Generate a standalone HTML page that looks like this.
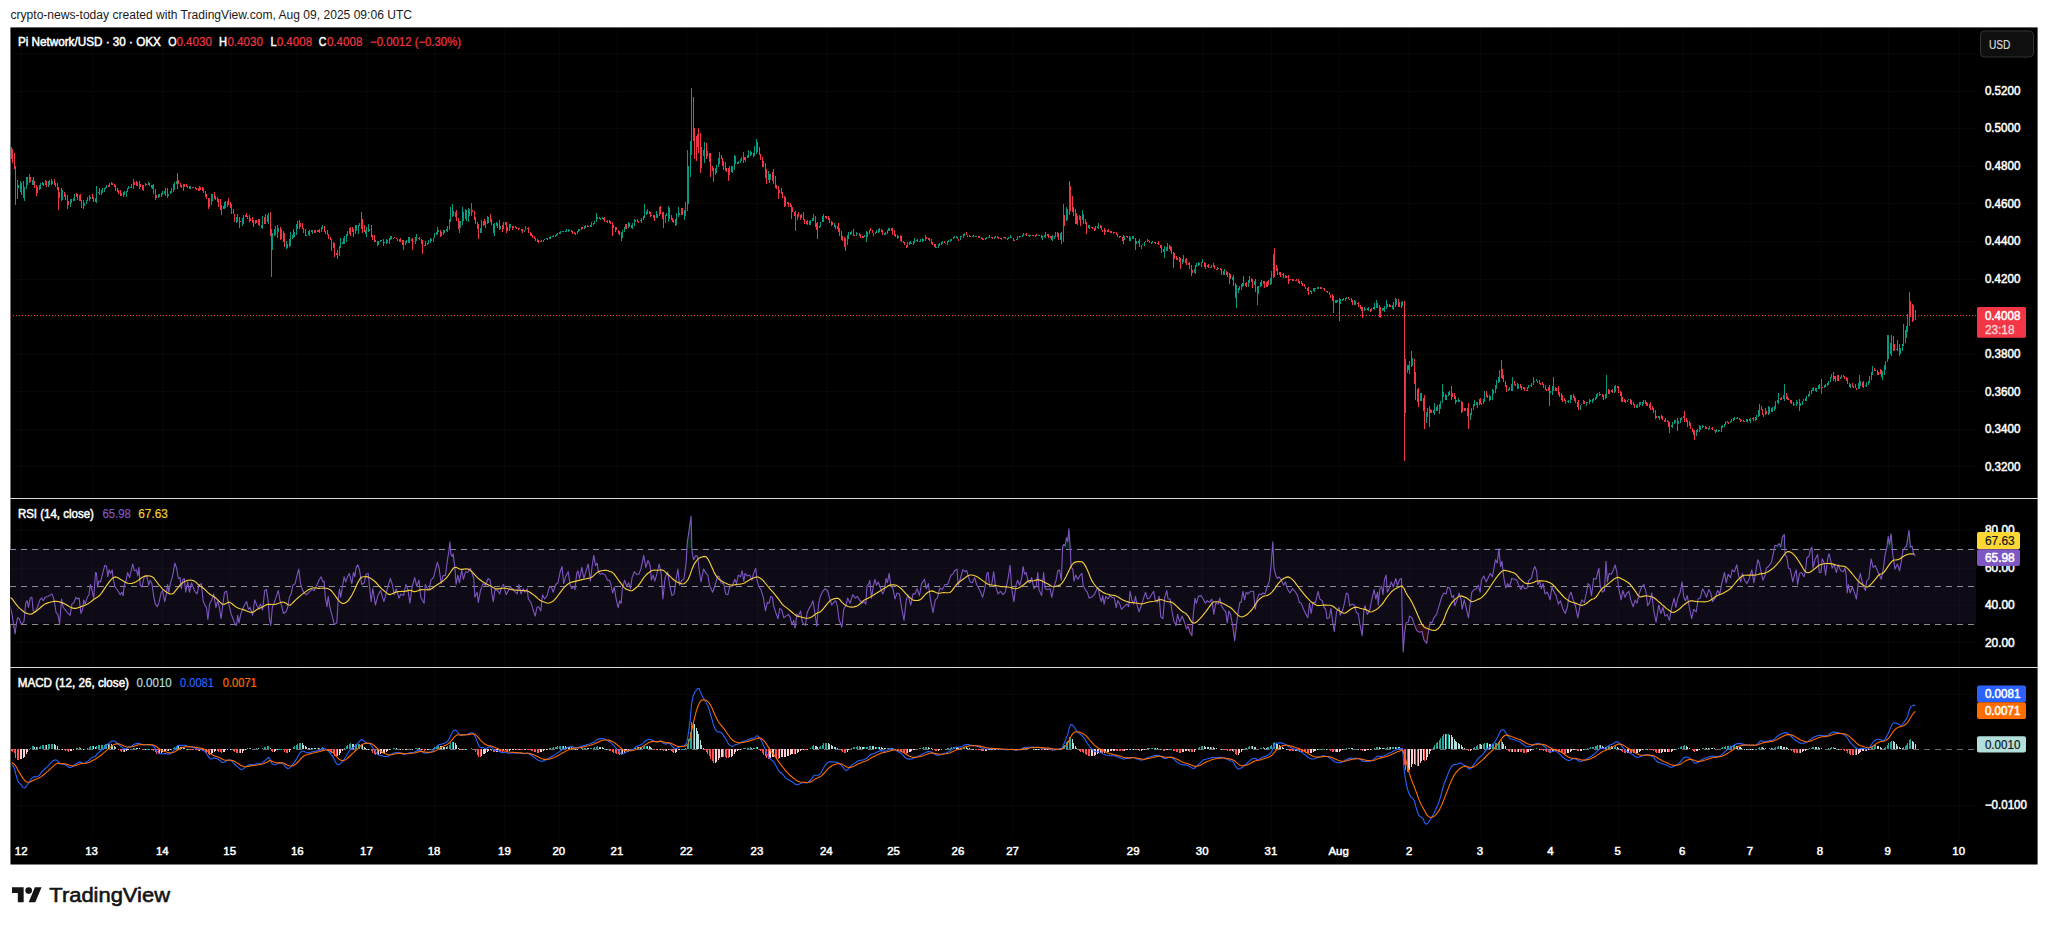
<!DOCTYPE html>
<html><head><meta charset="utf-8"><title>Pi Network/USD chart</title>
<style>html,body{margin:0;padding:0;background:#fff}body{width:2048px;height:925px;position:relative;overflow:hidden}</style></head>
<body>
<svg width="2048" height="925" viewBox="0 0 2048 925" style="position:absolute;left:0;top:0;font-family:'Liberation Sans',sans-serif">
<rect x="0" y="0" width="2048" height="925" fill="#fff"/>
<rect x="10.45" y="27.4" width="2027.15" height="837.1" fill="#000"/>
<rect x="10" y="548.75" width="1966" height="75.00" fill="#0e0a16"/>
<path d="M21.5 28V838M92.5 28V838M162.5 28V838M230.5 28V838M297.5 28V838M366.5 28V838M434.5 28V838M504.5 28V838M559.5 28V838M617.5 28V838M686.5 28V838M757.5 28V838M826.5 28V838M894.5 28V838M958.5 28V838M1012.5 28V838M1133.5 28V838M1202.5 28V838M1271.5 28V838M1339.5 28V838M1409.5 28V838M1480.5 28V838M1550.5 28V838M1618.5 28V838M1682.5 28V838M1750.5 28V838M1820.5 28V838M1888.5 28V838M1959.5 28V838M10 91.5H1976M10 128.5H1976M10 166.5H1976M10 203.5H1976M10 241.5H1976M10 279.5H1976M10 354.5H1976M10 391.5H1976M10 429.5H1976M10 466.5H1976M10 316.5H1976M10 53.5H1976M10 530.5H1976M10 568.5H1976M10 605.5H1976M10 642.5H1976M10 805.5H1976M10 694.5H1976" stroke="#9fb8b8" stroke-opacity="0.04" stroke-width="1" fill="none" shape-rendering="crispEdges"/>
<rect x="10" y="498" width="2028" height="1" fill="#d6d9e0"/>
<rect x="10" y="667" width="2028" height="1" fill="#d6d9e0"/>
<path d="M10 549.5H1974" stroke="#8a8d96" stroke-width="1" stroke-dasharray="6 5" fill="none" shape-rendering="crispEdges"/>
<path d="M10 586.5H1974" stroke="#8a8d96" stroke-width="1" stroke-dasharray="6 5" fill="none" shape-rendering="crispEdges"/>
<path d="M10 624.5H1974" stroke="#8a8d96" stroke-width="1" stroke-dasharray="6 5" fill="none" shape-rendering="crispEdges"/>
<path d="M10 749.5H1974" stroke="#6b6e76" stroke-width="1" stroke-dasharray="6 5" fill="none" shape-rendering="crispEdges"/>
<path d="M10 315.5H1976" stroke="#f23645" stroke-width="1" stroke-dasharray="1 2" fill="none" shape-rendering="crispEdges"/>
<path d="M18 185v3h1v-3zM20 181v11h1v-11zM24 187v14h1v-14zM26 177v12h1v-12zM27 177v8h1v-8zM29 174v9h1v-9zM32 180v5h1v-5zM37 187v6h1v-6zM39 185v5h1v-5zM40 183v6h1v-6zM42 182v3h1v-3zM45 180v5h1v-5zM48 181v6h1v-6zM49 180v5h1v-5zM52 181v3h1v-3zM59 192v6h1v-6zM61 188v13h1v-13zM62 190v10h1v-10zM70 199v8h1v-8zM71 199v4h1v-4zM73 198v3h1v-3zM74 194v7h1v-7zM79 195v6h1v-6zM83 200v9h1v-9zM84 203v3h1v-3zM86 200v4h1v-4zM87 197v4h1v-4zM90 197v2h1v-2zM96 186v17h1v-17zM98 192v1h1v-1zM101 190v5h1v-5zM102 188v5h1v-5zM104 188v4h1v-4zM105 187v2h1v-2zM106 185v3h1v-3zM109 183v4h1v-4zM111 182v3h1v-3zM124 191v4h1v-4zM126 191v6h1v-6zM127 188v4h1v-4zM128 186v3h1v-3zM130 187v1h1v-1zM131 184v4h1v-4zM133 179v10h1v-10zM137 182v4h1v-4zM143 185v6h1v-6zM145 183v3h1v-3zM148 182v3h1v-3zM152 185v4h1v-4zM158 194v4h1v-4zM159 194v3h1v-3zM161 193v4h1v-4zM162 191v4h1v-4zM164 191v3h1v-3zM168 194v2h1v-2zM170 191v3h1v-3zM171 188v5h1v-5zM173 184v8h1v-8zM174 182v8h1v-8zM176 181v3h1v-3zM183 184v7h1v-7zM190 186v3h1v-3zM199 186v5h1v-5zM209 198v9h1v-9zM211 194v11h1v-11zM212 194v7h1v-7zM223 206v3h1v-3zM224 202v7h1v-7zM225 201v7h1v-7zM227 201v6h1v-6zM236 217v6h1v-6zM242 218v8h1v-8zM243 215v9h1v-9zM247 216v3h1v-3zM255 220v4h1v-4zM262 216v13h1v-13zM265 214v10h1v-10zM268 213v11h1v-11zM272 233v17h1v-17zM274 229v7h1v-7zM275 226v9h1v-9zM277 225v13h1v-13zM278 228v4h1v-4zM286 241v8h1v-8zM289 239v8h1v-8zM290 232v14h1v-14zM292 235v4h1v-4zM293 229v9h1v-9zM294 232v5h1v-5zM296 224v11h1v-11zM297 221v8h1v-8zM299 220v9h1v-9zM306 235v1h1v-1zM308 231v4h1v-4zM309 230v6h1v-6zM312 230v4h1v-4zM317 230v2h1v-2zM319 229v4h1v-4zM321 227v5h1v-5zM322 225v4h1v-4zM337 250v9h1v-9zM339 246v10h1v-10zM340 238v10h1v-10zM342 242v2h1v-2zM343 238v6h1v-6zM344 236v8h1v-8zM346 234v8h1v-8zM347 231v5h1v-5zM349 228v6h1v-6zM355 225v9h1v-9zM356 225v6h1v-6zM358 225v9h1v-9zM359 223v3h1v-3zM366 227v10h1v-10zM368 224v8h1v-8zM378 241v4h1v-4zM380 240v2h1v-2zM381 240v1h1v-1zM384 242v1h1v-1zM386 239v5h1v-5zM387 240v3h1v-3zM389 238v6h1v-6zM390 236v4h1v-4zM393 238v1h1v-1zM399 239v3h1v-3zM405 241v4h1v-4zM406 240v3h1v-3zM408 237v6h1v-6zM409 237v6h1v-6zM413 241v1h1v-1zM415 237v7h1v-7zM416 234v7h1v-7zM425 241v5h1v-5zM428 240v4h1v-4zM430 238v5h1v-5zM433 238v4h1v-4zM434 233v5h1v-5zM436 232v3h1v-3zM437 227v8h1v-8zM438 230v2h1v-2zM443 230v5h1v-5zM444 230v3h1v-3zM446 229v2h1v-2zM447 226v6h1v-6zM449 219v11h1v-11zM450 207v15h1v-15zM452 204v13h1v-13zM459 221v12h1v-12zM460 221v7h1v-7zM462 207v18h1v-18zM463 212v9h1v-9zM466 210v11h1v-11zM468 208v14h1v-14zM469 209v7h1v-7zM471 203v13h1v-13zM480 228v5h1v-5zM481 220v13h1v-13zM483 221v5h1v-5zM485 221v7h1v-7zM487 216v8h1v-8zM488 217v6h1v-6zM494 223v13h1v-13zM496 222v4h1v-4zM500 226v3h1v-3zM503 222v7h1v-7zM505 222v3h1v-3zM509 224v7h1v-7zM510 224v4h1v-4zM513 226v2h1v-2zM524 230v2h1v-2zM525 226v4h1v-4zM527 228v1h1v-1zM541 240v2h1v-2zM543 240v2h1v-2zM544 239v1h1v-1zM546 238v1h1v-1zM547 238v2h1v-2zM549 237v2h1v-2zM550 236v3h1v-3zM552 236v1h1v-1zM553 235v2h1v-2zM555 235v2h1v-2zM556 234v2h1v-2zM557 233v2h1v-2zM559 232v2h1v-2zM560 231v3h1v-3zM562 231v1h1v-1zM566 229v3h1v-3zM568 229v3h1v-3zM577 231v3h1v-3zM578 229v3h1v-3zM579 229v2h1v-2zM581 227v3h1v-3zM584 226v3h1v-3zM585 225v3h1v-3zM590 225v2h1v-2zM591 222v5h1v-5zM593 223v2h1v-2zM594 221v3h1v-3zM596 213v9h1v-9zM597 217v2h1v-2zM600 218v2h1v-2zM602 217v2h1v-2zM609 220v3h1v-3zM622 230v8h1v-8zM624 227v5h1v-5zM625 224v5h1v-5zM628 222v6h1v-6zM632 223v6h1v-6zM634 219v7h1v-7zM635 220v2h1v-2zM640 220v1h1v-1zM641 218v5h1v-5zM643 216v4h1v-4zM644 204v14h1v-14zM646 211v4h1v-4zM647 209v5h1v-5zM656 211v7h1v-7zM657 214v4h1v-4zM659 207v9h1v-9zM665 215v8h1v-8zM666 213v3h1v-3zM668 206v16h1v-16zM673 220v3h1v-3zM675 219v7h1v-7zM676 213v12h1v-12zM678 207v10h1v-10zM681 208v7h1v-7zM684 210v10h1v-10zM685 202v14h1v-14zM687 150v61h1v-61zM688 166v38h1v-38zM690 141v36h1v-36zM691 88v67h1v-67zM697 134v13h1v-13zM701 147v21h1v-21zM703 150v6h1v-6zM704 142v21h1v-21zM715 168v7h1v-7zM716 165v8h1v-8zM718 158v9h1v-9zM719 152v12h1v-12zM729 166v9h1v-9zM732 166v7h1v-7zM734 155v15h1v-15zM738 161v3h1v-3zM740 159v4h1v-4zM741 157v4h1v-4zM743 152v11h1v-11zM745 157v5h1v-5zM747 155v3h1v-3zM748 150v8h1v-8zM750 151v5h1v-5zM754 146v10h1v-10zM756 139v15h1v-15zM768 171v9h1v-9zM770 174v6h1v-6zM779 190v3h1v-3zM781 188v6h1v-6zM787 202v2h1v-2zM797 214v6h1v-6zM801 214v4h1v-4zM807 220v5h1v-5zM809 221v4h1v-4zM810 220v5h1v-5zM812 218v3h1v-3zM813 214v7h1v-7zM819 226v2h1v-2zM820 222v5h1v-5zM822 216v6h1v-6zM823 214v8h1v-8zM834 223v4h1v-4zM845 238v13h1v-13zM847 235v10h1v-10zM848 232v7h1v-7zM850 232v3h1v-3zM851 231v3h1v-3zM856 232v4h1v-4zM857 233v1h1v-1zM863 236v2h1v-2zM864 235v2h1v-2zM866 231v11h1v-11zM867 232v5h1v-5zM869 230v4h1v-4zM875 232v2h1v-2zM876 230v3h1v-3zM878 229v4h1v-4zM884 233v2h1v-2zM885 232v3h1v-3zM887 230v4h1v-4zM888 228v3h1v-3zM889 228v3h1v-3zM898 236v2h1v-2zM907 242v5h1v-5zM909 242v3h1v-3zM910 241v3h1v-3zM913 241v4h1v-4zM914 238v5h1v-5zM916 240v1h1v-1zM919 241v1h1v-1zM920 239v3h1v-3zM922 238v4h1v-4zM925 235v6h1v-6zM936 247v1h1v-1zM938 244v4h1v-4zM939 243v3h1v-3zM941 242v3h1v-3zM942 241v3h1v-3zM947 241v4h1v-4zM948 240v2h1v-2zM950 239v3h1v-3zM951 239v2h1v-2zM953 237v2h1v-2zM954 236v2h1v-2zM956 236v2h1v-2zM960 236v4h1v-4zM961 236v1h1v-1zM963 234v4h1v-4zM964 233v3h1v-3zM972 236v1h1v-1zM976 236v1h1v-1zM985 238v2h1v-2zM986 237v2h1v-2zM988 237v1h1v-1zM989 235v3h1v-3zM994 237v2h1v-2zM995 236v2h1v-2zM1001 238v2h1v-2zM1003 237v1h1v-1zM1007 238v2h1v-2zM1008 237v2h1v-2zM1010 235v3h1v-3zM1016 239v1h1v-1zM1017 236v4h1v-4zM1019 236v2h1v-2zM1020 236v1h1v-1zM1022 235v2h1v-2zM1023 233v3h1v-3zM1028 235v1h1v-1zM1030 235v1h1v-1zM1033 235v1h1v-1zM1038 235v1h1v-1zM1042 236v4h1v-4zM1044 235v2h1v-2zM1045 232v6h1v-6zM1052 235v6h1v-6zM1054 236v3h1v-3zM1055 232v5h1v-5zM1060 233v7h1v-7zM1063 204v38h1v-38zM1066 207v14h1v-14zM1067 209v11h1v-11zM1069 181v34h1v-34zM1077 216v9h1v-9zM1079 215v5h1v-5zM1082 210v10h1v-10zM1088 225v3h1v-3zM1091 227v1h1v-1zM1095 226v4h1v-4zM1097 226v2h1v-2zM1098 223v6h1v-6zM1105 230v2h1v-2zM1107 230v2h1v-2zM1113 232v2h1v-2zM1124 236v4h1v-4zM1130 237v4h1v-4zM1132 236v3h1v-3zM1136 241v3h1v-3zM1138 241v2h1v-2zM1141 245v4h1v-4zM1142 244v1h1v-1zM1144 242v4h1v-4zM1145 241v1h1v-1zM1147 239v3h1v-3zM1152 241v2h1v-2zM1157 243v1h1v-1zM1164 246v12h1v-12zM1166 247v4h1v-4zM1167 243v8h1v-8zM1177 258v2h1v-2zM1182 259v5h1v-5zM1185 259v4h1v-4zM1194 269v4h1v-4zM1195 265v9h1v-9zM1196 263v4h1v-4zM1198 262v4h1v-4zM1199 263v2h1v-2zM1201 262v5h1v-5zM1202 259v4h1v-4zM1207 265v2h1v-2zM1210 267v1h1v-1zM1211 265v3h1v-3zM1217 267v3h1v-3zM1218 268v1h1v-1zM1224 269v6h1v-6zM1232 277v3h1v-3zM1236 285v23h1v-23zM1238 288v5h1v-5zM1239 286v4h1v-4zM1241 284v6h1v-6zM1242 283v4h1v-4zM1243 276v10h1v-10zM1248 280v7h1v-7zM1251 278v4h1v-4zM1254 281v4h1v-4zM1257 286v19h1v-19zM1258 286v8h1v-8zM1260 282v5h1v-5zM1261 280v6h1v-6zM1263 281v3h1v-3zM1267 281v6h1v-6zM1270 278v7h1v-7zM1271 271v13h1v-13zM1273 254v24h1v-24zM1279 272v3h1v-3zM1289 279v2h1v-2zM1295 280v1h1v-1zM1310 290v2h1v-2zM1313 288v3h1v-3zM1314 288v4h1v-4zM1315 288v1h1v-1zM1317 287v2h1v-2zM1318 287v2h1v-2zM1321 287v2h1v-2zM1336 300v3h1v-3zM1340 299v5h1v-5zM1342 299v2h1v-2zM1343 298v2h1v-2zM1345 298v3h1v-3zM1346 297v2h1v-2zM1354 300v5h1v-5zM1357 303v1h1v-1zM1364 307v4h1v-4zM1368 307v4h1v-4zM1371 308v3h1v-3zM1373 307v2h1v-2zM1374 303v7h1v-7zM1376 300v8h1v-8zM1382 308v3h1v-3zM1384 306v6h1v-6zM1386 300v9h1v-9zM1387 304v3h1v-3zM1392 305v4h1v-4zM1393 302v8h1v-8zM1396 299v6h1v-6zM1399 302v5h1v-5zM1402 301v5h1v-5zM1405 359v54h1v-54zM1407 365v8h1v-8zM1408 365v5h1v-5zM1409 361v13h1v-13zM1411 351v16h1v-16zM1412 358v8h1v-8zM1420 393v8h1v-8zM1426 412v11h1v-11zM1427 408v9h1v-9zM1429 406v21h1v-21zM1433 410v3h1v-3zM1434 403v12h1v-12zM1436 407v4h1v-4zM1439 404v10h1v-10zM1440 401v8h1v-8zM1442 384v19h1v-19zM1446 395v5h1v-5zM1448 392v4h1v-4zM1456 400v2h1v-2zM1458 398v4h1v-4zM1470 413v7h1v-7zM1471 408v7h1v-7zM1473 404v6h1v-6zM1474 400v6h1v-6zM1476 402v3h1v-3zM1477 402v6h1v-6zM1483 399v5h1v-5zM1484 391v11h1v-11zM1487 395v3h1v-3zM1490 396v4h1v-4zM1492 389v11h1v-11zM1495 385v8h1v-8zM1496 380v9h1v-9zM1498 377v6h1v-6zM1499 370v12h1v-12zM1508 389v2h1v-2zM1511 384v7h1v-7zM1512 377v14h1v-14zM1517 383v6h1v-6zM1518 384v5h1v-5zM1527 387v4h1v-4zM1528 385v3h1v-3zM1530 385v1h1v-1zM1531 383v4h1v-4zM1533 377v8h1v-8zM1534 381v1h1v-1zM1536 379v2h1v-2zM1550 391v2h1v-2zM1552 386v9h1v-9zM1553 377v14h1v-14zM1567 401v1h1v-1zM1568 400v3h1v-3zM1570 395v8h1v-8zM1571 395v5h1v-5zM1580 405v5h1v-5zM1581 404v1h1v-1zM1583 400v4h1v-4zM1586 402v4h1v-4zM1587 402v1h1v-1zM1589 399v5h1v-5zM1590 400v2h1v-2zM1592 399v4h1v-4zM1593 398v3h1v-3zM1595 397v3h1v-3zM1596 394v5h1v-5zM1597 393v4h1v-4zM1599 392v4h1v-4zM1600 394v1h1v-1zM1605 394v5h1v-5zM1606 375v23h1v-23zM1609 390v4h1v-4zM1614 386v7h1v-7zM1615 385v7h1v-7zM1617 386v2h1v-2zM1627 400v2h1v-2zM1628 399v1h1v-1zM1636 405v3h1v-3zM1637 404v4h1v-4zM1639 402v5h1v-5zM1640 402v3h1v-3zM1642 402v4h1v-4zM1643 400v4h1v-4zM1658 416v2h1v-2zM1659 416v4h1v-4zM1671 425v2h1v-2zM1672 422v6h1v-6zM1674 420v4h1v-4zM1675 420v3h1v-3zM1678 421v3h1v-3zM1680 418v5h1v-5zM1681 417v3h1v-3zM1683 416v2h1v-2zM1696 430v6h1v-6zM1697 429v3h1v-3zM1699 425v7h1v-7zM1700 426v4h1v-4zM1702 425v3h1v-3zM1708 428v2h1v-2zM1709 426v3h1v-3zM1716 429v3h1v-3zM1718 430v2h1v-2zM1721 426v6h1v-6zM1722 425v3h1v-3zM1724 424v3h1v-3zM1725 421v4h1v-4zM1727 421v2h1v-2zM1730 421v2h1v-2zM1731 419v3h1v-3zM1733 418v3h1v-3zM1734 417v3h1v-3zM1736 418v1h1v-1zM1746 419v3h1v-3zM1749 419v2h1v-2zM1750 418v5h1v-5zM1753 417v4h1v-4zM1755 417v4h1v-4zM1756 415v5h1v-5zM1758 410v7h1v-7zM1759 404v12h1v-12zM1763 414v3h1v-3zM1765 408v7h1v-7zM1768 406v9h1v-9zM1769 407v7h1v-7zM1772 407v5h1v-5zM1774 406v5h1v-5zM1775 401v8h1v-8zM1777 400v3h1v-3zM1778 393v11h1v-11zM1781 397v3h1v-3zM1783 395v4h1v-4zM1784 384v17h1v-17zM1794 404v1h1v-1zM1796 400v6h1v-6zM1800 403v3h1v-3zM1802 401v4h1v-4zM1803 399v2h1v-2zM1806 396v5h1v-5zM1808 394v3h1v-3zM1809 391v5h1v-5zM1811 390v4h1v-4zM1812 388v3h1v-3zM1813 387v4h1v-4zM1816 388v4h1v-4zM1818 385v4h1v-4zM1821 379v15h1v-15zM1824 385v3h1v-3zM1825 384v3h1v-3zM1827 383v3h1v-3zM1828 381v4h1v-4zM1830 377v5h1v-5zM1831 374v4h1v-4zM1837 375v6h1v-6zM1840 377v2h1v-2zM1841 375v3h1v-3zM1850 384v4h1v-4zM1853 386v2h1v-2zM1858 383v6h1v-6zM1859 375v14h1v-14zM1860 381v5h1v-5zM1866 382v5h1v-5zM1868 381v4h1v-4zM1869 376v7h1v-7zM1871 372v8h1v-8zM1872 366v9h1v-9zM1882 371v9h1v-9zM1884 365v10h1v-10zM1885 361v9h1v-9zM1887 335v27h1v-27zM1888 335v24h1v-24zM1890 343v11h1v-11zM1891 335v21h1v-21zM1896 349v1h1v-1zM1900 348v6h1v-6zM1902 344v7h1v-7zM1903 324v22h1v-22zM1905 330v13h1v-13zM1906 326v12h1v-12zM1907 314v18h1v-18zM1909 292v34h1v-34zM1913 305v16h1v-16z" fill="#089981" shape-rendering="crispEdges"/>
<path d="M11 147v12h1v-12zM12 149v14h1v-14zM14 153v16h1v-16zM15 166v39h1v-39zM17 180v19h1v-19zM21 183v12h1v-12zM23 181v17h1v-17zM30 177v5h1v-5zM33 177v8h1v-8zM34 181v7h1v-7zM36 185v11h1v-11zM43 183v3h1v-3zM46 181v6h1v-6zM51 179v6h1v-6zM54 179v6h1v-6zM55 183v4h1v-4zM57 183v7h1v-7zM58 187v23h1v-23zM64 192v5h1v-5zM65 194v6h1v-6zM67 195v14h1v-14zM68 201v4h1v-4zM76 193v4h1v-4zM77 194v6h1v-6zM80 194v7h1v-7zM81 200v8h1v-8zM89 195v6h1v-6zM92 194v5h1v-5zM93 197v5h1v-5zM95 198v4h1v-4zM99 188v7h1v-7zM108 185v2h1v-2zM112 183v2h1v-2zM114 184v3h1v-3zM115 185v6h1v-6zM117 188v4h1v-4zM118 190v4h1v-4zM120 190v6h1v-6zM121 193v3h1v-3zM123 192v5h1v-5zM134 182v3h1v-3zM136 181v5h1v-5zM139 181v8h1v-8zM140 184v3h1v-3zM142 185v5h1v-5zM146 184v1h1v-1zM149 183v3h1v-3zM151 185v3h1v-3zM153 184v10h1v-10zM155 189v11h1v-11zM156 195v3h1v-3zM165 188v8h1v-8zM167 188v10h1v-10zM177 173v16h1v-16zM178 180v4h1v-4zM180 183v4h1v-4zM181 185v3h1v-3zM184 184v3h1v-3zM186 184v3h1v-3zM187 186v2h1v-2zM189 186v3h1v-3zM192 187v1h1v-1zM193 187v1h1v-1zM195 187v2h1v-2zM196 188v2h1v-2zM198 188v3h1v-3zM200 187v3h1v-3zM202 187v4h1v-4zM203 188v5h1v-5zM205 191v6h1v-6zM206 194v5h1v-5zM208 198v11h1v-11zM214 192v7h1v-7zM215 196v4h1v-4zM217 197v5h1v-5zM218 199v8h1v-8zM220 199v11h1v-11zM221 205v10h1v-10zM228 198v7h1v-7zM230 202v6h1v-6zM231 204v10h1v-10zM233 209v5h1v-5zM234 214v8h1v-8zM237 214v8h1v-8zM239 217v11h1v-11zM240 221v1h1v-1zM245 215v2h1v-2zM246 213v4h1v-4zM249 215v7h1v-7zM250 218v3h1v-3zM252 217v6h1v-6zM253 220v7h1v-7zM256 220v3h1v-3zM258 219v6h1v-6zM259 219v7h1v-7zM261 225v3h1v-3zM264 217v7h1v-7zM267 215v7h1v-7zM270 212v24h1v-24zM271 229v48h1v-48zM280 227v13h1v-13zM281 229v10h1v-10zM283 231v11h1v-11zM284 233v14h1v-14zM287 244v4h1v-4zM300 223v4h1v-4zM302 223v6h1v-6zM303 228v5h1v-5zM305 229v7h1v-7zM311 230v2h1v-2zM314 230v3h1v-3zM315 230v3h1v-3zM318 230v2h1v-2zM324 226v6h1v-6zM325 231v3h1v-3zM327 230v5h1v-5zM328 234v5h1v-5zM330 237v3h1v-3zM331 239v12h1v-12zM333 242v6h1v-6zM334 243v14h1v-14zM336 253v2h1v-2zM350 227v9h1v-9zM352 227v5h1v-5zM353 229v8h1v-8zM361 212v17h1v-17zM362 219v14h1v-14zM364 225v7h1v-7zM365 230v4h1v-4zM369 229v2h1v-2zM371 225v12h1v-12zM372 235v5h1v-5zM374 235v7h1v-7zM375 240v2h1v-2zM377 241v5h1v-5zM383 239v7h1v-7zM391 236v3h1v-3zM394 237v1h1v-1zM396 238v1h1v-1zM397 239v2h1v-2zM400 238v4h1v-4zM402 240v5h1v-5zM403 240v10h1v-10zM411 239v2h1v-2zM412 238v12h1v-12zM418 238v1h1v-1zM419 237v3h1v-3zM421 239v5h1v-5zM422 240v14h1v-14zM424 245v1h1v-1zM427 243v2h1v-2zM431 239v2h1v-2zM440 230v7h1v-7zM441 232v4h1v-4zM453 211v5h1v-5zM455 212v5h1v-5zM456 210v11h1v-11zM458 218v11h1v-11zM465 209v10h1v-10zM472 210v2h1v-2zM474 211v9h1v-9zM475 217v7h1v-7zM477 222v7h1v-7zM478 224v15h1v-15zM484 219v6h1v-6zM490 214v8h1v-8zM491 219v6h1v-6zM493 224v9h1v-9zM497 223v5h1v-5zM499 220v10h1v-10zM502 225v7h1v-7zM506 222v11h1v-11zM507 227v4h1v-4zM512 226v4h1v-4zM515 226v2h1v-2zM516 227v2h1v-2zM518 228v2h1v-2zM519 228v1h1v-1zM521 229v2h1v-2zM522 229v4h1v-4zM528 227v6h1v-6zM530 232v4h1v-4zM531 233v3h1v-3zM532 235v3h1v-3zM534 236v3h1v-3zM535 238v3h1v-3zM537 239v3h1v-3zM538 240v3h1v-3zM540 241v1h1v-1zM563 231v1h1v-1zM565 231v1h1v-1zM569 230v1h1v-1zM571 230v2h1v-2zM572 231v3h1v-3zM574 232v2h1v-2zM575 233v2h1v-2zM582 227v2h1v-2zM587 225v2h1v-2zM588 226v1h1v-1zM599 217v2h1v-2zM603 218v2h1v-2zM604 217v5h1v-5zM606 221v1h1v-1zM607 220v3h1v-3zM610 221v3h1v-3zM612 222v14h1v-14zM613 225v3h1v-3zM615 227v5h1v-5zM616 227v3h1v-3zM618 230v4h1v-4zM619 231v4h1v-4zM621 232v9h1v-9zM626 224v5h1v-5zM629 223v4h1v-4zM631 225v3h1v-3zM637 219v3h1v-3zM638 221v2h1v-2zM649 211v3h1v-3zM650 212v5h1v-5zM651 215v1h1v-1zM653 215v3h1v-3zM654 215v6h1v-6zM660 206v8h1v-8zM662 212v7h1v-7zM663 212v16h1v-16zM669 208v11h1v-11zM671 215v5h1v-5zM672 218v4h1v-4zM679 213v2h1v-2zM682 208v7h1v-7zM693 97v44h1v-44zM694 128v31h1v-31zM696 136v25h1v-25zM698 128v25h1v-25zM700 133v40h1v-40zM706 143v16h1v-16zM707 151v5h1v-5zM709 153v9h1v-9zM710 153v24h1v-24zM712 166v5h1v-5zM713 168v14h1v-14zM721 155v4h1v-4zM722 158v8h1v-8zM723 161v9h1v-9zM725 162v9h1v-9zM726 168v4h1v-4zM728 168v13h1v-13zM731 166v6h1v-6zM735 156v8h1v-8zM737 162v2h1v-2zM744 157v3h1v-3zM751 152v3h1v-3zM753 153v4h1v-4zM757 142v10h1v-10zM759 147v8h1v-8zM760 154v6h1v-6zM762 157v10h1v-10zM763 161v6h1v-6zM765 163v15h1v-15zM766 169v15h1v-15zM769 174v9h1v-9zM772 172v9h1v-9zM773 169v15h1v-15zM775 176v12h1v-12zM776 185v4h1v-4zM778 186v13h1v-13zM782 192v6h1v-6zM784 196v11h1v-11zM785 197v9h1v-9zM788 202v5h1v-5zM790 203v4h1v-4zM791 205v14h1v-14zM792 207v5h1v-5zM794 212v4h1v-4zM795 211v20h1v-20zM798 212v5h1v-5zM800 215v5h1v-5zM803 212v8h1v-8zM804 219v5h1v-5zM806 221v3h1v-3zM815 216v11h1v-11zM816 223v7h1v-7zM817 222v17h1v-17zM825 216v2h1v-2zM826 216v3h1v-3zM828 216v4h1v-4zM829 218v5h1v-5zM831 221v5h1v-5zM832 222v3h1v-3zM835 225v4h1v-4zM837 226v3h1v-3zM838 223v9h1v-9zM839 228v8h1v-8zM841 231v9h1v-9zM842 236v5h1v-5zM844 237v10h1v-10zM853 229v7h1v-7zM854 235v1h1v-1zM859 233v3h1v-3zM860 234v4h1v-4zM862 236v2h1v-2zM870 228v3h1v-3zM872 230v3h1v-3zM873 233v3h1v-3zM879 228v4h1v-4zM881 229v3h1v-3zM882 230v5h1v-5zM891 228v3h1v-3zM892 228v7h1v-7zM894 230v6h1v-6zM895 234v3h1v-3zM897 235v4h1v-4zM900 235v6h1v-6zM901 236v6h1v-6zM903 241v2h1v-2zM904 242v3h1v-3zM906 245v3h1v-3zM911 243v1h1v-1zM917 239v3h1v-3zM923 239v2h1v-2zM926 237v2h1v-2zM928 238v2h1v-2zM929 238v3h1v-3zM931 239v5h1v-5zM932 242v3h1v-3zM934 244v3h1v-3zM935 244v4h1v-4zM944 241v2h1v-2zM945 243v1h1v-1zM957 237v2h1v-2zM958 239v2h1v-2zM966 232v3h1v-3zM967 235v2h1v-2zM969 235v2h1v-2zM970 236v1h1v-1zM973 235v2h1v-2zM975 236v1h1v-1zM978 236v2h1v-2zM979 236v2h1v-2zM981 237v2h1v-2zM982 238v2h1v-2zM983 239v1h1v-1zM991 237v1h1v-1zM992 237v2h1v-2zM997 236v2h1v-2zM998 237v2h1v-2zM1000 238v1h1v-1zM1004 237v1h1v-1zM1005 237v2h1v-2zM1011 237v1h1v-1zM1013 238v3h1v-3zM1014 240v1h1v-1zM1025 234v1h1v-1zM1026 233v3h1v-3zM1029 235v2h1v-2zM1032 235v1h1v-1zM1035 235v2h1v-2zM1036 234v2h1v-2zM1039 235v1h1v-1zM1041 235v3h1v-3zM1047 234v2h1v-2zM1048 234v4h1v-4zM1050 236v2h1v-2zM1051 236v4h1v-4zM1057 232v5h1v-5zM1058 233v7h1v-7zM1061 232v12h1v-12zM1064 215v11h1v-11zM1070 186v25h1v-25zM1072 196v16h1v-16zM1073 207v9h1v-9zM1075 209v15h1v-15zM1076 213v11h1v-11zM1080 216v10h1v-10zM1083 214v10h1v-10zM1085 219v5h1v-5zM1086 222v12h1v-12zM1089 225v4h1v-4zM1092 227v2h1v-2zM1094 228v3h1v-3zM1100 225v3h1v-3zM1101 226v4h1v-4zM1102 230v2h1v-2zM1104 228v7h1v-7zM1108 229v3h1v-3zM1110 231v2h1v-2zM1111 231v2h1v-2zM1114 232v1h1v-1zM1116 232v3h1v-3zM1117 234v3h1v-3zM1119 236v2h1v-2zM1120 236v1h1v-1zM1122 237v4h1v-4zM1123 235v9h1v-9zM1126 236v1h1v-1zM1127 236v2h1v-2zM1129 236v5h1v-5zM1133 236v3h1v-3zM1135 238v12h1v-12zM1139 239v8h1v-8zM1148 240v1h1v-1zM1149 241v2h1v-2zM1151 242v2h1v-2zM1154 242v1h1v-1zM1155 242v2h1v-2zM1158 241v4h1v-4zM1160 245v3h1v-3zM1161 245v8h1v-8zM1163 249v3h1v-3zM1169 245v4h1v-4zM1170 246v5h1v-5zM1171 247v7h1v-7zM1173 252v16h1v-16zM1174 253v6h1v-6zM1176 256v4h1v-4zM1179 257v5h1v-5zM1180 258v11h1v-11zM1183 255v7h1v-7zM1186 258v7h1v-7zM1188 263v2h1v-2zM1189 262v7h1v-7zM1191 265v11h1v-11zM1192 270v3h1v-3zM1204 262v5h1v-5zM1205 263v6h1v-6zM1208 264v4h1v-4zM1213 263v4h1v-4zM1214 265v4h1v-4zM1216 269v1h1v-1zM1220 268v2h1v-2zM1221 269v6h1v-6zM1223 271v4h1v-4zM1226 271v4h1v-4zM1227 272v5h1v-5zM1229 273v11h1v-11zM1230 274v5h1v-5zM1233 275v11h1v-11zM1235 283v15h1v-15zM1245 283v3h1v-3zM1246 282v5h1v-5zM1249 276v7h1v-7zM1252 279v9h1v-9zM1255 279v13h1v-13zM1264 281v7h1v-7zM1266 282v5h1v-5zM1268 280v5h1v-5zM1274 248v29h1v-29zM1276 265v6h1v-6zM1277 268v7h1v-7zM1280 272v5h1v-5zM1282 274v1h1v-1zM1283 273v5h1v-5zM1285 275v3h1v-3zM1286 276v2h1v-2zM1288 275v9h1v-9zM1290 279v1h1v-1zM1292 279v2h1v-2zM1293 279v2h1v-2zM1296 279v2h1v-2zM1298 279v4h1v-4zM1299 281v3h1v-3zM1301 281v3h1v-3zM1302 283v3h1v-3zM1304 284v3h1v-3zM1305 287v2h1v-2zM1307 288v3h1v-3zM1308 287v8h1v-8zM1311 291v3h1v-3zM1320 287v2h1v-2zM1323 288v1h1v-1zM1324 288v3h1v-3zM1326 291v1h1v-1zM1327 291v2h1v-2zM1329 292v3h1v-3zM1330 295v3h1v-3zM1332 294v7h1v-7zM1333 296v17h1v-17zM1335 300v3h1v-3zM1337 300v2h1v-2zM1339 298v23h1v-23zM1348 297v2h1v-2zM1349 299v1h1v-1zM1351 298v4h1v-4zM1352 300v5h1v-5zM1355 301v4h1v-4zM1358 302v5h1v-5zM1360 305v4h1v-4zM1361 307v4h1v-4zM1362 307v11h1v-11zM1365 309v1h1v-1zM1367 308v2h1v-2zM1370 309v3h1v-3zM1377 303v5h1v-5zM1379 305v12h1v-12zM1380 307v11h1v-11zM1383 308v2h1v-2zM1389 304v3h1v-3zM1390 305v2h1v-2zM1395 298v9h1v-9zM1398 299v8h1v-8zM1401 302v6h1v-6zM1404 301v160h1v-160zM1414 359v25h1v-25zM1415 372v28h1v-28zM1417 389v13h1v-13zM1418 388v19h1v-19zM1421 393v8h1v-8zM1423 398v13h1v-13zM1424 395v34h1v-34zM1430 409v4h1v-4zM1431 410v3h1v-3zM1437 405v6h1v-6zM1443 392v5h1v-5zM1445 394v6h1v-6zM1449 391v4h1v-4zM1451 386v14h1v-14zM1452 393v4h1v-4zM1454 393v6h1v-6zM1455 396v8h1v-8zM1459 400v2h1v-2zM1461 401v12h1v-12zM1462 402v10h1v-10zM1464 408v3h1v-3zM1465 408v3h1v-3zM1467 408v8h1v-8zM1468 403v26h1v-26zM1479 399v6h1v-6zM1480 398v6h1v-6zM1481 403v2h1v-2zM1486 391v6h1v-6zM1489 395v6h1v-6zM1493 390v4h1v-4zM1501 360v18h1v-18zM1502 369v10h1v-10zM1503 375v7h1v-7zM1505 381v6h1v-6zM1506 385v7h1v-7zM1509 387v3h1v-3zM1514 381v4h1v-4zM1515 384v2h1v-2zM1520 384v4h1v-4zM1521 386v4h1v-4zM1523 387v2h1v-2zM1524 387v4h1v-4zM1526 390v1h1v-1zM1537 381v2h1v-2zM1539 380v4h1v-4zM1540 383v2h1v-2zM1542 382v3h1v-3zM1543 384v4h1v-4zM1545 385v5h1v-5zM1546 389v2h1v-2zM1548 387v4h1v-4zM1549 385v21h1v-21zM1555 387v4h1v-4zM1556 388v3h1v-3zM1558 386v9h1v-9zM1559 392v5h1v-5zM1561 393v7h1v-7zM1562 395v7h1v-7zM1564 398v3h1v-3zM1565 400v4h1v-4zM1573 394v4h1v-4zM1574 396v5h1v-5zM1575 398v5h1v-5zM1577 402v5h1v-5zM1578 400v10h1v-10zM1584 401v3h1v-3zM1602 394v3h1v-3zM1603 395v5h1v-5zM1608 389v5h1v-5zM1611 390v2h1v-2zM1612 389v4h1v-4zM1618 386v7h1v-7zM1620 391v5h1v-5zM1621 392v10h1v-10zM1622 397v5h1v-5zM1624 399v3h1v-3zM1625 400v3h1v-3zM1630 399v5h1v-5zM1631 400v5h1v-5zM1633 402v3h1v-3zM1634 404v4h1v-4zM1645 400v4h1v-4zM1646 402v4h1v-4zM1647 403v3h1v-3zM1649 404v4h1v-4zM1650 402v8h1v-8zM1652 406v4h1v-4zM1653 408v5h1v-5zM1655 410v9h1v-9zM1656 416v2h1v-2zM1661 415v4h1v-4zM1662 416v4h1v-4zM1664 420v2h1v-2zM1665 418v4h1v-4zM1667 420v2h1v-2zM1668 421v6h1v-6zM1669 422v11h1v-11zM1677 418v13h1v-13zM1684 411v11h1v-11zM1686 418v4h1v-4zM1687 420v7h1v-7zM1689 421v5h1v-5zM1690 423v6h1v-6zM1692 428v4h1v-4zM1693 430v5h1v-5zM1694 430v10h1v-10zM1703 426v1h1v-1zM1705 426v3h1v-3zM1706 427v2h1v-2zM1711 428v1h1v-1zM1712 427v3h1v-3zM1714 430v1h1v-1zM1715 430v3h1v-3zM1719 430v1h1v-1zM1728 422v2h1v-2zM1737 417v2h1v-2zM1739 418v2h1v-2zM1740 419v3h1v-3zM1741 420v1h1v-1zM1743 420v2h1v-2zM1744 421v1h1v-1zM1747 419v3h1v-3zM1752 418v1h1v-1zM1761 406v4h1v-4zM1762 409v6h1v-6zM1766 411v3h1v-3zM1771 408v4h1v-4zM1780 398v2h1v-2zM1786 393v6h1v-6zM1787 396v4h1v-4zM1788 398v2h1v-2zM1790 400v3h1v-3zM1791 400v4h1v-4zM1793 402v4h1v-4zM1797 402v2h1v-2zM1799 399v12h1v-12zM1805 398v3h1v-3zM1815 388v3h1v-3zM1819 384v5h1v-5zM1822 387v1h1v-1zM1833 372v9h1v-9zM1834 376v3h1v-3zM1835 376v6h1v-6zM1838 375v6h1v-6zM1843 375v2h1v-2zM1844 376v3h1v-3zM1846 377v4h1v-4zM1847 378v6h1v-6zM1849 383v4h1v-4zM1852 383v4h1v-4zM1855 384v4h1v-4zM1856 388v2h1v-2zM1862 382v5h1v-5zM1863 381v7h1v-7zM1865 385v1h1v-1zM1874 368v3h1v-3zM1875 370v1h1v-1zM1877 370v5h1v-5zM1878 372v3h1v-3zM1880 369v5h1v-5zM1881 370v7h1v-7zM1893 336v15h1v-15zM1894 344v7h1v-7zM1897 340v11h1v-11zM1899 344v12h1v-12zM1910 301v16h1v-16zM1912 304v18h1v-18zM1915 310v10h1v-10z" fill="#f23645" shape-rendering="crispEdges"/>
<path d="M29 749.2v0.5h1v-0.5zM30 747.6v1.8h1v-1.8zM32 746.3v3.1h1v-3.1zM33 746.1v3.3h1v-3.3zM37 747.4v2.0h1v-2.0zM39 746.8v2.6h1v-2.6zM40 745.7v3.7h1v-3.7zM42 744.9v4.5h1v-4.5zM43 744.7v4.7h1v-4.7zM45 744.5v4.9h1v-4.9zM48 744.3v5.1h1v-5.1zM49 743.9v5.5h1v-5.5zM51 743.8v5.6h1v-5.6zM52 743.8v5.6h1v-5.6zM74 748.6v0.8h1v-0.8zM76 747.9v1.5h1v-1.5zM77 747.5v1.9h1v-1.9zM79 747.3v2.1h1v-2.1zM84 749.0v0.5h1v-0.5zM86 748.5v0.9h1v-0.9zM87 747.7v1.7h1v-1.7zM89 747.0v2.4h1v-2.4zM90 746.4v3.0h1v-3.0zM92 746.2v3.2h1v-3.2zM96 745.7v3.7h1v-3.7zM98 745.1v4.3h1v-4.3zM99 745.0v4.4h1v-4.4zM101 744.9v4.5h1v-4.5zM102 744.8v4.6h1v-4.6zM104 744.6v4.8h1v-4.8zM105 744.3v5.1h1v-5.1zM106 744.2v5.2h1v-5.2zM109 744.3v5.1h1v-5.1zM130 749.0v0.5h1v-0.5zM131 748.6v0.8h1v-0.8zM133 747.9v1.5h1v-1.5zM134 747.5v1.9h1v-1.9zM146 749.3v0.5h1v-0.5zM148 749.2v0.5h1v-0.5zM171 749.3v0.5h1v-0.5zM173 748.1v1.3h1v-1.3zM174 746.9v2.5h1v-2.5zM176 746.0v3.4h1v-3.4zM177 745.3v4.1h1v-4.1zM228 748.9v0.5h1v-0.5zM246 749.1v0.5h1v-0.5zM247 748.3v1.1h1v-1.1zM249 748.1v1.3h1v-1.3zM255 748.5v0.9h1v-0.9zM256 748.3v1.1h1v-1.1zM262 747.9v1.5h1v-1.5zM264 747.3v2.1h1v-2.1zM265 746.6v2.8h1v-2.8zM267 746.3v3.1h1v-3.1zM268 745.5v3.9h1v-3.9zM278 749.3v0.5h1v-0.5zM280 749.2v0.5h1v-0.5zM292 748.8v0.6h1v-0.6zM293 747.4v2.0h1v-2.0zM294 746.2v3.2h1v-3.2zM296 744.9v4.5h1v-4.5zM297 743.7v5.7h1v-5.7zM299 742.7v6.7h1v-6.7zM300 742.7v6.7h1v-6.7zM312 747.9v1.5h1v-1.5zM317 748.0v1.4h1v-1.4zM319 748.1v1.3h1v-1.3zM321 747.7v1.7h1v-1.7zM322 747.4v2.0h1v-2.0zM343 749.2v0.5h1v-0.5zM344 747.5v1.9h1v-1.9zM346 746.0v3.4h1v-3.4zM347 744.7v4.7h1v-4.7zM349 743.5v5.9h1v-5.9zM350 743.4v6.0h1v-6.0zM355 744.3v5.1h1v-5.1zM356 744.0v5.4h1v-5.4zM358 743.9v5.5h1v-5.5zM359 743.8v5.6h1v-5.6zM361 743.5v5.9h1v-5.9zM390 749.3v0.5h1v-0.5zM391 748.7v0.7h1v-0.7zM393 748.3v1.1h1v-1.1zM394 748.2v1.2h1v-1.2zM408 748.9v0.5h1v-0.5zM409 748.6v0.8h1v-0.8zM413 748.8v0.6h1v-0.6zM415 748.2v1.2h1v-1.2zM416 747.8v1.6h1v-1.6zM418 747.7v1.7h1v-1.7zM430 749.2v0.5h1v-0.5zM431 748.7v0.7h1v-0.7zM433 748.0v1.4h1v-1.4zM434 747.2v2.2h1v-2.2zM436 746.4v3.0h1v-3.0zM437 745.7v3.7h1v-3.7zM438 745.4v4.0h1v-4.0zM447 746.2v3.2h1v-3.2zM449 745.0v4.4h1v-4.4zM450 743.3v6.1h1v-6.1zM452 742.2v7.2h1v-7.2zM463 749.2v0.5h1v-0.5zM466 749.0v0.5h1v-0.5zM468 748.6v0.8h1v-0.8zM469 748.5v0.9h1v-0.9zM471 748.1v1.3h1v-1.3zM527 749.3v0.5h1v-0.5zM547 749.0v0.5h1v-0.5zM549 748.4v1.0h1v-1.0zM550 747.9v1.5h1v-1.5zM552 747.5v1.9h1v-1.9zM553 747.2v2.2h1v-2.2zM555 746.9v2.5h1v-2.5zM556 746.6v2.8h1v-2.8zM557 746.4v3.0h1v-3.0zM559 746.2v3.2h1v-3.2zM560 746.0v3.4h1v-3.4zM562 745.8v3.6h1v-3.6zM578 748.8v0.6h1v-0.6zM579 748.6v0.8h1v-0.8zM581 748.3v1.1h1v-1.1zM582 748.2v1.2h1v-1.2zM584 748.0v1.4h1v-1.4zM585 747.9v1.5h1v-1.5zM590 747.8v1.6h1v-1.6zM591 747.6v1.8h1v-1.8zM593 747.5v1.9h1v-1.9zM594 747.3v2.1h1v-2.1zM596 746.7v2.7h1v-2.7zM597 746.4v3.0h1v-3.0zM629 749.1v0.5h1v-0.5zM631 748.9v0.5h1v-0.5zM632 748.5v0.9h1v-0.9zM634 747.6v1.8h1v-1.8zM635 747.0v2.4h1v-2.4zM637 746.8v2.6h1v-2.6zM641 746.9v2.5h1v-2.5zM643 746.5v2.9h1v-2.9zM644 745.8v3.6h1v-3.6zM646 745.5v3.9h1v-3.9zM659 748.9v0.5h1v-0.5zM681 749.2v0.5h1v-0.5zM682 749.0v0.5h1v-0.5zM684 748.8v0.6h1v-0.6zM685 747.9v1.5h1v-1.5zM687 745.4v4.0h1v-4.0zM688 738.6v10.8h1v-10.8zM690 731.7v17.7h1v-17.7zM691 721.9v27.5h1v-27.5zM693 721.6v27.8h1v-27.8zM741 748.9v0.5h1v-0.5zM743 748.4v1.0h1v-1.0zM744 748.4v1.0h1v-1.0zM745 748.3v1.1h1v-1.1zM747 748.0v1.4h1v-1.4zM748 747.7v1.7h1v-1.7zM750 747.4v2.0h1v-2.0zM754 747.8v1.6h1v-1.6zM756 746.7v2.7h1v-2.7zM809 748.6v0.8h1v-0.8zM810 747.5v1.9h1v-1.9zM812 746.4v3.0h1v-3.0zM813 745.4v4.0h1v-4.0zM819 746.8v2.6h1v-2.6zM820 745.9v3.5h1v-3.5zM822 744.6v4.8h1v-4.8zM823 743.4v6.0h1v-6.0zM825 742.7v6.7h1v-6.7zM826 742.6v6.8h1v-6.8zM850 748.8v0.6h1v-0.6zM851 747.6v1.8h1v-1.8zM853 747.2v2.2h1v-2.2zM854 746.9v2.5h1v-2.5zM856 746.6v2.8h1v-2.8zM857 746.4v3.0h1v-3.0zM859 746.4v3.0h1v-3.0zM864 747.3v2.1h1v-2.1zM866 747.1v2.3h1v-2.3zM867 746.6v2.8h1v-2.8zM869 745.8v3.6h1v-3.6zM870 745.6v3.8h1v-3.8zM876 746.5v2.9h1v-2.9zM878 746.5v2.9h1v-2.9zM887 748.1v1.3h1v-1.3zM888 747.8v1.6h1v-1.6zM889 747.5v1.9h1v-1.9zM916 748.8v0.6h1v-0.6zM917 748.6v0.8h1v-0.8zM919 748.3v1.1h1v-1.1zM920 748.0v1.4h1v-1.4zM922 747.6v1.8h1v-1.8zM923 747.4v2.0h1v-2.0zM925 747.1v2.3h1v-2.3zM926 747.1v2.3h1v-2.3zM942 748.9v0.5h1v-0.5zM944 748.7v0.7h1v-0.7zM945 748.6v0.8h1v-0.8zM947 748.3v1.1h1v-1.1zM948 748.0v1.4h1v-1.4zM950 747.6v1.8h1v-1.8zM951 747.2v2.2h1v-2.2zM953 746.8v2.6h1v-2.6zM954 746.7v2.7h1v-2.7zM961 747.6v1.8h1v-1.8zM963 747.4v2.0h1v-2.0zM964 747.1v2.3h1v-2.3zM1010 749.4v0.5h1v-0.5zM1011 749.4v0.5h1v-0.5zM1019 749.2v0.5h1v-0.5zM1020 748.8v0.6h1v-0.6zM1022 748.5v0.9h1v-0.9zM1023 748.1v1.3h1v-1.3zM1025 748.0v1.4h1v-1.4zM1058 749.3v0.5h1v-0.5zM1060 749.0v0.5h1v-0.5zM1063 746.2v3.2h1v-3.2zM1064 744.5v4.9h1v-4.9zM1066 742.3v7.1h1v-7.1zM1067 740.9v8.5h1v-8.5zM1069 737.3v12.1h1v-12.1zM1070 737.3v12.1h1v-12.1zM1132 749.0v0.5h1v-0.5zM1145 749.0v0.5h1v-0.5zM1147 748.4v1.0h1v-1.0zM1148 748.1v1.3h1v-1.3zM1149 748.1v1.3h1v-1.3zM1151 748.0v1.4h1v-1.4zM1152 747.9v1.5h1v-1.5zM1154 747.9v1.5h1v-1.5zM1169 749.3v0.5h1v-0.5zM1170 749.2v0.5h1v-0.5zM1196 748.9v0.5h1v-0.5zM1198 747.9v1.5h1v-1.5zM1199 747.1v2.3h1v-2.3zM1201 746.4v3.0h1v-3.0zM1202 745.8v3.6h1v-3.6zM1211 747.2v2.2h1v-2.2zM1218 748.5v0.9h1v-0.9zM1243 749.2v0.5h1v-0.5zM1245 748.4v1.0h1v-1.0zM1246 747.8v1.6h1v-1.6zM1248 746.9v2.5h1v-2.5zM1249 746.3v3.1h1v-3.1zM1251 745.9v3.5h1v-3.5zM1260 748.2v1.2h1v-1.2zM1261 747.6v1.8h1v-1.8zM1263 747.3v2.1h1v-2.1zM1267 747.2v2.2h1v-2.2zM1268 746.9v2.5h1v-2.5zM1270 746.4v3.0h1v-3.0zM1271 745.3v4.1h1v-4.1zM1273 743.1v6.3h1v-6.3zM1274 742.3v7.1h1v-7.1zM1318 749.3v0.5h1v-0.5zM1320 749.0v0.5h1v-0.5zM1321 748.7v0.7h1v-0.7zM1323 748.7v0.7h1v-0.7zM1343 749.3v0.5h1v-0.5zM1345 748.6v0.8h1v-0.8zM1346 748.0v1.4h1v-1.4zM1348 747.7v1.7h1v-1.7zM1349 747.7v1.7h1v-1.7zM1371 749.2v0.5h1v-0.5zM1373 748.6v0.8h1v-0.8zM1374 747.7v1.7h1v-1.7zM1376 747.0v2.4h1v-2.4zM1377 746.9v2.5h1v-2.5zM1384 747.9v1.5h1v-1.5zM1386 747.5v1.9h1v-1.9zM1387 747.1v2.3h1v-2.3zM1389 747.0v2.4h1v-2.4zM1392 747.1v2.3h1v-2.3zM1393 746.8v2.6h1v-2.6zM1396 746.7v2.7h1v-2.7zM1431 749.1v0.5h1v-0.5zM1433 747.0v2.4h1v-2.4zM1434 745.1v4.3h1v-4.3zM1436 743.3v6.1h1v-6.1zM1437 742.0v7.4h1v-7.4zM1439 740.2v9.2h1v-9.2zM1440 738.3v11.1h1v-11.1zM1442 735.6v13.8h1v-13.8zM1443 734.3v15.1h1v-15.1zM1446 734.4v15.0h1v-15.0zM1448 734.2v15.2h1v-15.2zM1473 747.9v1.5h1v-1.5zM1474 746.6v2.8h1v-2.8zM1476 745.5v3.9h1v-3.9zM1477 744.6v4.8h1v-4.8zM1479 744.2v5.2h1v-5.2zM1483 744.2v5.2h1v-5.2zM1484 743.3v6.1h1v-6.1zM1486 743.2v6.2h1v-6.2zM1492 743.9v5.5h1v-5.5zM1493 743.7v5.7h1v-5.7zM1495 743.3v6.1h1v-6.1zM1496 742.6v6.8h1v-6.8zM1498 741.7v7.7h1v-7.7zM1499 740.5v8.9h1v-8.9zM1501 740.4v9.0h1v-9.0zM1533 749.3v0.5h1v-0.5zM1534 748.7v0.7h1v-0.7zM1536 748.4v1.0h1v-1.0zM1584 749.3v0.5h1v-0.5zM1586 748.7v0.7h1v-0.7zM1587 748.2v1.2h1v-1.2zM1589 747.8v1.6h1v-1.6zM1590 747.4v2.0h1v-2.0zM1592 747.1v2.3h1v-2.3zM1593 746.6v2.8h1v-2.8zM1595 746.1v3.3h1v-3.3zM1596 745.7v3.7h1v-3.7zM1597 745.3v4.1h1v-4.1zM1599 745.1v4.3h1v-4.3zM1606 746.5v2.9h1v-2.9zM1608 746.4v3.0h1v-3.0zM1609 746.3v3.1h1v-3.1zM1614 746.5v2.9h1v-2.9zM1615 746.3v3.1h1v-3.1zM1643 749.4v0.5h1v-0.5zM1645 749.0v0.5h1v-0.5zM1646 749.0v0.5h1v-0.5zM1675 749.2v0.5h1v-0.5zM1677 748.7v0.7h1v-0.7zM1678 748.0v1.4h1v-1.4zM1680 747.1v2.3h1v-2.3zM1681 746.2v3.2h1v-3.2zM1683 745.5v3.9h1v-3.9zM1684 745.3v4.1h1v-4.1zM1700 748.6v0.8h1v-0.8zM1702 748.0v1.4h1v-1.4zM1703 747.6v1.8h1v-1.8zM1705 747.5v1.9h1v-1.9zM1709 747.5v1.9h1v-1.9zM1718 748.7v0.7h1v-0.7zM1719 748.5v0.9h1v-0.9zM1721 748.0v1.4h1v-1.4zM1722 747.3v2.1h1v-2.1zM1724 746.7v2.7h1v-2.7zM1725 746.2v3.2h1v-3.2zM1727 745.9v3.5h1v-3.5zM1728 745.8v3.6h1v-3.6zM1730 745.7v3.7h1v-3.7zM1731 745.6v3.8h1v-3.8zM1733 745.4v4.0h1v-4.0zM1734 745.4v4.0h1v-4.0zM1756 749.1v0.5h1v-0.5zM1758 748.1v1.3h1v-1.3zM1759 746.8v2.6h1v-2.6zM1761 746.6v2.8h1v-2.8zM1768 748.6v0.8h1v-0.8zM1769 748.3v1.1h1v-1.1zM1772 748.2v1.2h1v-1.2zM1774 747.9v1.5h1v-1.5zM1775 747.1v2.3h1v-2.3zM1777 746.5v2.9h1v-2.9zM1778 746.0v3.4h1v-3.4zM1808 749.2v0.5h1v-0.5zM1809 748.4v1.0h1v-1.0zM1811 747.6v1.8h1v-1.8zM1812 747.1v2.3h1v-2.3zM1813 746.7v2.7h1v-2.7zM1827 748.8v0.6h1v-0.6zM1828 748.3v1.1h1v-1.1zM1830 747.6v1.8h1v-1.8zM1831 747.1v2.3h1v-2.3zM1833 747.1v2.3h1v-2.3zM1869 748.9v0.5h1v-0.5zM1871 747.4v2.0h1v-2.0zM1872 745.9v3.5h1v-3.5zM1874 745.2v4.2h1v-4.2zM1875 745.1v4.3h1v-4.3zM1884 748.3v1.1h1v-1.1zM1885 746.9v2.5h1v-2.5zM1887 745.2v4.2h1v-4.2zM1888 743.3v6.1h1v-6.1zM1890 741.9v7.5h1v-7.5zM1891 740.6v8.8h1v-8.8zM1903 746.9v2.5h1v-2.5zM1905 745.7v3.7h1v-3.7zM1906 744.7v4.7h1v-4.7zM1907 742.8v6.6h1v-6.6zM1909 739.6v9.8h1v-9.8zM1910 739.3v10.1h1v-10.1z" fill="#26a69a" shape-rendering="crispEdges"/>
<path d="M34 746.5v2.9h1v-2.9zM36 747.4v2.0h1v-2.0zM46 744.5v4.9h1v-4.9zM54 744.3v5.1h1v-5.1zM55 744.9v4.5h1v-4.5zM57 746.1v3.3h1v-3.3zM58 748.5v0.9h1v-0.9zM80 747.6v1.8h1v-1.8zM81 748.6v0.8h1v-0.8zM83 749.0v0.5h1v-0.5zM93 746.4v3.0h1v-3.0zM95 746.9v2.5h1v-2.5zM108 744.3v5.1h1v-5.1zM111 744.4v5.0h1v-5.0zM112 745.1v4.3h1v-4.3zM114 746.0v3.4h1v-3.4zM115 747.3v2.1h1v-2.1zM117 748.9v0.5h1v-0.5zM136 747.6v1.8h1v-1.8zM137 747.8v1.6h1v-1.6zM139 748.2v1.2h1v-1.2zM140 748.8v0.6h1v-0.6zM178 745.6v3.8h1v-3.8zM180 746.5v2.9h1v-2.9zM181 747.2v2.2h1v-2.2zM183 747.4v2.0h1v-2.0zM184 747.8v1.6h1v-1.6zM186 748.6v0.8h1v-0.8zM187 749.1v0.5h1v-0.5zM230 749.3v0.5h1v-0.5zM250 748.2v1.2h1v-1.2zM252 748.6v0.8h1v-0.8zM253 748.9v0.5h1v-0.5zM258 748.4v1.0h1v-1.0zM259 748.6v0.8h1v-0.8zM261 748.7v0.7h1v-0.7zM270 747.9v1.5h1v-1.5zM302 743.4v6.0h1v-6.0zM303 744.6v4.8h1v-4.8zM305 746.2v3.2h1v-3.2zM306 747.3v2.1h1v-2.1zM308 747.8v1.6h1v-1.6zM309 747.8v1.6h1v-1.6zM311 747.9v1.5h1v-1.5zM314 748.0v1.4h1v-1.4zM315 748.0v1.4h1v-1.4zM318 748.2v1.2h1v-1.2zM324 747.8v1.6h1v-1.6zM325 748.6v0.8h1v-0.8zM352 743.9v5.5h1v-5.5zM353 744.3v5.1h1v-5.1zM362 744.9v4.5h1v-4.5zM364 746.7v2.7h1v-2.7zM365 748.3v1.1h1v-1.1zM366 749.0v0.5h1v-0.5zM368 749.3v0.5h1v-0.5zM396 748.3v1.1h1v-1.1zM397 748.6v0.8h1v-0.8zM399 748.8v0.6h1v-0.6zM400 749.2v0.5h1v-0.5zM411 748.7v0.7h1v-0.7zM412 749.0v0.5h1v-0.5zM419 748.0v1.4h1v-1.4zM421 749.0v0.5h1v-0.5zM440 745.9v3.5h1v-3.5zM441 746.4v3.0h1v-3.0zM443 746.7v2.7h1v-2.7zM444 746.7v2.7h1v-2.7zM446 746.8v2.6h1v-2.6zM453 742.2v7.2h1v-7.2zM455 743.1v6.3h1v-6.3zM456 745.0v4.4h1v-4.4zM458 747.5v1.9h1v-1.9zM459 749.4v0.5h1v-0.5zM465 749.3v0.5h1v-0.5zM472 748.6v0.8h1v-0.8zM563 745.9v3.5h1v-3.5zM565 746.2v3.2h1v-3.2zM566 746.5v2.9h1v-2.9zM568 746.7v2.7h1v-2.7zM569 746.8v2.6h1v-2.6zM571 747.3v2.1h1v-2.1zM572 747.9v1.5h1v-1.5zM574 748.5v0.9h1v-0.9zM575 749.0v0.5h1v-0.5zM577 749.1v0.5h1v-0.5zM587 747.9v1.5h1v-1.5zM588 748.0v1.4h1v-1.4zM599 746.6v2.8h1v-2.8zM600 746.9v2.5h1v-2.5zM602 747.3v2.1h1v-2.1zM603 747.8v1.6h1v-1.6zM604 748.6v0.8h1v-0.8zM606 749.4v0.5h1v-0.5zM638 746.9v2.5h1v-2.5zM640 747.0v2.4h1v-2.4zM647 745.6v3.8h1v-3.8zM649 746.1v3.3h1v-3.3zM650 747.0v2.4h1v-2.4zM651 747.9v1.5h1v-1.5zM653 748.8v0.6h1v-0.6zM660 749.0v0.5h1v-0.5zM694 724.3v25.1h1v-25.1zM696 727.7v21.7h1v-21.7zM697 730.5v18.9h1v-18.9zM698 734.1v15.3h1v-15.3zM700 740.1v9.3h1v-9.3zM701 744.7v4.7h1v-4.7zM703 747.8v1.6h1v-1.6zM751 747.5v1.9h1v-1.9zM753 748.0v1.4h1v-1.4zM757 747.1v2.3h1v-2.3zM759 748.6v0.8h1v-0.8zM815 745.6v3.8h1v-3.8zM816 746.3v3.1h1v-3.1zM817 746.9v2.5h1v-2.5zM828 743.1v6.3h1v-6.3zM829 744.0v5.4h1v-5.4zM831 745.1v4.3h1v-4.3zM832 746.1v3.3h1v-3.3zM834 746.7v2.7h1v-2.7zM835 747.3v2.1h1v-2.1zM837 747.9v1.5h1v-1.5zM838 748.7v0.7h1v-0.7zM860 746.8v2.6h1v-2.6zM862 747.2v2.2h1v-2.2zM863 747.3v2.1h1v-2.1zM872 746.0v3.4h1v-3.4zM873 746.4v3.0h1v-3.0zM875 746.5v2.9h1v-2.9zM879 746.6v2.8h1v-2.8zM881 746.9v2.5h1v-2.5zM882 747.7v1.7h1v-1.7zM884 748.2v1.2h1v-1.2zM885 748.3v1.1h1v-1.1zM891 747.6v1.8h1v-1.8zM892 748.0v1.4h1v-1.4zM894 748.8v0.6h1v-0.6zM928 747.2v2.2h1v-2.2zM929 747.6v1.8h1v-1.8zM931 748.3v1.1h1v-1.1zM932 749.2v0.5h1v-0.5zM956 746.7v2.7h1v-2.7zM957 747.1v2.3h1v-2.3zM958 747.5v1.9h1v-1.9zM960 747.6v1.8h1v-1.8zM966 747.4v2.0h1v-2.0zM967 747.8v1.6h1v-1.6zM969 748.3v1.1h1v-1.1zM970 748.8v0.6h1v-0.6zM972 749.0v0.5h1v-0.5zM973 749.2v0.5h1v-0.5zM1026 748.2v1.2h1v-1.2zM1028 748.4v1.0h1v-1.0zM1029 748.6v0.8h1v-0.8zM1030 748.7v0.7h1v-0.7zM1032 748.8v0.6h1v-0.6zM1033 749.0v0.5h1v-0.5zM1035 749.1v0.5h1v-0.5zM1036 749.3v0.5h1v-0.5zM1038 749.3v0.5h1v-0.5zM1061 749.3v0.5h1v-0.5zM1072 739.4v10.0h1v-10.0zM1073 742.7v6.7h1v-6.7zM1075 745.7v3.7h1v-3.7zM1076 748.3v1.1h1v-1.1zM1133 749.2v0.5h1v-0.5zM1155 748.1v1.3h1v-1.3zM1157 748.2v1.2h1v-1.2zM1158 748.7v0.7h1v-0.7zM1160 749.4v0.5h1v-0.5zM1204 746.0v3.4h1v-3.4zM1205 746.5v2.9h1v-2.9zM1207 746.7v2.7h1v-2.7zM1208 747.1v2.3h1v-2.3zM1210 747.3v2.1h1v-2.1zM1213 747.4v2.0h1v-2.0zM1214 748.0v1.4h1v-1.4zM1216 748.4v1.0h1v-1.0zM1217 748.5v0.9h1v-0.9zM1220 748.7v0.7h1v-0.7zM1221 749.0v0.5h1v-0.5zM1252 746.2v3.2h1v-3.2zM1254 746.5v2.9h1v-2.9zM1255 747.2v2.2h1v-2.2zM1257 748.6v0.8h1v-0.8zM1258 748.6v0.8h1v-0.8zM1264 747.5v1.9h1v-1.9zM1266 747.6v1.8h1v-1.8zM1276 742.6v6.8h1v-6.8zM1277 743.8v5.6h1v-5.6zM1279 744.8v4.6h1v-4.6zM1280 745.6v3.8h1v-3.8zM1282 746.6v2.8h1v-2.8zM1283 747.7v1.7h1v-1.7zM1285 748.5v0.9h1v-0.9zM1286 749.2v0.5h1v-0.5zM1324 748.9v0.5h1v-0.5zM1326 749.2v0.5h1v-0.5zM1351 747.9v1.5h1v-1.5zM1352 748.4v1.0h1v-1.0zM1354 748.6v0.8h1v-0.8zM1355 748.8v0.6h1v-0.6zM1357 748.9v0.5h1v-0.5zM1358 749.3v0.5h1v-0.5zM1379 747.3v2.1h1v-2.1zM1380 747.9v1.5h1v-1.5zM1382 748.0v1.4h1v-1.4zM1383 748.2v1.2h1v-1.2zM1390 747.1v2.3h1v-2.3zM1395 746.8v2.6h1v-2.6zM1398 746.7v2.7h1v-2.7zM1399 747.0v2.4h1v-2.4zM1401 747.6v1.8h1v-1.8zM1402 747.8v1.6h1v-1.6zM1445 734.4v15.0h1v-15.0zM1449 734.5v14.9h1v-14.9zM1451 735.2v14.2h1v-14.2zM1452 736.6v12.8h1v-12.8zM1454 738.6v10.8h1v-10.8zM1455 740.6v8.8h1v-8.8zM1456 742.2v7.2h1v-7.2zM1458 743.1v6.3h1v-6.3zM1459 743.9v5.5h1v-5.5zM1461 745.3v4.1h1v-4.1zM1462 746.9v2.5h1v-2.5zM1464 748.1v1.3h1v-1.3zM1465 748.9v0.5h1v-0.5zM1480 744.2v5.2h1v-5.2zM1481 744.5v4.9h1v-4.9zM1487 743.4v6.0h1v-6.0zM1489 743.9v5.5h1v-5.5zM1490 744.3v5.1h1v-5.1zM1502 741.6v7.8h1v-7.8zM1503 743.7v5.7h1v-5.7zM1505 746.3v3.1h1v-3.1zM1506 748.7v0.7h1v-0.7zM1537 748.5v0.9h1v-0.9zM1539 749.0v0.5h1v-0.5zM1600 745.3v4.1h1v-4.1zM1602 746.0v3.4h1v-3.4zM1603 747.0v2.4h1v-2.4zM1605 747.0v2.4h1v-2.4zM1611 746.4v3.0h1v-3.0zM1612 746.6v2.8h1v-2.8zM1617 746.5v2.9h1v-2.9zM1618 747.6v1.8h1v-1.8zM1620 749.2v0.5h1v-0.5zM1647 749.2v0.5h1v-0.5zM1686 746.0v3.4h1v-3.4zM1687 746.8v2.6h1v-2.6zM1689 747.7v1.7h1v-1.7zM1690 748.9v0.5h1v-0.5zM1706 747.6v1.8h1v-1.8zM1708 747.6v1.8h1v-1.8zM1711 747.5v1.9h1v-1.9zM1712 748.0v1.4h1v-1.4zM1714 748.4v1.0h1v-1.0zM1715 748.7v0.7h1v-0.7zM1716 748.7v0.7h1v-0.7zM1736 745.7v3.7h1v-3.7zM1737 746.1v3.3h1v-3.3zM1739 746.7v2.7h1v-2.7zM1740 747.3v2.1h1v-2.1zM1741 747.9v1.5h1v-1.5zM1743 748.5v0.9h1v-0.9zM1744 749.0v0.5h1v-0.5zM1746 749.3v0.5h1v-0.5zM1762 747.4v2.0h1v-2.0zM1763 748.1v1.3h1v-1.3zM1765 748.3v1.1h1v-1.1zM1766 748.6v0.8h1v-0.8zM1771 748.4v1.0h1v-1.0zM1780 746.0v3.4h1v-3.4zM1781 746.3v3.1h1v-3.1zM1783 746.5v2.9h1v-2.9zM1784 746.5v2.9h1v-2.9zM1786 747.1v2.3h1v-2.3zM1787 748.0v1.4h1v-1.4zM1788 749.1v0.5h1v-0.5zM1815 746.9v2.5h1v-2.5zM1816 747.0v2.4h1v-2.4zM1818 747.1v2.3h1v-2.3zM1819 747.5v1.9h1v-1.9zM1821 748.0v1.4h1v-1.4zM1822 748.5v0.9h1v-0.9zM1824 748.7v0.7h1v-0.7zM1825 748.8v0.6h1v-0.6zM1834 747.6v1.8h1v-1.8zM1835 748.2v1.2h1v-1.2zM1837 748.6v0.8h1v-0.8zM1838 749.1v0.5h1v-0.5zM1877 745.6v3.8h1v-3.8zM1878 746.3v3.1h1v-3.1zM1880 747.2v2.2h1v-2.2zM1881 748.1v1.3h1v-1.3zM1882 748.6v0.8h1v-0.8zM1893 740.9v8.5h1v-8.5zM1894 742.4v7.0h1v-7.0zM1896 744.1v5.3h1v-5.3zM1897 745.6v3.8h1v-3.8zM1899 747.1v2.3h1v-2.3zM1900 748.1v1.3h1v-1.3zM1902 748.1v1.3h1v-1.3zM1912 740.5v8.9h1v-8.9zM1913 741.7v7.7h1v-7.7zM1915 743.5v5.9h1v-5.9z" fill="#b2dfdb" shape-rendering="crispEdges"/>
<path d="M20 749.4v9.7h1v-9.7zM21 749.4v9.1h1v-9.1zM23 749.4v9.0h1v-9.0zM24 749.4v7.5h1v-7.5zM26 749.4v4.8h1v-4.8zM27 749.4v2.2h1v-2.2zM62 749.4v0.5h1v-0.5zM70 749.4v1.9h1v-1.9zM71 749.4v1.2h1v-1.2zM73 749.4v0.5h1v-0.5zM124 749.4v2.6h1v-2.6zM126 749.4v1.9h1v-1.9zM127 749.4v1.0h1v-1.0zM128 749.4v0.5h1v-0.5zM145 749.4v0.5h1v-0.5zM159 749.4v4.4h1v-4.4zM161 749.4v3.6h1v-3.6zM162 749.4v2.8h1v-2.8zM164 749.4v2.2h1v-2.2zM165 749.4v1.8h1v-1.8zM168 749.4v1.5h1v-1.5zM170 749.4v0.8h1v-0.8zM199 749.4v1.1h1v-1.1zM200 749.4v1.0h1v-1.0zM211 749.4v4.7h1v-4.7zM212 749.4v3.3h1v-3.3zM214 749.4v2.4h1v-2.4zM215 749.4v2.0h1v-2.0zM223 749.4v3.0h1v-3.0zM224 749.4v2.3h1v-2.3zM225 749.4v1.0h1v-1.0zM227 749.4v0.5h1v-0.5zM240 749.4v3.9h1v-3.9zM242 749.4v3.4h1v-3.4zM243 749.4v2.0h1v-2.0zM245 749.4v0.7h1v-0.7zM274 749.4v2.3h1v-2.3zM275 749.4v1.7h1v-1.7zM277 749.4v0.8h1v-0.8zM289 749.4v2.4h1v-2.4zM290 749.4v0.8h1v-0.8zM337 749.4v6.8h1v-6.8zM339 749.4v5.4h1v-5.4zM340 749.4v3.5h1v-3.5zM342 749.4v1.7h1v-1.7zM378 749.4v5.4h1v-5.4zM380 749.4v4.6h1v-4.6zM381 749.4v3.8h1v-3.8zM383 749.4v3.5h1v-3.5zM384 749.4v3.1h1v-3.1zM386 749.4v2.5h1v-2.5zM387 749.4v1.9h1v-1.9zM389 749.4v0.9h1v-0.9zM405 749.4v0.5h1v-0.5zM406 749.4v0.5h1v-0.5zM425 749.4v1.0h1v-1.0zM427 749.4v0.8h1v-0.8zM428 749.4v0.5h1v-0.5zM462 749.4v0.5h1v-0.5zM481 749.4v6.3h1v-6.3zM483 749.4v5.0h1v-5.0zM484 749.4v4.5h1v-4.5zM485 749.4v3.7h1v-3.7zM487 749.4v2.6h1v-2.6zM488 749.4v1.4h1v-1.4zM490 749.4v0.8h1v-0.8zM496 749.4v2.3h1v-2.3zM497 749.4v2.1h1v-2.1zM503 749.4v1.7h1v-1.7zM505 749.4v1.0h1v-1.0zM509 749.4v1.2h1v-1.2zM510 749.4v0.7h1v-0.7zM512 749.4v0.6h1v-0.6zM513 749.4v0.5h1v-0.5zM515 749.4v0.5h1v-0.5zM519 749.4v0.5h1v-0.5zM524 749.4v0.6h1v-0.6zM525 749.4v0.5h1v-0.5zM540 749.4v3.0h1v-3.0zM541 749.4v2.5h1v-2.5zM543 749.4v1.8h1v-1.8zM544 749.4v1.0h1v-1.0zM546 749.4v0.5h1v-0.5zM622 749.4v4.6h1v-4.6zM624 749.4v3.2h1v-3.2zM625 749.4v1.8h1v-1.8zM626 749.4v0.9h1v-0.9zM628 749.4v0.5h1v-0.5zM657 749.4v0.5h1v-0.5zM666 749.4v1.2h1v-1.2zM668 749.4v0.5h1v-0.5zM675 749.4v3.2h1v-3.2zM676 749.4v2.2h1v-2.2zM678 749.4v1.0h1v-1.0zM679 749.4v0.5h1v-0.5zM715 749.4v13.6h1v-13.6zM716 749.4v12.5h1v-12.5zM718 749.4v10.9h1v-10.9zM719 749.4v8.5h1v-8.5zM721 749.4v7.3h1v-7.3zM722 749.4v7.1h1v-7.1zM729 749.4v7.9h1v-7.9zM731 749.4v7.2h1v-7.2zM732 749.4v6.1h1v-6.1zM734 749.4v4.1h1v-4.1zM735 749.4v2.6h1v-2.6zM737 749.4v1.9h1v-1.9zM738 749.4v1.0h1v-1.0zM740 749.4v0.5h1v-0.5zM769 749.4v9.3h1v-9.3zM770 749.4v8.4h1v-8.4zM772 749.4v7.7h1v-7.7zM773 749.4v7.2h1v-7.2zM779 749.4v8.7h1v-8.7zM781 749.4v7.8h1v-7.8zM782 749.4v7.4h1v-7.4zM784 749.4v7.3h1v-7.3zM785 749.4v7.2h1v-7.2zM787 749.4v6.6h1v-6.6zM788 749.4v6.1h1v-6.1zM790 749.4v5.6h1v-5.6zM791 749.4v5.0h1v-5.0zM792 749.4v4.7h1v-4.7zM795 749.4v4.7h1v-4.7zM797 749.4v3.7h1v-3.7zM798 749.4v2.6h1v-2.6zM800 749.4v1.6h1v-1.6zM801 749.4v0.7h1v-0.7zM803 749.4v0.5h1v-0.5zM807 749.4v0.5h1v-0.5zM847 749.4v2.8h1v-2.8zM848 749.4v0.9h1v-0.9zM907 749.4v3.8h1v-3.8zM909 749.4v3.0h1v-3.0zM910 749.4v2.3h1v-2.3zM911 749.4v1.8h1v-1.8zM913 749.4v1.0h1v-1.0zM914 749.4v0.5h1v-0.5zM938 749.4v1.2h1v-1.2zM939 749.4v0.7h1v-0.7zM941 749.4v0.5h1v-0.5zM985 749.4v1.5h1v-1.5zM986 749.4v1.2h1v-1.2zM988 749.4v0.9h1v-0.9zM989 749.4v0.6h1v-0.6zM991 749.4v0.5h1v-0.5zM992 749.4v0.5h1v-0.5zM994 749.4v0.5h1v-0.5zM995 749.4v0.5h1v-0.5zM1001 749.4v0.5h1v-0.5zM1003 749.4v0.5h1v-0.5zM1004 749.4v0.5h1v-0.5zM1007 749.4v0.5h1v-0.5zM1008 749.4v0.5h1v-0.5zM1016 749.4v0.5h1v-0.5zM1017 749.4v0.5h1v-0.5zM1044 749.4v0.5h1v-0.5zM1045 749.4v0.5h1v-0.5zM1047 749.4v0.5h1v-0.5zM1054 749.4v0.9h1v-0.9zM1055 749.4v0.5h1v-0.5zM1057 749.4v0.5h1v-0.5zM1091 749.4v6.7h1v-6.7zM1092 749.4v6.5h1v-6.5zM1094 749.4v6.1h1v-6.1zM1095 749.4v5.4h1v-5.4zM1097 749.4v4.5h1v-4.5zM1098 749.4v3.6h1v-3.6zM1100 749.4v3.1h1v-3.1zM1104 749.4v3.2h1v-3.2zM1105 749.4v2.9h1v-2.9zM1107 749.4v2.4h1v-2.4zM1108 749.4v2.1h1v-2.1zM1110 749.4v1.9h1v-1.9zM1111 749.4v1.7h1v-1.7zM1113 749.4v1.3h1v-1.3zM1114 749.4v1.2h1v-1.2zM1124 749.4v1.3h1v-1.3zM1126 749.4v0.7h1v-0.7zM1127 749.4v0.5h1v-0.5zM1130 749.4v0.5h1v-0.5zM1138 749.4v0.8h1v-0.8zM1141 749.4v1.3h1v-1.3zM1142 749.4v0.9h1v-0.9zM1144 749.4v0.5h1v-0.5zM1166 749.4v1.0h1v-1.0zM1167 749.4v0.5h1v-0.5zM1182 749.4v2.9h1v-2.9zM1183 749.4v2.3h1v-2.3zM1185 749.4v1.8h1v-1.8zM1186 749.4v1.7h1v-1.7zM1188 749.4v1.7h1v-1.7zM1194 749.4v2.3h1v-2.3zM1195 749.4v0.9h1v-0.9zM1232 749.4v1.5h1v-1.5zM1238 749.4v5.1h1v-5.1zM1239 749.4v4.0h1v-4.0zM1241 749.4v2.5h1v-2.5zM1242 749.4v1.0h1v-1.0zM1295 749.4v1.9h1v-1.9zM1296 749.4v1.9h1v-1.9zM1310 749.4v3.7h1v-3.7zM1311 749.4v3.4h1v-3.4zM1313 749.4v2.8h1v-2.8zM1314 749.4v1.9h1v-1.9zM1315 749.4v1.1h1v-1.1zM1317 749.4v0.5h1v-0.5zM1336 749.4v2.6h1v-2.6zM1337 749.4v2.3h1v-2.3zM1339 749.4v2.2h1v-2.2zM1340 749.4v1.5h1v-1.5zM1342 749.4v0.7h1v-0.7zM1364 749.4v1.6h1v-1.6zM1365 749.4v1.3h1v-1.3zM1367 749.4v1.0h1v-1.0zM1368 749.4v0.7h1v-0.7zM1370 749.4v0.5h1v-0.5zM1408 749.4v22.1h1v-22.1zM1409 749.4v20.3h1v-20.3zM1411 749.4v17.6h1v-17.6zM1412 749.4v14.9h1v-14.9zM1414 749.4v14.1h1v-14.1zM1418 749.4v16.3h1v-16.3zM1420 749.4v14.0h1v-14.0zM1421 749.4v11.7h1v-11.7zM1423 749.4v10.7h1v-10.7zM1426 749.4v10.4h1v-10.4zM1427 749.4v7.8h1v-7.8zM1429 749.4v4.7h1v-4.7zM1430 749.4v2.0h1v-2.0zM1470 749.4v1.4h1v-1.4zM1471 749.4v0.5h1v-0.5zM1512 749.4v2.1h1v-2.1zM1518 749.4v2.1h1v-2.1zM1527 749.4v3.0h1v-3.0zM1528 749.4v2.3h1v-2.3zM1530 749.4v1.6h1v-1.6zM1531 749.4v0.8h1v-0.8zM1552 749.4v2.6h1v-2.6zM1553 749.4v1.6h1v-1.6zM1555 749.4v1.3h1v-1.3zM1567 749.4v4.0h1v-4.0zM1568 749.4v3.6h1v-3.6zM1570 749.4v2.6h1v-2.6zM1571 749.4v1.4h1v-1.4zM1573 749.4v0.6h1v-0.6zM1574 749.4v0.5h1v-0.5zM1580 749.4v1.7h1v-1.7zM1581 749.4v1.2h1v-1.2zM1583 749.4v0.5h1v-0.5zM1627 749.4v3.9h1v-3.9zM1628 749.4v3.5h1v-3.5zM1636 749.4v3.7h1v-3.7zM1637 749.4v3.2h1v-3.2zM1639 749.4v2.4h1v-2.4zM1640 749.4v1.5h1v-1.5zM1642 749.4v0.8h1v-0.8zM1659 749.4v3.4h1v-3.4zM1661 749.4v3.2h1v-3.2zM1662 749.4v3.0h1v-3.0zM1664 749.4v2.8h1v-2.8zM1665 749.4v2.5h1v-2.5zM1667 749.4v2.4h1v-2.4zM1671 749.4v2.4h1v-2.4zM1672 749.4v1.6h1v-1.6zM1674 749.4v0.6h1v-0.6zM1696 749.4v2.0h1v-2.0zM1697 749.4v1.1h1v-1.1zM1699 749.4v0.5h1v-0.5zM1750 749.4v0.5h1v-0.5zM1752 749.4v0.5h1v-0.5zM1800 749.4v3.2h1v-3.2zM1802 749.4v2.6h1v-2.6zM1803 749.4v2.0h1v-2.0zM1805 749.4v1.5h1v-1.5zM1806 749.4v0.7h1v-0.7zM1856 749.4v5.4h1v-5.4zM1858 749.4v4.7h1v-4.7zM1859 749.4v3.7h1v-3.7zM1860 749.4v2.6h1v-2.6zM1862 749.4v2.0h1v-2.0zM1863 749.4v1.8h1v-1.8zM1866 749.4v1.3h1v-1.3zM1868 749.4v0.7h1v-0.7z" fill="#ffcdd2" shape-rendering="crispEdges"/>
<path d="M11 749.4v1.7h1v-1.7zM12 749.4v2.4h1v-2.4zM14 749.4v4.0h1v-4.0zM15 749.4v8.3h1v-8.3zM17 749.4v10.6h1v-10.6zM18 749.4v10.9h1v-10.9zM59 749.4v0.5h1v-0.5zM61 749.4v0.6h1v-0.6zM64 749.4v0.5h1v-0.5zM65 749.4v1.1h1v-1.1zM67 749.4v1.9h1v-1.9zM68 749.4v2.3h1v-2.3zM118 749.4v0.6h1v-0.6zM120 749.4v1.6h1v-1.6zM121 749.4v2.3h1v-2.3zM123 749.4v2.8h1v-2.8zM142 749.4v0.5h1v-0.5zM143 749.4v0.5h1v-0.5zM149 749.4v0.5h1v-0.5zM151 749.4v0.5h1v-0.5zM152 749.4v0.5h1v-0.5zM153 749.4v1.5h1v-1.5zM155 749.4v3.0h1v-3.0zM156 749.4v4.2h1v-4.2zM158 749.4v4.6h1v-4.6zM167 749.4v1.9h1v-1.9zM189 749.4v0.5h1v-0.5zM190 749.4v0.5h1v-0.5zM192 749.4v0.5h1v-0.5zM193 749.4v0.6h1v-0.6zM195 749.4v0.8h1v-0.8zM196 749.4v1.0h1v-1.0zM198 749.4v1.2h1v-1.2zM202 749.4v1.3h1v-1.3zM203 749.4v1.8h1v-1.8zM205 749.4v2.5h1v-2.5zM206 749.4v3.5h1v-3.5zM208 749.4v4.8h1v-4.8zM209 749.4v5.3h1v-5.3zM217 749.4v2.0h1v-2.0zM218 749.4v2.3h1v-2.3zM220 749.4v2.6h1v-2.6zM221 749.4v3.3h1v-3.3zM231 749.4v0.7h1v-0.7zM233 749.4v1.8h1v-1.8zM234 749.4v3.0h1v-3.0zM236 749.4v3.4h1v-3.4zM237 749.4v3.6h1v-3.6zM239 749.4v3.9h1v-3.9zM271 749.4v1.9h1v-1.9zM272 749.4v2.6h1v-2.6zM281 749.4v0.5h1v-0.5zM283 749.4v0.6h1v-0.6zM284 749.4v2.3h1v-2.3zM286 749.4v3.1h1v-3.1zM287 749.4v3.3h1v-3.3zM327 749.4v0.5h1v-0.5zM328 749.4v1.4h1v-1.4zM330 749.4v2.2h1v-2.2zM331 749.4v3.3h1v-3.3zM333 749.4v4.5h1v-4.5zM334 749.4v6.2h1v-6.2zM336 749.4v7.0h1v-7.0zM369 749.4v0.5h1v-0.5zM371 749.4v1.9h1v-1.9zM372 749.4v3.1h1v-3.1zM374 749.4v4.3h1v-4.3zM375 749.4v5.1h1v-5.1zM377 749.4v5.7h1v-5.7zM402 749.4v0.5h1v-0.5zM403 749.4v0.8h1v-0.8zM422 749.4v0.6h1v-0.6zM424 749.4v1.1h1v-1.1zM460 749.4v0.5h1v-0.5zM474 749.4v0.8h1v-0.8zM475 749.4v2.9h1v-2.9zM477 749.4v5.3h1v-5.3zM478 749.4v7.3h1v-7.3zM480 749.4v7.5h1v-7.5zM491 749.4v1.3h1v-1.3zM493 749.4v2.5h1v-2.5zM494 749.4v2.9h1v-2.9zM499 749.4v2.2h1v-2.2zM500 749.4v2.3h1v-2.3zM502 749.4v2.4h1v-2.4zM506 749.4v1.3h1v-1.3zM507 749.4v1.6h1v-1.6zM516 749.4v0.5h1v-0.5zM518 749.4v0.5h1v-0.5zM521 749.4v0.5h1v-0.5zM522 749.4v0.6h1v-0.6zM528 749.4v0.5h1v-0.5zM530 749.4v0.9h1v-0.9zM531 749.4v1.4h1v-1.4zM532 749.4v1.9h1v-1.9zM534 749.4v2.4h1v-2.4zM535 749.4v2.9h1v-2.9zM537 749.4v3.2h1v-3.2zM538 749.4v3.2h1v-3.2zM607 749.4v0.7h1v-0.7zM609 749.4v1.1h1v-1.1zM610 749.4v1.7h1v-1.7zM612 749.4v2.8h1v-2.8zM613 749.4v3.4h1v-3.4zM615 749.4v3.9h1v-3.9zM616 749.4v4.3h1v-4.3zM618 749.4v4.8h1v-4.8zM619 749.4v5.1h1v-5.1zM621 749.4v5.5h1v-5.5zM654 749.4v0.5h1v-0.5zM656 749.4v0.5h1v-0.5zM662 749.4v0.6h1v-0.6zM663 749.4v1.6h1v-1.6zM665 749.4v1.7h1v-1.7zM669 749.4v0.7h1v-0.7zM671 749.4v1.6h1v-1.6zM672 749.4v2.7h1v-2.7zM673 749.4v3.2h1v-3.2zM704 749.4v0.5h1v-0.5zM706 749.4v2.3h1v-2.3zM707 749.4v4.4h1v-4.4zM709 749.4v6.8h1v-6.8zM710 749.4v9.5h1v-9.5zM712 749.4v11.7h1v-11.7zM713 749.4v13.7h1v-13.7zM723 749.4v7.3h1v-7.3zM725 749.4v7.8h1v-7.8zM726 749.4v8.3h1v-8.3zM728 749.4v8.9h1v-8.9zM760 749.4v1.2h1v-1.2zM762 749.4v3.3h1v-3.3zM763 749.4v5.1h1v-5.1zM765 749.4v7.0h1v-7.0zM766 749.4v8.9h1v-8.9zM768 749.4v9.3h1v-9.3zM775 749.4v7.9h1v-7.9zM776 749.4v8.4h1v-8.4zM778 749.4v9.1h1v-9.1zM794 749.4v4.7h1v-4.7zM804 749.4v0.5h1v-0.5zM806 749.4v0.5h1v-0.5zM839 749.4v0.5h1v-0.5zM841 749.4v1.4h1v-1.4zM842 749.4v2.4h1v-2.4zM844 749.4v3.7h1v-3.7zM845 749.4v4.0h1v-4.0zM895 749.4v0.5h1v-0.5zM897 749.4v1.1h1v-1.1zM898 749.4v1.4h1v-1.4zM900 749.4v1.6h1v-1.6zM901 749.4v2.3h1v-2.3zM903 749.4v3.0h1v-3.0zM904 749.4v3.7h1v-3.7zM906 749.4v4.2h1v-4.2zM934 749.4v0.6h1v-0.6zM935 749.4v1.2h1v-1.2zM936 749.4v1.5h1v-1.5zM975 749.4v0.5h1v-0.5zM976 749.4v0.5h1v-0.5zM978 749.4v0.5h1v-0.5zM979 749.4v0.8h1v-0.8zM981 749.4v1.1h1v-1.1zM982 749.4v1.4h1v-1.4zM983 749.4v1.6h1v-1.6zM997 749.4v0.5h1v-0.5zM998 749.4v0.5h1v-0.5zM1000 749.4v0.6h1v-0.6zM1005 749.4v0.5h1v-0.5zM1013 749.4v0.5h1v-0.5zM1014 749.4v0.5h1v-0.5zM1039 749.4v0.5h1v-0.5zM1041 749.4v0.5h1v-0.5zM1042 749.4v0.7h1v-0.7zM1048 749.4v0.5h1v-0.5zM1050 749.4v0.7h1v-0.7zM1051 749.4v1.0h1v-1.0zM1052 749.4v1.1h1v-1.1zM1077 749.4v0.5h1v-0.5zM1079 749.4v1.4h1v-1.4zM1080 749.4v2.2h1v-2.2zM1082 749.4v2.5h1v-2.5zM1083 749.4v3.3h1v-3.3zM1085 749.4v4.4h1v-4.4zM1086 749.4v6.0h1v-6.0zM1088 749.4v6.5h1v-6.5zM1089 749.4v6.8h1v-6.8zM1101 749.4v3.2h1v-3.2zM1102 749.4v3.3h1v-3.3zM1116 749.4v1.2h1v-1.2zM1117 749.4v1.5h1v-1.5zM1119 749.4v1.6h1v-1.6zM1120 749.4v1.6h1v-1.6zM1122 749.4v1.8h1v-1.8zM1123 749.4v1.9h1v-1.9zM1129 749.4v0.5h1v-0.5zM1135 749.4v0.6h1v-0.6zM1136 749.4v0.9h1v-0.9zM1139 749.4v1.3h1v-1.3zM1161 749.4v0.6h1v-0.6zM1163 749.4v1.2h1v-1.2zM1164 749.4v1.4h1v-1.4zM1171 749.4v0.5h1v-0.5zM1173 749.4v1.1h1v-1.1zM1174 749.4v2.0h1v-2.0zM1176 749.4v2.7h1v-2.7zM1177 749.4v3.0h1v-3.0zM1179 749.4v3.2h1v-3.2zM1180 749.4v3.2h1v-3.2zM1189 749.4v2.1h1v-2.1zM1191 749.4v2.5h1v-2.5zM1192 749.4v2.6h1v-2.6zM1223 749.4v0.5h1v-0.5zM1224 749.4v0.5h1v-0.5zM1226 749.4v0.6h1v-0.6zM1227 749.4v1.1h1v-1.1zM1229 749.4v1.4h1v-1.4zM1230 749.4v1.7h1v-1.7zM1233 749.4v2.5h1v-2.5zM1235 749.4v4.1h1v-4.1zM1236 749.4v5.3h1v-5.3zM1288 749.4v0.8h1v-0.8zM1289 749.4v1.3h1v-1.3zM1290 749.4v1.7h1v-1.7zM1292 749.4v1.9h1v-1.9zM1293 749.4v1.9h1v-1.9zM1298 749.4v1.9h1v-1.9zM1299 749.4v2.2h1v-2.2zM1301 749.4v2.4h1v-2.4zM1302 749.4v2.6h1v-2.6zM1304 749.4v3.0h1v-3.0zM1305 749.4v3.3h1v-3.3zM1307 749.4v3.7h1v-3.7zM1308 749.4v3.9h1v-3.9zM1327 749.4v0.5h1v-0.5zM1329 749.4v0.8h1v-0.8zM1330 749.4v1.3h1v-1.3zM1332 749.4v2.1h1v-2.1zM1333 749.4v2.7h1v-2.7zM1335 749.4v3.0h1v-3.0zM1360 749.4v0.5h1v-0.5zM1361 749.4v1.0h1v-1.0zM1362 749.4v1.7h1v-1.7zM1404 749.4v15.7h1v-15.7zM1405 749.4v20.8h1v-20.8zM1407 749.4v22.4h1v-22.4zM1415 749.4v15.6h1v-15.6zM1417 749.4v16.5h1v-16.5zM1424 749.4v11.7h1v-11.7zM1467 749.4v0.8h1v-0.8zM1468 749.4v1.9h1v-1.9zM1508 749.4v1.1h1v-1.1zM1509 749.4v2.2h1v-2.2zM1511 749.4v2.4h1v-2.4zM1514 749.4v2.1h1v-2.1zM1515 749.4v2.3h1v-2.3zM1517 749.4v2.3h1v-2.3zM1520 749.4v2.2h1v-2.2zM1521 749.4v2.7h1v-2.7zM1523 749.4v3.1h1v-3.1zM1524 749.4v3.4h1v-3.4zM1526 749.4v3.5h1v-3.5zM1540 749.4v0.5h1v-0.5zM1542 749.4v0.7h1v-0.7zM1543 749.4v1.2h1v-1.2zM1545 749.4v1.9h1v-1.9zM1546 749.4v2.5h1v-2.5zM1548 749.4v3.0h1v-3.0zM1549 749.4v3.6h1v-3.6zM1550 749.4v3.7h1v-3.7zM1556 749.4v1.5h1v-1.5zM1558 749.4v2.2h1v-2.2zM1559 749.4v2.8h1v-2.8zM1561 749.4v3.4h1v-3.4zM1562 749.4v3.8h1v-3.8zM1564 749.4v4.1h1v-4.1zM1565 749.4v4.2h1v-4.2zM1575 749.4v0.7h1v-0.7zM1577 749.4v1.2h1v-1.2zM1578 749.4v1.8h1v-1.8zM1621 749.4v1.3h1v-1.3zM1622 749.4v2.6h1v-2.6zM1624 749.4v3.4h1v-3.4zM1625 749.4v4.0h1v-4.0zM1630 749.4v3.6h1v-3.6zM1631 749.4v3.6h1v-3.6zM1633 749.4v3.8h1v-3.8zM1634 749.4v4.0h1v-4.0zM1649 749.4v0.5h1v-0.5zM1650 749.4v0.5h1v-0.5zM1652 749.4v0.9h1v-0.9zM1653 749.4v1.6h1v-1.6zM1655 749.4v3.0h1v-3.0zM1656 749.4v3.8h1v-3.8zM1658 749.4v3.8h1v-3.8zM1668 749.4v2.7h1v-2.7zM1669 749.4v2.9h1v-2.9zM1692 749.4v0.8h1v-0.8zM1693 749.4v1.9h1v-1.9zM1694 749.4v2.5h1v-2.5zM1747 749.4v0.5h1v-0.5zM1749 749.4v0.5h1v-0.5zM1753 749.4v0.5h1v-0.5zM1755 749.4v0.5h1v-0.5zM1790 749.4v0.8h1v-0.8zM1791 749.4v1.8h1v-1.8zM1793 749.4v2.7h1v-2.7zM1794 749.4v3.2h1v-3.2zM1796 749.4v3.2h1v-3.2zM1797 749.4v3.3h1v-3.3zM1799 749.4v3.5h1v-3.5zM1840 749.4v0.5h1v-0.5zM1841 749.4v0.5h1v-0.5zM1843 749.4v0.7h1v-0.7zM1844 749.4v1.1h1v-1.1zM1846 749.4v2.0h1v-2.0zM1847 749.4v3.2h1v-3.2zM1849 749.4v4.6h1v-4.6zM1850 749.4v5.1h1v-5.1zM1852 749.4v5.4h1v-5.4zM1853 749.4v5.4h1v-5.4zM1855 749.4v5.5h1v-5.5zM1865 749.4v1.8h1v-1.8z" fill="#ff5252" shape-rendering="crispEdges"/>
<clipPath id="plot"><rect x="10.5" y="28" width="1965.5" height="810"/></clipPath><g clip-path="url(#plot)">
<path d="M11.5 764.3 L12.9 765.6 L14.4 768.3 L15.9 774.7 L17.4 779.6 L18.8 782.6 L20.3 783.9 L21.8 785.5 L23.2 787.7 L24.7 788.0 L26.2 786.5 L27.6 784.5 L29.1 782.1 L30.6 780.0 L32.0 777.9 L33.5 776.9 L35.0 776.6 L36.4 777.0 L37.9 776.5 L39.4 775.2 L40.9 773.2 L42.3 771.3 L43.8 769.9 L45.3 768.5 L46.7 767.3 L48.2 765.8 L49.7 764.0 L51.1 762.6 L52.6 761.1 L54.1 760.3 L55.5 759.8 L57.0 760.2 L58.5 762.4 L60.0 763.8 L61.4 764.1 L62.9 763.9 L64.4 764.1 L65.8 765.0 L67.3 766.3 L68.8 767.3 L70.2 767.4 L71.7 767.0 L73.2 766.1 L74.6 764.8 L76.1 763.7 L77.6 762.9 L79.0 762.1 L80.5 762.1 L82.0 762.8 L83.5 763.2 L84.9 763.0 L86.4 762.3 L87.9 761.1 L89.3 759.8 L90.8 758.4 L92.3 757.5 L93.7 756.9 L95.2 756.8 L96.7 754.6 L98.1 752.9 L99.6 751.8 L101.1 750.5 L102.6 749.3 L104.0 747.9 L105.5 746.3 L107.0 744.9 L108.4 743.8 L109.9 742.5 L111.4 741.4 L112.8 741.0 L114.3 741.0 L115.8 741.8 L117.2 743.3 L118.7 744.5 L120.2 745.9 L121.7 747.2 L123.1 748.4 L124.6 748.9 L126.1 748.7 L127.5 748.0 L129.0 747.2 L130.5 746.6 L131.9 745.9 L133.4 744.8 L134.9 744.0 L136.3 743.6 L137.8 743.4 L139.3 743.5 L140.7 744.0 L142.2 744.8 L143.7 744.9 L145.2 744.7 L146.6 744.6 L148.1 744.5 L149.6 744.7 L151.0 745.1 L152.5 745.3 L154.0 746.8 L155.4 748.9 L156.9 751.2 L158.4 752.7 L159.8 753.6 L161.3 753.7 L162.8 753.7 L164.3 753.5 L165.7 753.6 L167.2 754.1 L168.7 754.1 L170.1 753.7 L171.6 752.8 L173.1 751.2 L174.5 749.3 L176.0 747.6 L177.5 745.8 L178.9 745.2 L180.4 745.4 L181.9 745.6 L183.3 745.3 L184.8 745.3 L186.3 745.8 L187.8 746.3 L189.2 746.7 L190.7 747.0 L192.2 747.3 L193.6 747.6 L195.1 748.0 L196.6 748.5 L198.0 749.0 L199.5 749.1 L201.0 749.3 L202.4 749.9 L203.9 750.8 L205.4 752.2 L206.9 754.0 L208.3 756.6 L209.8 758.4 L211.3 758.9 L212.7 758.4 L214.2 758.0 L215.7 758.2 L217.1 758.7 L218.6 759.5 L220.1 760.5 L221.5 762.0 L223.0 762.5 L224.5 762.3 L225.9 761.3 L227.4 760.3 L228.9 759.7 L230.4 760.1 L231.8 761.1 L233.3 762.6 L234.8 764.5 L236.2 765.7 L237.7 766.9 L239.2 768.2 L240.6 769.2 L242.1 769.5 L243.6 768.6 L245.0 767.4 L246.5 766.4 L248.0 765.3 L249.5 764.8 L250.9 764.6 L252.4 764.8 L253.9 765.0 L255.3 764.3 L256.8 763.9 L258.3 763.7 L259.7 763.7 L261.2 763.6 L262.7 762.4 L264.1 761.3 L265.6 759.9 L267.1 758.8 L268.6 757.1 L270.0 759.1 L271.5 763.0 L273.0 764.3 L274.4 764.7 L275.9 764.5 L277.4 763.7 L278.8 762.9 L280.3 762.7 L281.8 762.9 L283.2 763.6 L284.7 765.9 L286.2 767.5 L287.6 768.5 L289.1 768.3 L290.6 766.8 L292.1 765.2 L293.5 763.4 L295.0 761.4 L296.5 759.0 L297.9 756.3 L299.4 753.7 L300.9 752.0 L302.3 751.2 L303.8 751.2 L305.3 752.0 L306.7 752.6 L308.2 752.7 L309.7 752.3 L311.2 752.1 L312.6 751.7 L314.1 751.4 L315.6 751.1 L317.0 750.7 L318.5 750.5 L320.0 750.1 L321.4 749.4 L322.9 748.6 L324.4 748.6 L325.8 749.1 L327.3 750.3 L328.8 751.7 L330.2 753.2 L331.7 755.1 L333.2 757.3 L334.7 760.6 L336.1 763.1 L337.6 764.6 L339.1 764.6 L340.5 763.6 L342.0 762.2 L343.5 760.3 L344.9 758.0 L346.4 755.8 L347.9 753.2 L349.3 750.6 L350.8 749.0 L352.3 748.0 L353.8 747.2 L355.2 745.9 L356.7 744.3 L358.2 742.8 L359.6 741.3 L361.1 739.6 L362.6 739.8 L364.0 741.0 L365.5 742.3 L367.0 742.9 L368.4 743.2 L369.9 743.8 L371.4 745.7 L372.8 747.7 L374.3 750.0 L375.8 752.0 L377.3 754.1 L378.7 755.1 L380.2 755.5 L381.7 755.6 L383.1 756.2 L384.6 756.5 L386.1 756.6 L387.5 756.4 L389.0 755.7 L390.5 754.7 L391.9 753.9 L393.4 753.2 L394.9 752.8 L396.4 752.6 L397.8 752.8 L399.3 752.8 L400.8 753.1 L402.2 753.8 L403.7 754.4 L405.2 754.3 L406.6 753.8 L408.1 753.2 L409.6 752.7 L411.0 752.6 L412.5 752.7 L414.0 752.4 L415.5 751.5 L416.9 750.7 L418.4 750.2 L419.9 750.1 L421.3 751.1 L422.8 752.2 L424.3 752.9 L425.7 753.0 L427.2 753.1 L428.7 752.8 L430.1 752.1 L431.6 751.5 L433.1 750.5 L434.5 749.1 L436.0 747.5 L437.5 745.8 L439.0 744.6 L440.4 744.2 L441.9 744.0 L443.4 743.6 L444.8 742.9 L446.3 742.3 L447.8 740.9 L449.2 738.7 L450.7 735.4 L452.2 732.5 L453.6 730.8 L455.1 730.1 L456.6 730.8 L458.1 732.9 L459.5 734.8 L461.0 735.4 L462.5 735.1 L463.9 734.7 L465.4 734.8 L466.9 734.4 L468.3 733.8 L469.8 733.4 L471.3 732.8 L472.7 733.0 L474.2 734.8 L475.7 737.7 L477.1 741.4 L478.6 745.2 L480.1 747.3 L481.6 747.7 L483.0 747.6 L484.5 748.2 L486.0 748.4 L487.4 747.9 L488.9 747.1 L490.4 746.6 L491.8 747.5 L493.3 749.3 L494.8 750.4 L496.2 750.4 L497.7 750.7 L499.2 751.4 L500.7 752.0 L502.1 752.7 L503.6 752.4 L505.1 752.0 L506.5 752.6 L508.0 753.3 L509.5 753.3 L510.9 753.0 L512.4 752.9 L513.9 752.8 L515.3 752.9 L516.8 753.0 L518.3 753.1 L519.7 753.2 L521.2 753.3 L522.7 753.7 L524.2 753.8 L525.6 753.5 L527.1 753.1 L528.6 753.7 L530.0 754.5 L531.5 755.3 L533.0 756.2 L534.4 757.3 L535.9 758.6 L537.4 759.7 L538.8 760.6 L540.3 761.1 L541.8 761.2 L543.3 760.9 L544.7 760.4 L546.2 759.7 L547.7 758.9 L549.1 758.1 L550.6 757.2 L552.1 756.3 L553.5 755.5 L555.0 754.6 L556.5 753.6 L557.9 752.6 L559.4 751.6 L560.9 750.5 L562.4 749.4 L563.8 748.7 L565.3 748.2 L566.8 747.7 L568.2 747.2 L569.7 746.7 L571.2 746.7 L572.6 746.9 L574.1 747.3 L575.6 747.7 L577.0 747.7 L578.5 747.3 L580.0 746.8 L581.4 746.3 L582.9 745.9 L584.4 745.4 L585.9 744.9 L587.3 744.5 L588.8 744.2 L590.3 743.7 L591.7 743.0 L593.2 742.5 L594.7 741.7 L596.1 740.4 L597.6 739.4 L599.1 738.9 L600.5 738.6 L602.0 738.5 L603.5 738.6 L605.0 739.2 L606.4 739.9 L607.9 740.8 L609.4 741.5 L610.8 742.5 L612.3 744.2 L613.8 745.8 L615.2 747.3 L616.7 748.8 L618.2 750.4 L619.6 752.0 L621.1 753.8 L622.6 754.0 L624.0 753.4 L625.5 752.4 L627.0 751.8 L628.5 751.0 L629.9 750.5 L631.4 750.2 L632.9 749.6 L634.3 748.2 L635.8 747.0 L637.3 746.2 L638.7 745.6 L640.2 745.1 L641.7 744.5 L643.1 743.3 L644.6 741.7 L646.1 740.5 L647.6 739.6 L649.0 739.3 L650.5 739.6 L652.0 740.1 L653.4 740.8 L654.9 741.6 L656.4 741.9 L657.8 741.9 L659.3 741.1 L660.8 741.0 L662.2 742.1 L663.7 743.6 L665.2 744.1 L666.6 743.9 L668.1 743.0 L669.6 743.6 L671.1 744.9 L672.5 746.6 L674.0 748.0 L675.5 748.8 L676.9 748.3 L678.4 747.4 L679.9 746.9 L681.3 746.3 L682.8 746.0 L684.3 745.7 L685.7 744.4 L687.2 740.9 L688.7 731.4 L690.2 720.0 L691.6 703.4 L693.1 696.1 L694.6 692.5 L696.0 690.5 L697.5 688.6 L699.0 688.4 L700.4 692.0 L701.9 695.4 L703.4 698.2 L704.8 700.3 L706.3 702.7 L707.8 705.9 L709.3 710.0 L710.7 715.1 L712.2 720.2 L713.7 725.7 L715.1 728.9 L716.6 730.9 L718.1 732.0 L719.5 731.8 L721.0 732.4 L722.5 734.0 L723.9 736.1 L725.4 738.5 L726.9 741.0 L728.3 743.8 L729.8 744.9 L731.3 745.9 L732.8 746.4 L734.2 745.4 L735.7 744.5 L737.2 744.3 L738.6 743.7 L740.1 743.0 L741.6 742.1 L743.0 741.3 L744.5 741.1 L746.0 740.8 L747.4 740.1 L748.9 739.4 L750.4 738.6 L751.9 738.3 L753.3 738.3 L754.8 737.8 L756.3 736.0 L757.7 735.8 L759.2 737.2 L760.7 739.4 L762.1 742.3 L763.6 745.4 L765.1 749.1 L766.5 753.2 L768.0 755.9 L769.5 758.3 L770.9 759.5 L772.4 760.6 L773.9 761.9 L775.4 764.7 L776.8 767.3 L778.3 770.2 L779.8 772.0 L781.2 773.0 L782.7 774.5 L784.2 776.2 L785.6 777.9 L787.1 778.9 L788.6 779.9 L790.0 780.8 L791.5 781.5 L793.0 782.4 L794.5 783.6 L795.9 784.7 L797.4 784.6 L798.9 784.2 L800.3 783.6 L801.8 782.8 L803.3 782.7 L804.7 782.8 L806.2 783.0 L807.7 782.6 L809.1 781.5 L810.6 780.0 L812.1 778.1 L813.5 776.1 L815.0 775.3 L816.5 775.3 L818.0 775.3 L819.4 774.5 L820.9 772.8 L822.4 770.2 L823.8 767.5 L825.3 765.2 L826.8 763.4 L828.2 762.2 L829.7 761.8 L831.2 761.9 L832.6 762.0 L834.1 762.0 L835.6 762.1 L837.1 762.3 L838.5 762.9 L840.0 764.0 L841.5 765.4 L842.9 767.1 L844.4 769.3 L845.9 770.6 L847.3 770.1 L848.8 768.5 L850.3 766.8 L851.7 765.1 L853.2 764.1 L854.7 763.3 L856.2 762.3 L857.6 761.3 L859.1 760.6 L860.6 760.3 L862.0 760.1 L863.5 759.7 L865.0 759.1 L866.4 758.4 L867.9 757.2 L869.4 755.5 L870.8 754.4 L872.3 754.0 L873.8 753.6 L875.2 753.0 L876.7 752.2 L878.2 751.5 L879.7 750.9 L881.1 750.6 L882.6 751.0 L884.1 751.1 L885.5 750.9 L887.0 750.5 L888.5 749.7 L889.9 749.0 L891.4 748.7 L892.9 748.7 L894.3 749.3 L895.8 750.4 L897.3 751.4 L898.8 752.1 L900.2 752.7 L901.7 753.9 L903.2 755.3 L904.6 757.1 L906.1 758.5 L907.6 759.1 L909.0 759.1 L910.5 759.0 L912.0 758.9 L913.4 758.4 L914.9 757.5 L916.4 756.7 L917.8 756.2 L919.3 755.7 L920.8 755.0 L922.3 754.2 L923.7 753.5 L925.2 752.6 L926.7 752.0 L928.1 751.6 L929.6 751.5 L931.1 752.0 L932.5 752.8 L934.0 753.8 L935.5 754.7 L936.9 755.3 L938.4 755.3 L939.9 755.0 L941.4 754.4 L942.8 753.7 L944.3 753.3 L945.8 753.0 L947.2 752.4 L948.7 751.8 L950.2 750.9 L951.6 749.9 L953.1 748.9 L954.6 748.1 L956.0 747.4 L957.5 747.3 L959.0 747.3 L960.4 746.9 L961.9 746.5 L963.4 745.7 L964.9 744.8 L966.3 744.6 L967.8 744.6 L969.3 744.8 L970.7 745.2 L972.2 745.4 L973.7 745.5 L975.1 745.8 L976.6 746.1 L978.1 746.4 L979.5 746.9 L981.0 747.5 L982.5 748.2 L984.0 748.8 L985.4 749.0 L986.9 749.0 L988.4 748.9 L989.8 748.8 L991.3 748.8 L992.8 748.9 L994.2 748.8 L995.7 748.7 L997.2 748.8 L998.6 749.0 L1000.1 749.4 L1001.6 749.5 L1003.1 749.5 L1004.5 749.6 L1006.0 749.8 L1007.5 749.8 L1008.9 749.7 L1010.4 749.4 L1011.9 749.4 L1013.3 749.8 L1014.8 750.1 L1016.3 750.3 L1017.7 750.0 L1019.2 749.5 L1020.7 749.0 L1022.1 748.4 L1023.6 747.8 L1025.1 747.3 L1026.6 747.2 L1028.0 747.2 L1029.5 747.2 L1031.0 747.1 L1032.4 747.1 L1033.9 747.1 L1035.4 747.2 L1036.8 747.3 L1038.3 747.4 L1039.8 747.6 L1041.2 748.1 L1042.7 748.5 L1044.2 748.4 L1045.7 748.2 L1047.1 748.2 L1048.6 748.5 L1050.1 749.0 L1051.5 749.5 L1053.0 749.9 L1054.5 749.9 L1055.9 749.6 L1057.4 749.3 L1058.9 749.1 L1060.3 748.6 L1061.8 748.9 L1063.3 745.1 L1064.7 742.1 L1066.2 738.1 L1067.7 734.6 L1069.2 728.0 L1070.6 724.9 L1072.1 724.6 L1073.6 726.1 L1075.0 728.2 L1076.5 730.6 L1078.0 732.2 L1079.4 733.6 L1080.9 734.8 L1082.4 735.8 L1083.8 737.5 L1085.3 739.7 L1086.8 742.7 L1088.3 744.8 L1089.7 746.8 L1091.2 748.4 L1092.7 749.8 L1094.1 750.9 L1095.6 751.6 L1097.1 751.8 L1098.5 751.8 L1100.0 752.1 L1101.5 753.0 L1102.9 753.9 L1104.4 754.6 L1105.9 755.0 L1107.3 755.2 L1108.8 755.3 L1110.3 755.6 L1111.8 755.8 L1113.2 755.8 L1114.7 755.9 L1116.2 756.3 L1117.6 756.9 L1119.1 757.5 L1120.6 757.9 L1122.0 758.5 L1123.5 759.1 L1125.0 758.8 L1126.4 758.4 L1127.9 758.1 L1129.4 758.2 L1130.9 757.9 L1132.3 757.4 L1133.8 757.5 L1135.3 758.4 L1136.7 758.9 L1138.2 759.0 L1139.7 759.8 L1141.1 760.1 L1142.6 760.0 L1144.1 759.5 L1145.5 758.7 L1147.0 757.8 L1148.5 757.3 L1150.0 756.8 L1151.4 756.5 L1152.9 756.0 L1154.4 755.6 L1155.8 755.4 L1157.3 755.3 L1158.8 755.5 L1160.2 756.2 L1161.7 757.1 L1163.2 757.9 L1164.6 758.5 L1166.1 758.4 L1167.6 757.7 L1169.0 757.3 L1170.5 757.1 L1172.0 757.7 L1173.5 758.8 L1174.9 760.2 L1176.4 761.5 L1177.9 762.6 L1179.3 763.6 L1180.8 764.5 L1182.3 764.8 L1183.7 764.9 L1185.2 764.8 L1186.7 765.2 L1188.1 765.6 L1189.6 766.5 L1191.1 767.4 L1192.6 768.2 L1194.0 768.5 L1195.5 767.3 L1197.0 765.9 L1198.4 764.5 L1199.9 763.1 L1201.4 761.6 L1202.8 760.2 L1204.3 759.5 L1205.8 759.2 L1207.2 758.8 L1208.7 758.6 L1210.2 758.3 L1211.6 757.6 L1213.1 757.3 L1214.6 757.6 L1216.1 757.8 L1217.5 757.6 L1219.0 757.4 L1220.5 757.3 L1221.9 757.6 L1223.4 758.1 L1224.9 758.4 L1226.3 758.9 L1227.8 759.6 L1229.3 760.3 L1230.7 761.0 L1232.2 761.2 L1233.7 762.7 L1235.2 765.4 L1236.6 767.9 L1238.1 769.0 L1239.6 768.9 L1241.0 768.0 L1242.5 766.8 L1244.0 765.5 L1245.4 764.5 L1246.9 763.5 L1248.4 761.9 L1249.8 760.6 L1251.3 759.3 L1252.8 758.8 L1254.2 758.3 L1255.7 758.5 L1257.2 759.7 L1258.7 759.5 L1260.1 758.8 L1261.6 757.8 L1263.1 756.9 L1264.5 756.6 L1266.0 756.3 L1267.5 755.3 L1268.9 754.4 L1270.4 753.2 L1271.9 751.1 L1273.3 747.3 L1274.8 744.7 L1276.3 743.3 L1277.8 743.1 L1279.2 742.9 L1280.7 742.8 L1282.2 743.1 L1283.6 743.7 L1285.1 744.3 L1286.6 745.0 L1288.0 746.2 L1289.5 747.1 L1291.0 747.8 L1292.4 748.5 L1293.9 749.0 L1295.4 749.5 L1296.9 749.9 L1298.3 750.5 L1299.8 751.2 L1301.3 752.0 L1302.7 752.9 L1304.2 754.1 L1305.7 755.2 L1307.1 756.5 L1308.6 757.7 L1310.1 758.5 L1311.5 758.9 L1313.0 759.0 L1314.5 758.7 L1315.9 758.2 L1317.4 757.6 L1318.9 757.0 L1320.4 756.6 L1321.8 756.1 L1323.3 755.9 L1324.8 756.0 L1326.2 756.3 L1327.7 756.7 L1329.2 757.5 L1330.6 758.3 L1332.1 759.6 L1333.6 761.0 L1335.0 762.0 L1336.5 762.2 L1338.0 762.5 L1339.5 762.9 L1340.9 762.6 L1342.4 762.0 L1343.9 761.2 L1345.3 760.3 L1346.8 759.4 L1348.3 758.6 L1349.7 758.2 L1351.2 758.0 L1352.7 758.3 L1354.1 758.2 L1355.6 758.3 L1357.1 758.3 L1358.5 758.6 L1360.0 759.2 L1361.5 760.0 L1363.0 761.2 L1364.4 761.5 L1365.9 761.5 L1367.4 761.5 L1368.8 761.3 L1370.3 761.1 L1371.8 760.5 L1373.2 759.7 L1374.7 758.4 L1376.2 757.1 L1377.6 756.3 L1379.1 756.2 L1380.6 756.4 L1382.1 756.2 L1383.5 756.1 L1385.0 755.4 L1386.5 754.6 L1387.9 753.6 L1389.4 752.9 L1390.9 752.4 L1392.3 751.8 L1393.8 750.8 L1395.3 750.2 L1396.7 749.4 L1398.2 748.8 L1399.7 748.5 L1401.2 748.6 L1402.6 748.5 L1404.1 769.7 L1405.6 780.0 L1407.0 787.1 L1408.5 792.3 L1410.0 795.7 L1411.4 797.4 L1412.9 798.4 L1414.4 801.0 L1415.8 806.5 L1417.3 811.5 L1418.8 815.4 L1420.2 816.5 L1421.7 817.2 L1423.2 818.9 L1424.7 822.8 L1426.1 824.2 L1427.6 823.5 L1429.1 821.5 L1430.5 819.3 L1432.0 817.0 L1433.5 814.2 L1434.9 811.2 L1436.4 808.0 L1437.9 804.9 L1439.3 800.7 L1440.8 796.0 L1442.3 789.9 L1443.8 784.8 L1445.2 781.2 L1446.7 777.3 L1448.2 773.4 L1449.6 770.0 L1451.1 767.2 L1452.6 765.4 L1454.0 764.6 L1455.5 764.5 L1457.0 764.2 L1458.4 763.5 L1459.9 763.0 L1461.4 763.4 L1462.8 764.4 L1464.3 765.2 L1465.8 766.0 L1467.3 767.4 L1468.7 768.9 L1470.2 768.9 L1471.7 767.6 L1473.1 765.6 L1474.6 763.5 L1476.1 761.5 L1477.5 759.4 L1479.0 757.6 L1480.5 756.4 L1481.9 755.5 L1483.4 753.8 L1484.9 751.4 L1486.4 749.8 L1487.8 748.5 L1489.3 747.6 L1490.8 746.7 L1492.2 745.0 L1493.7 743.4 L1495.2 741.5 L1496.6 739.0 L1498.1 736.2 L1499.6 732.7 L1501.0 730.4 L1502.5 729.7 L1504.0 730.3 L1505.4 732.2 L1506.9 734.4 L1508.4 736.5 L1509.9 738.2 L1511.3 739.0 L1512.8 739.2 L1514.3 739.7 L1515.7 740.4 L1517.2 741.0 L1518.7 741.3 L1520.1 742.1 L1521.6 743.2 L1523.1 744.3 L1524.5 745.5 L1526.0 746.5 L1527.5 746.8 L1529.0 746.6 L1530.4 746.3 L1531.9 745.7 L1533.4 744.8 L1534.8 744.0 L1536.3 743.5 L1537.8 743.3 L1539.2 743.7 L1540.7 744.3 L1542.2 745.0 L1543.6 745.9 L1545.1 747.0 L1546.6 748.3 L1548.0 749.6 L1549.5 751.0 L1551.0 752.0 L1552.5 751.6 L1553.9 750.9 L1555.4 751.0 L1556.9 751.6 L1558.3 752.8 L1559.8 754.2 L1561.3 755.6 L1562.7 757.0 L1564.2 758.3 L1565.7 759.4 L1567.1 760.1 L1568.6 760.6 L1570.1 760.3 L1571.6 759.5 L1573.0 758.8 L1574.5 758.7 L1576.0 759.1 L1577.4 760.0 L1578.9 761.0 L1580.4 761.4 L1581.8 761.2 L1583.3 760.6 L1584.8 760.0 L1586.2 759.2 L1587.7 758.4 L1589.2 757.5 L1590.7 756.7 L1592.1 755.8 L1593.6 754.6 L1595.1 753.3 L1596.5 751.9 L1598.0 750.6 L1599.5 749.3 L1600.9 748.4 L1602.4 748.3 L1603.9 748.7 L1605.3 748.1 L1606.8 746.9 L1608.3 746.0 L1609.7 745.1 L1611.2 744.4 L1612.7 743.9 L1614.2 743.1 L1615.6 742.1 L1617.1 741.7 L1618.6 742.3 L1620.0 743.8 L1621.5 745.7 L1623.0 747.6 L1624.4 749.2 L1625.9 750.8 L1627.4 751.7 L1628.8 752.2 L1630.3 753.2 L1631.8 754.1 L1633.3 755.2 L1634.7 756.4 L1636.2 757.1 L1637.7 757.3 L1639.1 757.1 L1640.6 756.6 L1642.1 756.1 L1643.5 755.3 L1645.0 754.8 L1646.5 754.7 L1647.9 754.9 L1649.4 755.2 L1650.9 755.6 L1652.3 756.4 L1653.8 757.4 L1655.3 759.6 L1656.8 761.3 L1658.2 762.2 L1659.7 762.7 L1661.2 763.3 L1662.6 763.9 L1664.1 764.3 L1665.6 764.7 L1667.0 765.2 L1668.5 766.2 L1670.0 767.1 L1671.4 767.2 L1672.9 766.8 L1674.4 766.0 L1675.9 765.1 L1677.3 764.4 L1678.8 763.4 L1680.3 761.9 L1681.7 760.2 L1683.2 758.5 L1684.7 757.3 L1686.1 757.1 L1687.6 757.3 L1689.1 757.7 L1690.5 758.8 L1692.0 760.3 L1693.5 761.9 L1694.9 763.1 L1696.4 763.1 L1697.9 762.5 L1699.4 761.5 L1700.8 760.4 L1702.3 759.4 L1703.8 758.6 L1705.2 758.1 L1706.7 757.7 L1708.2 757.2 L1709.6 756.6 L1711.1 756.2 L1712.6 756.3 L1714.0 756.4 L1715.5 756.5 L1717.0 756.5 L1718.5 756.2 L1719.9 755.8 L1721.4 754.9 L1722.9 753.7 L1724.3 752.4 L1725.8 751.1 L1727.3 749.9 L1728.7 748.9 L1730.2 747.9 L1731.7 746.9 L1733.1 745.7 L1734.6 744.7 L1736.1 744.0 L1737.6 743.6 L1739.0 743.5 L1740.5 743.6 L1742.0 743.9 L1743.4 744.3 L1744.9 744.7 L1746.4 744.9 L1747.8 745.1 L1749.3 745.2 L1750.8 745.2 L1752.2 745.2 L1753.7 745.2 L1755.2 745.3 L1756.6 744.8 L1758.1 743.5 L1759.6 741.6 L1761.1 740.6 L1762.5 741.0 L1764.0 741.3 L1765.5 741.3 L1766.9 741.4 L1768.4 741.1 L1769.9 740.5 L1771.3 740.4 L1772.8 739.9 L1774.3 739.2 L1775.7 737.9 L1777.2 736.5 L1778.7 735.2 L1780.2 734.4 L1781.6 733.8 L1783.1 733.3 L1784.6 732.6 L1786.0 732.6 L1787.5 733.2 L1789.0 734.2 L1790.4 735.5 L1791.9 737.0 L1793.4 738.6 L1794.8 739.8 L1796.3 740.7 L1797.8 741.6 L1799.2 742.7 L1800.7 743.2 L1802.2 743.2 L1803.7 743.1 L1805.1 743.0 L1806.6 742.3 L1808.1 741.4 L1809.5 740.3 L1811.0 739.1 L1812.5 738.0 L1813.9 737.0 L1815.4 736.5 L1816.9 736.0 L1818.3 735.5 L1819.8 735.4 L1821.3 735.6 L1822.8 735.8 L1824.2 735.9 L1825.7 735.9 L1827.2 735.7 L1828.6 735.0 L1830.1 733.7 L1831.6 732.7 L1833.0 732.1 L1834.5 732.1 L1836.0 732.5 L1837.4 732.6 L1838.9 733.1 L1840.4 733.5 L1841.8 733.8 L1843.3 734.4 L1844.8 735.0 L1846.3 736.5 L1847.7 738.5 L1849.2 740.9 L1850.7 742.7 L1852.1 744.4 L1853.6 745.8 L1855.1 747.2 L1856.5 748.5 L1858.0 749.0 L1859.5 748.8 L1860.9 748.4 L1862.4 748.3 L1863.9 748.5 L1865.4 749.0 L1866.8 748.9 L1868.3 748.5 L1869.8 747.1 L1871.2 745.0 L1872.7 742.7 L1874.2 741.0 L1875.6 739.8 L1877.1 739.3 L1878.6 739.3 L1880.0 739.6 L1881.5 740.2 L1883.0 740.5 L1884.5 739.9 L1885.9 737.9 L1887.4 735.1 L1888.9 731.7 L1890.3 728.4 L1891.8 724.9 L1893.3 723.0 L1894.7 722.9 L1896.2 723.2 L1897.7 723.8 L1899.1 724.6 L1900.6 725.3 L1902.1 725.0 L1903.5 723.2 L1905.0 721.0 L1906.5 718.9 L1908.0 715.4 L1909.4 709.8 L1910.9 706.8 L1912.4 705.9 L1913.8 705.1 L1915.3 705.5" stroke="#2962ff" stroke-width="1.1" fill="none" stroke-linejoin="round"/>
<path d="M11.5 762.6 L12.9 763.2 L14.4 764.3 L15.9 766.3 L17.4 769.0 L18.8 771.7 L20.3 774.1 L21.8 776.4 L23.2 778.7 L24.7 780.5 L26.2 781.7 L27.6 782.3 L29.1 782.2 L30.6 781.8 L32.0 781.0 L33.5 780.2 L35.0 779.5 L36.4 779.0 L37.9 778.5 L39.4 777.8 L40.9 776.9 L42.3 775.8 L43.8 774.6 L45.3 773.4 L46.7 772.2 L48.2 770.9 L49.7 769.5 L51.1 768.1 L52.6 766.7 L54.1 765.4 L55.5 764.3 L57.0 763.5 L58.5 763.3 L60.0 763.4 L61.4 763.5 L62.9 763.6 L64.4 763.7 L65.8 764.0 L67.3 764.4 L68.8 765.0 L70.2 765.5 L71.7 765.8 L73.2 765.9 L74.6 765.7 L76.1 765.3 L77.6 764.8 L79.0 764.3 L80.5 763.8 L82.0 763.6 L83.5 763.5 L84.9 763.4 L86.4 763.2 L87.9 762.8 L89.3 762.2 L90.8 761.4 L92.3 760.6 L93.7 759.9 L95.2 759.3 L96.7 758.3 L98.1 757.3 L99.6 756.2 L101.1 755.0 L102.6 753.9 L104.0 752.7 L105.5 751.4 L107.0 750.1 L108.4 748.9 L109.9 747.6 L111.4 746.3 L112.8 745.3 L114.3 744.4 L115.8 743.9 L117.2 743.8 L118.7 743.9 L120.2 744.3 L121.7 744.9 L123.1 745.6 L124.6 746.3 L126.1 746.7 L127.5 747.0 L129.0 747.0 L130.5 747.0 L131.9 746.7 L133.4 746.4 L134.9 745.9 L136.3 745.4 L137.8 745.0 L139.3 744.7 L140.7 744.6 L142.2 744.6 L143.7 744.7 L145.2 744.7 L146.6 744.7 L148.1 744.6 L149.6 744.6 L151.0 744.7 L152.5 744.8 L154.0 745.2 L155.4 746.0 L156.9 747.0 L158.4 748.1 L159.8 749.2 L161.3 750.1 L162.8 750.8 L164.3 751.4 L165.7 751.8 L167.2 752.3 L168.7 752.7 L170.1 752.9 L171.6 752.8 L173.1 752.5 L174.5 751.9 L176.0 751.0 L177.5 750.0 L178.9 749.0 L180.4 748.3 L181.9 747.8 L183.3 747.3 L184.8 746.9 L186.3 746.7 L187.8 746.6 L189.2 746.6 L190.7 746.7 L192.2 746.8 L193.6 747.0 L195.1 747.2 L196.6 747.4 L198.0 747.7 L199.5 748.0 L201.0 748.3 L202.4 748.6 L203.9 749.0 L205.4 749.7 L206.9 750.5 L208.3 751.7 L209.8 753.1 L211.3 754.2 L212.7 755.1 L214.2 755.7 L215.7 756.2 L217.1 756.7 L218.6 757.2 L220.1 757.9 L221.5 758.7 L223.0 759.5 L224.5 760.0 L225.9 760.3 L227.4 760.3 L228.9 760.2 L230.4 760.2 L231.8 760.4 L233.3 760.8 L234.8 761.5 L236.2 762.4 L237.7 763.3 L239.2 764.3 L240.6 765.2 L242.1 766.1 L243.6 766.6 L245.0 766.8 L246.5 766.7 L248.0 766.4 L249.5 766.1 L250.9 765.8 L252.4 765.6 L253.9 765.5 L255.3 765.2 L256.8 765.0 L258.3 764.7 L259.7 764.5 L261.2 764.3 L262.7 764.0 L264.1 763.4 L265.6 762.7 L267.1 762.0 L268.6 761.0 L270.0 760.6 L271.5 761.1 L273.0 761.7 L274.4 762.3 L275.9 762.8 L277.4 762.9 L278.8 762.9 L280.3 762.9 L281.8 762.9 L283.2 763.0 L284.7 763.6 L286.2 764.4 L287.6 765.2 L289.1 765.8 L290.6 766.0 L292.1 765.9 L293.5 765.4 L295.0 764.6 L296.5 763.5 L297.9 762.0 L299.4 760.4 L300.9 758.7 L302.3 757.2 L303.8 756.0 L305.3 755.2 L306.7 754.7 L308.2 754.3 L309.7 753.9 L311.2 753.5 L312.6 753.2 L314.1 752.8 L315.6 752.5 L317.0 752.1 L318.5 751.8 L320.0 751.5 L321.4 751.0 L322.9 750.6 L324.4 750.2 L325.8 750.0 L327.3 750.0 L328.8 750.4 L330.2 750.9 L331.7 751.8 L333.2 752.9 L334.7 754.4 L336.1 756.2 L337.6 757.8 L339.1 759.2 L340.5 760.1 L342.0 760.5 L343.5 760.5 L344.9 760.0 L346.4 759.1 L347.9 758.0 L349.3 756.5 L350.8 755.0 L352.3 753.6 L353.8 752.3 L355.2 751.0 L356.7 749.7 L358.2 748.3 L359.6 746.9 L361.1 745.5 L362.6 744.3 L364.0 743.7 L365.5 743.4 L367.0 743.3 L368.4 743.3 L369.9 743.4 L371.4 743.8 L372.8 744.6 L374.3 745.7 L375.8 747.0 L377.3 748.4 L378.7 749.7 L380.2 750.9 L381.7 751.8 L383.1 752.7 L384.6 753.5 L386.1 754.1 L387.5 754.6 L389.0 754.8 L390.5 754.8 L391.9 754.6 L393.4 754.3 L394.9 754.0 L396.4 753.7 L397.8 753.5 L399.3 753.4 L400.8 753.3 L402.2 753.4 L403.7 753.6 L405.2 753.8 L406.6 753.8 L408.1 753.7 L409.6 753.5 L411.0 753.3 L412.5 753.2 L414.0 753.0 L415.5 752.7 L416.9 752.3 L418.4 751.9 L419.9 751.5 L421.3 751.4 L422.8 751.6 L424.3 751.9 L425.7 752.1 L427.2 752.3 L428.7 752.4 L430.1 752.3 L431.6 752.2 L433.1 751.8 L434.5 751.3 L436.0 750.5 L437.5 749.6 L439.0 748.6 L440.4 747.7 L441.9 747.0 L443.4 746.3 L444.8 745.6 L446.3 744.9 L447.8 744.1 L449.2 743.0 L450.7 741.5 L452.2 739.7 L453.6 737.9 L455.1 736.4 L456.6 735.3 L458.1 734.8 L459.5 734.8 L461.0 734.9 L462.5 734.9 L463.9 734.9 L465.4 734.9 L466.9 734.8 L468.3 734.6 L469.8 734.4 L471.3 734.0 L472.7 733.8 L474.2 734.0 L475.7 734.8 L477.1 736.1 L478.6 737.9 L480.1 739.8 L481.6 741.4 L483.0 742.6 L484.5 743.7 L486.0 744.7 L487.4 745.3 L488.9 745.7 L490.4 745.8 L491.8 746.2 L493.3 746.8 L494.8 747.5 L496.2 748.1 L497.7 748.6 L499.2 749.2 L500.7 749.7 L502.1 750.3 L503.6 750.8 L505.1 751.0 L506.5 751.3 L508.0 751.7 L509.5 752.0 L510.9 752.2 L512.4 752.3 L513.9 752.4 L515.3 752.5 L516.8 752.6 L518.3 752.7 L519.7 752.8 L521.2 752.9 L522.7 753.1 L524.2 753.2 L525.6 753.3 L527.1 753.2 L528.6 753.3 L530.0 753.6 L531.5 753.9 L533.0 754.4 L534.4 755.0 L535.9 755.7 L537.4 756.5 L538.8 757.3 L540.3 758.1 L541.8 758.7 L543.3 759.1 L544.7 759.4 L546.2 759.4 L547.7 759.3 L549.1 759.1 L550.6 758.7 L552.1 758.2 L553.5 757.7 L555.0 757.1 L556.5 756.4 L557.9 755.6 L559.4 754.8 L560.9 753.9 L562.4 753.0 L563.8 752.2 L565.3 751.4 L566.8 750.6 L568.2 750.0 L569.7 749.3 L571.2 748.8 L572.6 748.4 L574.1 748.2 L575.6 748.1 L577.0 748.0 L578.5 747.9 L580.0 747.7 L581.4 747.4 L582.9 747.1 L584.4 746.7 L585.9 746.4 L587.3 746.0 L588.8 745.7 L590.3 745.3 L591.7 744.8 L593.2 744.3 L594.7 743.8 L596.1 743.1 L597.6 742.4 L599.1 741.7 L600.5 741.1 L602.0 740.5 L603.5 740.2 L605.0 740.0 L606.4 740.0 L607.9 740.1 L609.4 740.4 L610.8 740.8 L612.3 741.5 L613.8 742.4 L615.2 743.3 L616.7 744.4 L618.2 745.6 L619.6 746.9 L621.1 748.3 L622.6 749.4 L624.0 750.2 L625.5 750.7 L627.0 750.9 L628.5 750.9 L629.9 750.8 L631.4 750.7 L632.9 750.5 L634.3 750.0 L635.8 749.4 L637.3 748.8 L638.7 748.1 L640.2 747.5 L641.7 746.9 L643.1 746.2 L644.6 745.3 L646.1 744.3 L647.6 743.4 L649.0 742.6 L650.5 742.0 L652.0 741.6 L653.4 741.4 L654.9 741.5 L656.4 741.6 L657.8 741.6 L659.3 741.5 L660.8 741.4 L662.2 741.6 L663.7 742.0 L665.2 742.4 L666.6 742.7 L668.1 742.8 L669.6 742.9 L671.1 743.3 L672.5 744.0 L674.0 744.8 L675.5 745.6 L676.9 746.1 L678.4 746.4 L679.9 746.5 L681.3 746.5 L682.8 746.4 L684.3 746.2 L685.7 745.9 L687.2 744.9 L688.7 742.2 L690.2 737.7 L691.6 730.9 L693.1 723.9 L694.6 717.6 L696.0 712.2 L697.5 707.5 L699.0 703.7 L700.4 701.3 L701.9 700.1 L703.4 699.8 L704.8 699.9 L706.3 700.4 L707.8 701.5 L709.3 703.2 L710.7 705.6 L712.2 708.5 L713.7 712.0 L715.1 715.3 L716.6 718.5 L718.1 721.2 L719.5 723.3 L721.0 725.1 L722.5 726.9 L723.9 728.7 L725.4 730.7 L726.9 732.8 L728.3 735.0 L729.8 737.0 L731.3 738.8 L732.8 740.3 L734.2 741.3 L735.7 742.0 L737.2 742.4 L738.6 742.7 L740.1 742.8 L741.6 742.6 L743.0 742.4 L744.5 742.1 L746.0 741.8 L747.4 741.5 L748.9 741.1 L750.4 740.6 L751.9 740.1 L753.3 739.7 L754.8 739.3 L756.3 738.7 L757.7 738.1 L759.2 737.9 L760.7 738.2 L762.1 739.0 L763.6 740.3 L765.1 742.1 L766.5 744.3 L768.0 746.6 L769.5 748.9 L770.9 751.1 L772.4 753.0 L773.9 754.8 L775.4 756.7 L776.8 758.9 L778.3 761.1 L779.8 763.3 L781.2 765.2 L782.7 767.1 L784.2 768.9 L785.6 770.7 L787.1 772.4 L788.6 773.9 L790.0 775.3 L791.5 776.5 L793.0 777.7 L794.5 778.9 L795.9 780.0 L797.4 781.0 L798.9 781.6 L800.3 782.0 L801.8 782.2 L803.3 782.3 L804.7 782.4 L806.2 782.5 L807.7 782.5 L809.1 782.3 L810.6 781.9 L812.1 781.1 L813.5 780.1 L815.0 779.1 L816.5 778.4 L818.0 777.8 L819.4 777.1 L820.9 776.3 L822.4 775.0 L823.8 773.5 L825.3 771.9 L826.8 770.2 L828.2 768.6 L829.7 767.2 L831.2 766.2 L832.6 765.3 L834.1 764.7 L835.6 764.2 L837.1 763.8 L838.5 763.6 L840.0 763.7 L841.5 764.0 L842.9 764.6 L844.4 765.6 L845.9 766.6 L847.3 767.3 L848.8 767.5 L850.3 767.4 L851.7 766.9 L853.2 766.4 L854.7 765.8 L856.2 765.1 L857.6 764.3 L859.1 763.6 L860.6 762.9 L862.0 762.3 L863.5 761.8 L865.0 761.3 L866.4 760.7 L867.9 760.0 L869.4 759.1 L870.8 758.2 L872.3 757.3 L873.8 756.6 L875.2 755.9 L876.7 755.1 L878.2 754.4 L879.7 753.7 L881.1 753.1 L882.6 752.7 L884.1 752.4 L885.5 752.1 L887.0 751.8 L888.5 751.4 L889.9 750.9 L891.4 750.4 L892.9 750.1 L894.3 749.9 L895.8 750.0 L897.3 750.3 L898.8 750.7 L900.2 751.1 L901.7 751.6 L903.2 752.4 L904.6 753.3 L906.1 754.4 L907.6 755.3 L909.0 756.1 L910.5 756.6 L912.0 757.1 L913.4 757.4 L914.9 757.4 L916.4 757.2 L917.8 757.0 L919.3 756.8 L920.8 756.4 L922.3 756.0 L923.7 755.5 L925.2 754.9 L926.7 754.3 L928.1 753.8 L929.6 753.3 L931.1 753.1 L932.5 753.0 L934.0 753.2 L935.5 753.5 L936.9 753.9 L938.4 754.1 L939.9 754.3 L941.4 754.3 L942.8 754.2 L944.3 754.0 L945.8 753.8 L947.2 753.5 L948.7 753.2 L950.2 752.7 L951.6 752.1 L953.1 751.5 L954.6 750.8 L956.0 750.1 L957.5 749.6 L959.0 749.1 L960.4 748.7 L961.9 748.2 L963.4 747.7 L964.9 747.1 L966.3 746.6 L967.8 746.2 L969.3 745.9 L970.7 745.8 L972.2 745.7 L973.7 745.7 L975.1 745.7 L976.6 745.8 L978.1 745.9 L979.5 746.1 L981.0 746.4 L982.5 746.7 L984.0 747.1 L985.4 747.5 L986.9 747.8 L988.4 748.0 L989.8 748.2 L991.3 748.3 L992.8 748.4 L994.2 748.5 L995.7 748.6 L997.2 748.6 L998.6 748.7 L1000.1 748.8 L1001.6 749.0 L1003.1 749.1 L1004.5 749.2 L1006.0 749.3 L1007.5 749.4 L1008.9 749.5 L1010.4 749.5 L1011.9 749.4 L1013.3 749.5 L1014.8 749.6 L1016.3 749.8 L1017.7 749.8 L1019.2 749.8 L1020.7 749.6 L1022.1 749.4 L1023.6 749.0 L1025.1 748.7 L1026.6 748.4 L1028.0 748.2 L1029.5 748.0 L1031.0 747.8 L1032.4 747.7 L1033.9 747.6 L1035.4 747.5 L1036.8 747.5 L1038.3 747.4 L1039.8 747.5 L1041.2 747.6 L1042.7 747.8 L1044.2 747.9 L1045.7 748.0 L1047.1 748.0 L1048.6 748.1 L1050.1 748.3 L1051.5 748.5 L1053.0 748.8 L1054.5 749.0 L1055.9 749.1 L1057.4 749.2 L1058.9 749.2 L1060.3 749.1 L1061.8 749.0 L1063.3 748.2 L1064.7 747.0 L1066.2 745.2 L1067.7 743.1 L1069.2 740.1 L1070.6 737.0 L1072.1 734.6 L1073.6 732.9 L1075.0 731.9 L1076.5 731.7 L1078.0 731.8 L1079.4 732.1 L1080.9 732.7 L1082.4 733.3 L1083.8 734.1 L1085.3 735.2 L1086.8 736.7 L1088.3 738.3 L1089.7 740.0 L1091.2 741.7 L1092.7 743.3 L1094.1 744.8 L1095.6 746.2 L1097.1 747.3 L1098.5 748.2 L1100.0 749.0 L1101.5 749.8 L1102.9 750.6 L1104.4 751.4 L1105.9 752.1 L1107.3 752.7 L1108.8 753.3 L1110.3 753.7 L1111.8 754.1 L1113.2 754.5 L1114.7 754.8 L1116.2 755.1 L1117.6 755.5 L1119.1 755.9 L1120.6 756.3 L1122.0 756.7 L1123.5 757.2 L1125.0 757.5 L1126.4 757.7 L1127.9 757.8 L1129.4 757.9 L1130.9 757.9 L1132.3 757.8 L1133.8 757.7 L1135.3 757.8 L1136.7 758.1 L1138.2 758.3 L1139.7 758.6 L1141.1 758.9 L1142.6 759.1 L1144.1 759.2 L1145.5 759.1 L1147.0 758.8 L1148.5 758.5 L1150.0 758.2 L1151.4 757.8 L1152.9 757.5 L1154.4 757.1 L1155.8 756.8 L1157.3 756.5 L1158.8 756.3 L1160.2 756.3 L1161.7 756.4 L1163.2 756.7 L1164.6 757.1 L1166.1 757.3 L1167.6 757.4 L1169.0 757.4 L1170.5 757.3 L1172.0 757.4 L1173.5 757.7 L1174.9 758.2 L1176.4 758.9 L1177.9 759.6 L1179.3 760.4 L1180.8 761.2 L1182.3 761.9 L1183.7 762.5 L1185.2 763.0 L1186.7 763.4 L1188.1 763.8 L1189.6 764.4 L1191.1 765.0 L1192.6 765.6 L1194.0 766.2 L1195.5 766.4 L1197.0 766.3 L1198.4 765.9 L1199.9 765.4 L1201.4 764.6 L1202.8 763.7 L1204.3 762.9 L1205.8 762.1 L1207.2 761.5 L1208.7 760.9 L1210.2 760.4 L1211.6 759.8 L1213.1 759.3 L1214.6 759.0 L1216.1 758.7 L1217.5 758.5 L1219.0 758.3 L1220.5 758.1 L1221.9 758.0 L1223.4 758.0 L1224.9 758.1 L1226.3 758.3 L1227.8 758.5 L1229.3 758.9 L1230.7 759.3 L1232.2 759.7 L1233.7 760.3 L1235.2 761.3 L1236.6 762.6 L1238.1 763.9 L1239.6 764.9 L1241.0 765.5 L1242.5 765.8 L1244.0 765.7 L1245.4 765.5 L1246.9 765.1 L1248.4 764.5 L1249.8 763.7 L1251.3 762.8 L1252.8 762.0 L1254.2 761.3 L1255.7 760.7 L1257.2 760.5 L1258.7 760.3 L1260.1 760.0 L1261.6 759.6 L1263.1 759.0 L1264.5 758.5 L1266.0 758.1 L1267.5 757.5 L1268.9 756.9 L1270.4 756.2 L1271.9 755.2 L1273.3 753.6 L1274.8 751.8 L1276.3 750.1 L1277.8 748.7 L1279.2 747.6 L1280.7 746.6 L1282.2 745.9 L1283.6 745.5 L1285.1 745.2 L1286.6 745.2 L1288.0 745.4 L1289.5 745.7 L1291.0 746.1 L1292.4 746.6 L1293.9 747.1 L1295.4 747.6 L1296.9 748.0 L1298.3 748.5 L1299.8 749.1 L1301.3 749.7 L1302.7 750.3 L1304.2 751.1 L1305.7 751.9 L1307.1 752.8 L1308.6 753.8 L1310.1 754.7 L1311.5 755.6 L1313.0 756.3 L1314.5 756.8 L1315.9 757.0 L1317.4 757.1 L1318.9 757.1 L1320.4 757.0 L1321.8 756.8 L1323.3 756.6 L1324.8 756.5 L1326.2 756.5 L1327.7 756.5 L1329.2 756.7 L1330.6 757.0 L1332.1 757.6 L1333.6 758.2 L1335.0 759.0 L1336.5 759.6 L1338.0 760.2 L1339.5 760.7 L1340.9 761.1 L1342.4 761.3 L1343.9 761.3 L1345.3 761.1 L1346.8 760.7 L1348.3 760.3 L1349.7 759.9 L1351.2 759.5 L1352.7 759.3 L1354.1 759.0 L1355.6 758.9 L1357.1 758.8 L1358.5 758.7 L1360.0 758.8 L1361.5 759.1 L1363.0 759.5 L1364.4 759.9 L1365.9 760.2 L1367.4 760.5 L1368.8 760.6 L1370.3 760.7 L1371.8 760.7 L1373.2 760.5 L1374.7 760.1 L1376.2 759.5 L1377.6 758.8 L1379.1 758.3 L1380.6 757.9 L1382.1 757.6 L1383.5 757.3 L1385.0 756.9 L1386.5 756.5 L1387.9 755.9 L1389.4 755.3 L1390.9 754.7 L1392.3 754.1 L1393.8 753.5 L1395.3 752.8 L1396.7 752.1 L1398.2 751.5 L1399.7 750.9 L1401.2 750.4 L1402.6 750.0 L1404.1 754.0 L1405.6 759.2 L1407.0 764.7 L1408.5 770.3 L1410.0 775.3 L1411.4 779.7 L1412.9 783.5 L1414.4 787.0 L1415.8 790.9 L1417.3 795.0 L1418.8 799.1 L1420.2 802.6 L1421.7 805.5 L1423.2 808.2 L1424.7 811.1 L1426.1 813.7 L1427.6 815.7 L1429.1 816.9 L1430.5 817.4 L1432.0 817.3 L1433.5 816.7 L1434.9 815.6 L1436.4 814.1 L1437.9 812.2 L1439.3 809.9 L1440.8 807.1 L1442.3 803.7 L1443.8 799.9 L1445.2 796.2 L1446.7 792.4 L1448.2 788.6 L1449.6 784.9 L1451.1 781.3 L1452.6 778.2 L1454.0 775.4 L1455.5 773.2 L1457.0 771.4 L1458.4 769.9 L1459.9 768.5 L1461.4 767.5 L1462.8 766.8 L1464.3 766.5 L1465.8 766.4 L1467.3 766.6 L1468.7 767.1 L1470.2 767.4 L1471.7 767.5 L1473.1 767.1 L1474.6 766.4 L1476.1 765.4 L1477.5 764.2 L1479.0 762.9 L1480.5 761.6 L1481.9 760.4 L1483.4 759.1 L1484.9 757.5 L1486.4 756.0 L1487.8 754.5 L1489.3 753.1 L1490.8 751.8 L1492.2 750.5 L1493.7 749.1 L1495.2 747.5 L1496.6 745.8 L1498.1 743.9 L1499.6 741.7 L1501.0 739.4 L1502.5 737.5 L1504.0 736.0 L1505.4 735.3 L1506.9 735.1 L1508.4 735.4 L1509.9 735.9 L1511.3 736.5 L1512.8 737.1 L1514.3 737.6 L1515.7 738.2 L1517.2 738.7 L1518.7 739.3 L1520.1 739.8 L1521.6 740.5 L1523.1 741.3 L1524.5 742.1 L1526.0 743.0 L1527.5 743.7 L1529.0 744.3 L1530.4 744.7 L1531.9 744.9 L1533.4 744.9 L1534.8 744.7 L1536.3 744.5 L1537.8 744.2 L1539.2 744.1 L1540.7 744.2 L1542.2 744.3 L1543.6 744.6 L1545.1 745.1 L1546.6 745.8 L1548.0 746.5 L1549.5 747.4 L1551.0 748.3 L1552.5 749.0 L1553.9 749.4 L1555.4 749.7 L1556.9 750.1 L1558.3 750.6 L1559.8 751.3 L1561.3 752.2 L1562.7 753.1 L1564.2 754.2 L1565.7 755.2 L1567.1 756.2 L1568.6 757.1 L1570.1 757.7 L1571.6 758.1 L1573.0 758.2 L1574.5 758.3 L1576.0 758.5 L1577.4 758.8 L1578.9 759.2 L1580.4 759.7 L1581.8 760.0 L1583.3 760.1 L1584.8 760.1 L1586.2 759.9 L1587.7 759.6 L1589.2 759.2 L1590.7 758.7 L1592.1 758.1 L1593.6 757.4 L1595.1 756.6 L1596.5 755.6 L1598.0 754.6 L1599.5 753.6 L1600.9 752.5 L1602.4 751.7 L1603.9 751.1 L1605.3 750.5 L1606.8 749.8 L1608.3 749.0 L1609.7 748.2 L1611.2 747.5 L1612.7 746.8 L1614.2 746.0 L1615.6 745.2 L1617.1 744.5 L1618.6 744.1 L1620.0 744.0 L1621.5 744.4 L1623.0 745.0 L1624.4 745.9 L1625.9 746.9 L1627.4 747.8 L1628.8 748.7 L1630.3 749.6 L1631.8 750.5 L1633.3 751.4 L1634.7 752.4 L1636.2 753.4 L1637.7 754.1 L1639.1 754.7 L1640.6 755.1 L1642.1 755.3 L1643.5 755.3 L1645.0 755.2 L1646.5 755.1 L1647.9 755.1 L1649.4 755.1 L1650.9 755.2 L1652.3 755.4 L1653.8 755.8 L1655.3 756.6 L1656.8 757.5 L1658.2 758.5 L1659.7 759.3 L1661.2 760.1 L1662.6 760.9 L1664.1 761.6 L1665.6 762.2 L1667.0 762.8 L1668.5 763.5 L1670.0 764.2 L1671.4 764.8 L1672.9 765.2 L1674.4 765.4 L1675.9 765.3 L1677.3 765.1 L1678.8 764.8 L1680.3 764.2 L1681.7 763.4 L1683.2 762.4 L1684.7 761.4 L1686.1 760.5 L1687.6 759.9 L1689.1 759.5 L1690.5 759.3 L1692.0 759.5 L1693.5 760.0 L1694.9 760.6 L1696.4 761.1 L1697.9 761.4 L1699.4 761.4 L1700.8 761.2 L1702.3 760.9 L1703.8 760.4 L1705.2 760.0 L1706.7 759.5 L1708.2 759.0 L1709.6 758.6 L1711.1 758.1 L1712.6 757.7 L1714.0 757.5 L1715.5 757.3 L1717.0 757.1 L1718.5 756.9 L1719.9 756.7 L1721.4 756.4 L1722.9 755.8 L1724.3 755.2 L1725.8 754.3 L1727.3 753.5 L1728.7 752.6 L1730.2 751.6 L1731.7 750.7 L1733.1 749.7 L1734.6 748.7 L1736.1 747.8 L1737.6 746.9 L1739.0 746.3 L1740.5 745.7 L1742.0 745.4 L1743.4 745.1 L1744.9 745.1 L1746.4 745.0 L1747.8 745.0 L1749.3 745.1 L1750.8 745.1 L1752.2 745.1 L1753.7 745.1 L1755.2 745.2 L1756.6 745.1 L1758.1 744.8 L1759.6 744.1 L1761.1 743.4 L1762.5 742.9 L1764.0 742.6 L1765.5 742.3 L1766.9 742.1 L1768.4 741.9 L1769.9 741.7 L1771.3 741.4 L1772.8 741.1 L1774.3 740.7 L1775.7 740.1 L1777.2 739.4 L1778.7 738.6 L1780.2 737.7 L1781.6 737.0 L1783.1 736.2 L1784.6 735.5 L1786.0 734.9 L1787.5 734.6 L1789.0 734.5 L1790.4 734.7 L1791.9 735.1 L1793.4 735.8 L1794.8 736.6 L1796.3 737.4 L1797.8 738.3 L1799.2 739.2 L1800.7 740.0 L1802.2 740.6 L1803.7 741.1 L1805.1 741.5 L1806.6 741.7 L1808.1 741.6 L1809.5 741.3 L1811.0 740.9 L1812.5 740.3 L1813.9 739.6 L1815.4 739.0 L1816.9 738.4 L1818.3 737.8 L1819.8 737.3 L1821.3 737.0 L1822.8 736.8 L1824.2 736.6 L1825.7 736.4 L1827.2 736.3 L1828.6 736.0 L1830.1 735.6 L1831.6 735.0 L1833.0 734.4 L1834.5 734.0 L1836.0 733.7 L1837.4 733.5 L1838.9 733.4 L1840.4 733.4 L1841.8 733.5 L1843.3 733.7 L1844.8 733.9 L1846.3 734.4 L1847.7 735.3 L1849.2 736.4 L1850.7 737.7 L1852.1 739.0 L1853.6 740.4 L1855.1 741.7 L1856.5 743.1 L1858.0 744.3 L1859.5 745.2 L1860.9 745.8 L1862.4 746.3 L1863.9 746.8 L1865.4 747.2 L1866.8 747.5 L1868.3 747.7 L1869.8 747.6 L1871.2 747.1 L1872.7 746.2 L1874.2 745.2 L1875.6 744.1 L1877.1 743.1 L1878.6 742.4 L1880.0 741.8 L1881.5 741.5 L1883.0 741.3 L1884.5 741.0 L1885.9 740.4 L1887.4 739.3 L1888.9 737.8 L1890.3 735.9 L1891.8 733.7 L1893.3 731.6 L1894.7 729.8 L1896.2 728.5 L1897.7 727.6 L1899.1 727.0 L1900.6 726.6 L1902.1 726.3 L1903.5 725.7 L1905.0 724.8 L1906.5 723.6 L1908.0 721.9 L1909.4 719.5 L1910.9 717.0 L1912.4 714.8 L1913.8 712.8 L1915.3 711.3" stroke="#ff6d00" stroke-width="1.1" fill="none" stroke-linejoin="round"/>
<defs><clipPath id="os"><rect x="10" y="624.3" width="1966" height="42"/></clipPath><clipPath id="ob"><rect x="10" y="500" width="1966" height="48.8"/></clipPath></defs>
<path d="M10.0 605.8 L12.1 614.4 L13.8 626.3 L15.1 634.0 L16.5 622.9 L17.7 617.8 L19.4 618.7 L20.6 622.9 L22.3 623.8 L24.0 621.2 L25.7 603.3 L27.1 600.7 L28.5 607.5 L30.2 598.1 L31.9 597.3 L33.1 610.1 L34.8 612.7 L37.3 607.5 L39.9 599.9 L41.6 598.1 L43.3 600.7 L45.0 597.3 L47.6 596.4 L49.7 595.6 L51.9 593.9 L53.6 598.1 L54.8 604.1 L56.1 612.7 L57.9 614.4 L59.6 623.8 L60.9 607.5 L61.6 599.0 L63.3 607.5 L65.5 610.1 L68.1 613.5 L70.2 615.2 L71.9 604.1 L74.1 602.4 L75.8 597.3 L77.5 599.0 L79.2 598.1 L80.9 613.5 L82.6 609.3 L83.8 599.9 L85.2 604.1 L87.3 597.3 L89.0 594.7 L90.3 584.5 L92.0 590.5 L93.7 598.1 L95.5 572.5 L96.5 573.4 L97.5 587.0 L98.9 581.1 L100.6 581.9 L103.1 571.7 L104.9 565.2 L106.6 566.5 L107.8 576.8 L109.1 569.9 L110.5 573.4 L112.2 569.9 L113.4 580.2 L115.1 587.0 L117.7 590.5 L120.2 594.7 L121.9 592.2 L123.1 595.6 L124.2 585.3 L126.2 580.2 L127.6 572.5 L129.6 577.6 L132.7 564.0 L134.4 570.8 L136.5 569.9 L137.8 575.9 L139.0 567.4 L140.2 585.3 L141.9 587.0 L144.2 576.8 L146.7 575.9 L148.8 585.3 L150.1 580.2 L151.9 583.6 L153.6 595.6 L155.3 604.1 L157.3 606.7 L159.0 602.4 L161.3 592.2 L162.5 590.5 L164.7 601.6 L166.4 593.9 L167.6 584.5 L168.9 592.2 L170.3 583.6 L172.4 576.8 L174.9 563.1 L176.6 568.2 L178.3 578.5 L180.1 577.6 L181.3 588.7 L183.0 579.3 L184.3 578.5 L185.7 592.2 L187.7 581.9 L189.5 592.2 L191.5 582.8 L193.7 588.7 L195.4 592.2 L197.1 593.9 L198.9 585.3 L201.4 583.6 L203.1 600.7 L205.2 605.8 L206.5 607.5 L207.9 619.5 L209.6 604.1 L211.7 599.9 L213.7 593.9 L215.9 607.5 L217.7 600.7 L219.4 607.5 L221.1 618.7 L222.8 605.0 L224.5 592.2 L226.7 591.3 L227.9 600.7 L229.6 607.5 L231.3 614.4 L233.0 618.7 L235.3 624.6 L236.5 625.5 L237.7 615.2 L239.0 622.9 L240.7 614.4 L243.3 607.5 L245.0 604.1 L246.7 601.6 L248.4 609.3 L250.1 607.5 L252.7 615.2 L254.7 599.9 L257.0 605.8 L258.7 608.4 L260.4 604.1 L262.6 610.1 L264.7 590.5 L266.4 589.6 L268.1 600.7 L269.4 618.7 L270.8 625.5 L272.3 607.5 L274.6 601.6 L276.6 595.6 L278.3 590.5 L280.0 600.7 L281.7 605.8 L283.5 613.5 L286.0 611.8 L287.7 607.5 L289.4 597.3 L291.1 593.9 L292.9 585.3 L295.1 583.6 L297.1 575.1 L298.8 569.1 L300.5 583.6 L302.3 589.6 L304.0 593.0 L306.5 594.7 L309.1 592.2 L311.7 589.6 L314.2 590.5 L316.8 585.3 L319.0 580.2 L321.1 576.8 L322.8 581.9 L324.1 581.1 L325.3 597.3 L327.0 606.7 L328.2 596.4 L329.9 607.5 L332.2 616.1 L334.4 624.6 L336.8 622.9 L338.1 600.7 L339.5 588.7 L340.7 597.3 L342.4 587.0 L344.1 576.8 L345.8 581.9 L347.5 576.8 L349.3 573.4 L351.8 583.6 L353.5 572.5 L354.9 576.8 L356.1 567.4 L357.8 564.8 L359.5 569.9 L361.7 584.5 L364.3 582.8 L366.0 574.2 L368.2 573.4 L369.4 585.3 L371.1 601.6 L372.8 588.7 L375.4 605.0 L377.9 595.6 L380.5 590.5 L383.9 601.6 L386.5 592.2 L388.2 585.3 L390.4 578.5 L392.5 585.3 L394.2 594.7 L396.2 588.7 L399.0 598.1 L401.0 593.9 L403.6 595.6 L405.8 584.5 L407.9 589.6 L409.9 603.3 L412.1 587.0 L414.7 577.6 L416.7 586.2 L419.0 580.2 L420.7 597.3 L424.1 603.3 L425.3 584.5 L427.5 588.7 L429.2 589.6 L430.9 580.2 L433.5 577.6 L435.2 570.8 L437.3 562.3 L439.0 567.4 L441.2 583.6 L442.9 575.9 L445.5 575.1 L447.5 559.7 L448.9 551.1 L449.9 541.7 L450.9 554.6 L452.3 556.3 L453.1 553.7 L454.9 568.2 L456.1 584.5 L457.8 575.1 L459.5 582.8 L461.7 569.9 L463.4 579.3 L465.6 571.7 L467.7 572.5 L470.2 568.2 L471.9 572.5 L473.7 578.5 L474.9 597.3 L477.1 592.2 L478.3 602.4 L480.5 590.5 L483.1 583.6 L485.6 585.3 L488.2 578.5 L490.2 580.2 L491.9 593.9 L493.3 601.6 L495.0 589.6 L497.6 590.5 L499.8 593.9 L501.5 587.0 L503.6 584.5 L506.1 594.7 L508.4 590.5 L510.4 587.0 L513.0 589.6 L514.7 591.3 L517.2 593.9 L518.9 584.5 L521.0 593.9 L523.2 588.7 L524.9 592.2 L527.2 588.7 L528.3 599.0 L530.9 602.4 L533.0 609.3 L535.2 616.1 L536.9 607.5 L538.6 606.7 L540.8 611.0 L542.5 594.7 L544.6 599.0 L547.1 595.6 L549.4 587.0 L551.4 587.0 L553.1 592.2 L555.7 584.5 L557.9 582.8 L560.0 572.5 L562.0 566.5 L563.7 583.6 L565.9 575.9 L568.2 571.7 L570.2 585.3 L571.9 588.7 L573.6 586.2 L575.0 589.6 L576.7 573.4 L577.9 570.8 L579.6 578.5 L581.8 567.4 L583.9 578.5 L585.9 571.7 L588.2 564.0 L590.4 581.1 L592.1 566.5 L593.8 555.4 L595.5 565.7 L597.2 563.1 L598.4 572.5 L600.6 574.2 L602.7 573.4 L605.3 575.1 L607.5 580.2 L609.5 580.2 L610.9 584.5 L612.6 593.0 L614.3 587.0 L616.0 598.1 L618.1 607.5 L619.8 600.7 L621.2 603.3 L622.3 588.7 L624.6 580.2 L626.6 586.2 L628.7 582.8 L630.4 588.7 L632.1 577.6 L634.3 571.7 L636.5 574.2 L638.9 574.2 L641.1 568.2 L643.7 555.4 L645.8 567.4 L648.0 560.5 L650.2 565.7 L651.4 580.2 L653.1 575.1 L654.8 581.1 L657.0 573.4 L659.1 564.0 L661.1 573.4 L662.9 599.0 L665.1 577.6 L667.6 571.7 L669.7 585.3 L671.9 595.6 L674.1 593.9 L676.2 578.5 L677.9 569.1 L679.6 585.3 L681.7 580.2 L683.9 579.3 L686.1 563.1 L687.3 542.6 L689.0 530.6 L691.1 516.1 L691.9 551.1 L693.6 559.7 L695.8 555.4 L697.5 556.3 L699.3 570.8 L701.0 581.9 L703.5 569.1 L706.1 573.4 L707.8 575.1 L709.5 585.3 L712.6 592.2 L715.1 585.3 L717.7 575.9 L719.4 576.8 L721.1 582.8 L723.7 583.6 L725.7 593.9 L727.9 594.7 L729.7 587.0 L732.2 586.2 L734.8 579.3 L736.5 583.6 L738.2 575.1 L740.4 576.8 L742.1 570.8 L743.8 581.1 L745.0 573.4 L747.3 575.9 L749.7 575.1 L751.9 580.2 L753.6 573.4 L755.8 568.2 L757.0 580.2 L758.7 586.2 L760.9 589.6 L763.3 597.3 L765.5 611.0 L767.3 602.4 L769.0 603.3 L770.7 596.4 L772.4 597.3 L773.6 605.8 L775.8 612.7 L778.0 618.7 L779.7 608.4 L781.8 610.1 L783.8 617.8 L786.1 616.1 L788.3 614.4 L790.0 616.9 L792.0 624.6 L793.7 620.4 L795.1 628.1 L796.8 614.4 L798.5 616.1 L800.6 611.0 L802.3 622.1 L805.4 625.5 L807.1 612.7 L809.1 608.4 L811.2 605.0 L812.9 600.7 L814.6 611.0 L816.8 626.3 L818.5 605.0 L820.2 596.4 L822.8 591.3 L824.9 588.7 L827.6 590.5 L829.3 597.3 L831.7 605.0 L833.9 602.4 L835.6 600.7 L837.3 605.8 L839.0 619.5 L841.9 627.2 L843.7 609.3 L845.9 605.8 L847.6 598.1 L850.1 603.3 L852.7 594.7 L855.3 598.1 L857.3 596.4 L859.5 599.9 L862.1 603.3 L863.8 601.6 L865.9 604.1 L866.9 586.2 L868.9 583.6 L869.8 580.2 L871.5 598.1 L873.2 587.0 L874.9 579.3 L876.6 585.3 L878.3 581.9 L880.1 587.0 L882.6 593.9 L884.3 590.5 L886.0 578.5 L887.4 582.8 L889.1 573.4 L890.8 585.3 L892.9 588.7 L894.9 599.0 L897.1 593.0 L899.4 593.9 L901.4 606.7 L904.0 620.4 L906.2 600.7 L907.9 594.7 L910.8 605.0 L913.0 593.9 L915.1 593.9 L917.1 588.7 L919.4 595.6 L921.6 583.6 L924.5 579.3 L926.2 588.7 L928.4 583.6 L930.5 599.9 L933.0 612.7 L935.3 599.9 L937.3 598.1 L939.9 587.9 L942.4 589.6 L945.0 584.5 L947.6 584.5 L951.0 575.1 L952.7 574.2 L954.7 570.8 L957.0 569.1 L958.2 585.3 L960.4 578.5 L962.9 569.6 L965.0 571.7 L966.7 570.5 L968.4 576.8 L970.1 581.9 L972.3 582.8 L974.6 577.6 L976.6 584.5 L980.0 590.5 L982.6 597.3 L984.8 588.7 L986.9 573.4 L988.2 572.5 L989.4 585.3 L991.7 584.5 L993.7 571.7 L995.4 585.3 L998.0 593.9 L1000.5 591.3 L1003.1 594.7 L1005.3 592.2 L1008.2 577.6 L1010.1 565.2 L1011.7 588.7 L1013.9 601.6 L1015.9 585.3 L1017.6 580.2 L1019.7 585.3 L1021.9 576.8 L1023.1 566.5 L1024.5 574.2 L1026.2 572.5 L1028.2 581.9 L1029.9 582.8 L1031.7 577.6 L1033.9 588.7 L1036.1 586.2 L1037.8 572.5 L1039.0 589.6 L1041.6 595.6 L1043.6 572.5 L1045.3 588.7 L1047.5 589.6 L1050.1 588.7 L1051.8 597.3 L1053.9 587.0 L1056.1 580.2 L1057.8 570.8 L1059.5 569.9 L1061.4 580.2 L1062.6 546.9 L1063.8 544.3 L1065.1 546.0 L1066.5 537.5 L1067.7 541.7 L1068.9 528.9 L1070.3 549.4 L1071.1 567.4 L1072.8 569.1 L1074.0 581.1 L1075.7 575.1 L1077.9 579.3 L1079.7 575.9 L1081.9 573.4 L1083.1 585.3 L1085.3 589.6 L1087.3 592.2 L1089.1 598.1 L1091.6 597.3 L1094.2 594.7 L1096.2 590.5 L1097.9 587.0 L1099.7 596.4 L1101.4 601.6 L1102.7 595.6 L1104.1 604.1 L1105.8 596.4 L1107.9 599.0 L1109.9 595.6 L1112.1 597.3 L1114.3 598.1 L1116.1 607.5 L1117.8 600.7 L1119.8 604.1 L1121.5 609.3 L1124.1 606.7 L1126.7 604.1 L1128.7 606.7 L1130.1 591.3 L1131.8 599.9 L1133.8 604.1 L1135.5 596.4 L1136.9 604.1 L1139.0 611.8 L1141.2 605.8 L1142.9 600.7 L1145.5 592.2 L1147.5 599.0 L1149.7 598.1 L1151.4 594.7 L1153.7 591.3 L1155.4 600.7 L1157.4 602.4 L1159.1 596.4 L1160.8 616.9 L1162.9 618.7 L1164.6 598.1 L1166.8 590.5 L1168.0 599.0 L1170.2 599.0 L1171.9 611.0 L1173.7 620.4 L1175.9 625.5 L1177.6 614.4 L1179.6 622.1 L1182.2 616.1 L1184.4 622.1 L1186.5 628.9 L1188.2 626.3 L1189.9 632.3 L1191.9 635.7 L1193.3 614.4 L1195.0 598.1 L1196.4 603.3 L1198.4 596.4 L1201.0 595.6 L1203.2 599.0 L1205.3 603.3 L1207.3 600.7 L1209.5 602.4 L1211.8 599.0 L1213.8 614.4 L1215.9 602.4 L1218.1 604.1 L1219.8 598.1 L1221.5 605.8 L1223.7 609.3 L1225.8 611.8 L1227.2 622.9 L1228.9 611.0 L1230.6 614.4 L1232.6 625.5 L1234.7 640.9 L1236.9 621.2 L1238.1 612.7 L1239.8 602.4 L1241.2 602.4 L1242.9 591.3 L1244.6 599.9 L1246.3 592.2 L1248.0 593.9 L1250.6 591.3 L1253.5 591.3 L1255.2 609.3 L1257.4 598.1 L1259.1 593.9 L1261.3 594.7 L1263.0 593.0 L1265.1 593.9 L1267.1 587.0 L1269.4 581.1 L1271.1 564.8 L1272.8 541.7 L1274.0 568.2 L1275.7 575.1 L1277.4 578.5 L1279.1 576.8 L1281.3 580.2 L1283.6 585.3 L1285.3 581.9 L1287.3 588.7 L1289.9 593.0 L1292.4 588.7 L1295.0 591.3 L1297.6 595.6 L1299.3 602.4 L1301.3 603.3 L1303.5 609.3 L1306.1 614.4 L1307.8 617.8 L1309.5 603.3 L1311.2 613.5 L1312.9 602.4 L1315.5 602.4 L1318.1 591.3 L1319.8 599.0 L1322.3 600.7 L1324.1 607.5 L1325.8 609.3 L1327.0 618.7 L1329.2 617.8 L1330.9 608.4 L1332.6 621.2 L1334.3 631.5 L1336.5 611.8 L1338.9 607.5 L1340.3 615.2 L1342.9 609.3 L1344.6 602.4 L1346.3 593.0 L1348.0 593.9 L1349.7 605.8 L1351.9 604.1 L1354.3 605.0 L1356.5 612.7 L1358.2 613.5 L1359.9 624.6 L1362.2 635.7 L1363.9 609.3 L1365.1 605.8 L1367.3 614.4 L1369.7 610.1 L1371.9 599.0 L1374.1 589.6 L1375.8 599.0 L1377.6 592.2 L1378.2 605.0 L1379.9 588.7 L1381.7 586.2 L1383.0 594.7 L1384.4 580.2 L1386.1 575.1 L1387.3 592.2 L1389.0 588.7 L1391.2 581.9 L1393.3 587.0 L1395.8 578.5 L1397.5 585.3 L1399.8 579.3 L1401.5 578.5 L1402.3 622.9 L1403.2 652.0 L1404.4 634.9 L1406.1 622.9 L1408.3 622.1 L1409.5 616.1 L1412.1 617.8 L1414.3 624.6 L1416.8 630.6 L1419.4 632.3 L1422.0 631.5 L1424.0 640.0 L1426.7 643.4 L1428.5 631.5 L1430.2 622.1 L1431.9 622.9 L1433.9 617.8 L1436.5 614.4 L1439.1 605.8 L1441.6 597.3 L1443.8 593.0 L1446.2 593.9 L1447.6 587.0 L1449.7 587.9 L1451.9 597.3 L1453.6 595.6 L1454.8 605.8 L1456.5 601.6 L1459.2 593.0 L1461.3 600.7 L1462.1 609.3 L1464.3 599.9 L1466.1 607.5 L1468.5 617.8 L1470.2 604.1 L1471.9 592.2 L1474.1 589.6 L1476.3 588.7 L1478.4 585.3 L1480.1 592.2 L1481.4 580.2 L1483.8 575.9 L1486.1 581.9 L1488.3 577.6 L1490.3 573.4 L1492.4 576.8 L1493.7 569.9 L1495.5 559.7 L1497.2 563.1 L1498.9 548.6 L1500.6 566.5 L1502.0 561.4 L1503.7 576.8 L1505.7 587.9 L1507.8 583.6 L1509.5 587.0 L1511.7 578.5 L1514.3 579.3 L1516.8 580.2 L1518.5 584.5 L1520.8 589.6 L1522.8 585.3 L1524.9 588.7 L1527.1 587.9 L1528.8 580.2 L1531.3 578.5 L1533.4 569.9 L1534.8 566.5 L1536.5 570.8 L1537.8 584.5 L1539.6 581.1 L1541.3 588.7 L1543.0 583.6 L1545.0 593.9 L1547.1 592.2 L1548.8 595.6 L1550.1 599.9 L1551.9 587.0 L1553.6 591.3 L1556.1 595.6 L1558.4 604.1 L1560.4 600.7 L1563.0 609.3 L1565.2 613.5 L1567.2 607.5 L1569.3 595.6 L1571.0 592.2 L1573.2 599.9 L1575.4 605.8 L1577.8 617.8 L1580.1 605.8 L1581.8 599.9 L1584.3 602.4 L1586.4 593.0 L1588.1 583.6 L1589.8 585.3 L1591.5 595.6 L1593.7 578.5 L1596.0 579.3 L1597.7 572.5 L1598.9 568.2 L1600.1 585.3 L1602.3 592.2 L1604.5 590.5 L1606.0 561.4 L1607.4 581.9 L1609.1 573.4 L1611.3 574.2 L1613.4 569.9 L1615.1 564.8 L1616.8 571.7 L1618.5 587.0 L1621.1 599.9 L1622.8 590.5 L1625.0 597.3 L1627.1 593.0 L1628.8 591.3 L1630.8 599.9 L1633.0 606.7 L1635.3 599.9 L1637.0 603.3 L1639.0 593.9 L1641.6 587.0 L1643.8 584.5 L1645.9 591.3 L1647.6 605.8 L1649.6 602.4 L1651.8 593.0 L1653.5 609.3 L1656.1 622.1 L1658.7 605.0 L1660.9 613.5 L1662.9 607.5 L1665.0 616.1 L1667.2 614.4 L1669.4 620.4 L1671.5 608.4 L1674.1 598.1 L1675.8 607.5 L1678.0 597.3 L1680.0 593.0 L1682.1 581.9 L1683.8 597.3 L1685.5 600.7 L1687.2 595.6 L1689.4 607.5 L1691.7 618.7 L1693.7 609.3 L1696.3 611.8 L1698.0 599.0 L1700.2 598.1 L1702.6 588.7 L1704.8 593.0 L1706.5 597.3 L1708.8 589.6 L1710.5 592.2 L1712.5 601.6 L1715.1 598.1 L1717.6 590.5 L1719.7 593.9 L1721.9 582.8 L1724.5 572.5 L1726.2 582.8 L1728.2 574.2 L1730.5 577.6 L1732.2 569.9 L1734.4 571.7 L1736.8 564.8 L1738.5 575.1 L1740.7 581.9 L1742.4 573.4 L1744.6 580.2 L1747.0 583.6 L1749.3 578.5 L1751.8 569.9 L1753.9 582.8 L1756.1 569.9 L1757.8 559.7 L1759.5 564.0 L1760.3 568.2 L1762.9 580.2 L1765.1 575.1 L1766.3 568.2 L1768.5 566.5 L1771.4 562.3 L1773.1 554.6 L1774.9 545.2 L1777.1 546.0 L1779.1 543.5 L1780.8 546.9 L1782.2 537.5 L1784.3 534.4 L1785.1 555.4 L1786.8 556.3 L1788.5 568.2 L1790.2 569.1 L1792.8 581.9 L1794.9 573.4 L1796.2 569.9 L1797.6 584.5 L1799.6 573.4 L1801.7 572.5 L1803.9 576.8 L1805.6 570.8 L1806.8 558.0 L1809.0 556.3 L1810.2 550.3 L1811.9 546.9 L1813.0 568.2 L1815.0 559.7 L1817.6 554.6 L1819.3 572.5 L1821.0 572.5 L1822.2 558.8 L1823.9 562.3 L1825.6 575.1 L1827.8 558.0 L1829.0 553.7 L1830.7 560.5 L1832.1 568.2 L1834.2 564.8 L1836.4 572.5 L1838.1 564.8 L1840.7 570.8 L1843.2 571.7 L1844.9 568.2 L1846.1 574.2 L1847.2 593.0 L1848.3 584.5 L1850.1 593.0 L1852.3 587.0 L1854.3 592.2 L1856.4 599.0 L1858.1 583.6 L1860.3 573.4 L1862.0 581.1 L1863.7 587.0 L1865.4 590.5 L1866.6 581.1 L1868.9 578.5 L1871.1 558.8 L1873.1 567.4 L1875.2 565.7 L1877.4 570.8 L1879.1 574.2 L1881.3 579.3 L1883.4 568.2 L1885.1 554.6 L1886.8 547.7 L1888.2 536.6 L1889.4 544.3 L1891.1 533.7 L1892.8 554.6 L1895.0 569.1 L1897.4 564.0 L1899.6 570.8 L1901.3 561.4 L1903.0 550.3 L1904.7 547.7 L1906.5 546.0 L1909.0 530.3 L1910.4 546.9 L1912.1 546.0 L1913.3 552.9 L1915.5 556.3 L1915.5 624.3 L10 624.3Z" fill="#f23645" fill-opacity="0.2" clip-path="url(#os)"/>
<path d="M10.0 605.8 L12.1 614.4 L13.8 626.3 L15.1 634.0 L16.5 622.9 L17.7 617.8 L19.4 618.7 L20.6 622.9 L22.3 623.8 L24.0 621.2 L25.7 603.3 L27.1 600.7 L28.5 607.5 L30.2 598.1 L31.9 597.3 L33.1 610.1 L34.8 612.7 L37.3 607.5 L39.9 599.9 L41.6 598.1 L43.3 600.7 L45.0 597.3 L47.6 596.4 L49.7 595.6 L51.9 593.9 L53.6 598.1 L54.8 604.1 L56.1 612.7 L57.9 614.4 L59.6 623.8 L60.9 607.5 L61.6 599.0 L63.3 607.5 L65.5 610.1 L68.1 613.5 L70.2 615.2 L71.9 604.1 L74.1 602.4 L75.8 597.3 L77.5 599.0 L79.2 598.1 L80.9 613.5 L82.6 609.3 L83.8 599.9 L85.2 604.1 L87.3 597.3 L89.0 594.7 L90.3 584.5 L92.0 590.5 L93.7 598.1 L95.5 572.5 L96.5 573.4 L97.5 587.0 L98.9 581.1 L100.6 581.9 L103.1 571.7 L104.9 565.2 L106.6 566.5 L107.8 576.8 L109.1 569.9 L110.5 573.4 L112.2 569.9 L113.4 580.2 L115.1 587.0 L117.7 590.5 L120.2 594.7 L121.9 592.2 L123.1 595.6 L124.2 585.3 L126.2 580.2 L127.6 572.5 L129.6 577.6 L132.7 564.0 L134.4 570.8 L136.5 569.9 L137.8 575.9 L139.0 567.4 L140.2 585.3 L141.9 587.0 L144.2 576.8 L146.7 575.9 L148.8 585.3 L150.1 580.2 L151.9 583.6 L153.6 595.6 L155.3 604.1 L157.3 606.7 L159.0 602.4 L161.3 592.2 L162.5 590.5 L164.7 601.6 L166.4 593.9 L167.6 584.5 L168.9 592.2 L170.3 583.6 L172.4 576.8 L174.9 563.1 L176.6 568.2 L178.3 578.5 L180.1 577.6 L181.3 588.7 L183.0 579.3 L184.3 578.5 L185.7 592.2 L187.7 581.9 L189.5 592.2 L191.5 582.8 L193.7 588.7 L195.4 592.2 L197.1 593.9 L198.9 585.3 L201.4 583.6 L203.1 600.7 L205.2 605.8 L206.5 607.5 L207.9 619.5 L209.6 604.1 L211.7 599.9 L213.7 593.9 L215.9 607.5 L217.7 600.7 L219.4 607.5 L221.1 618.7 L222.8 605.0 L224.5 592.2 L226.7 591.3 L227.9 600.7 L229.6 607.5 L231.3 614.4 L233.0 618.7 L235.3 624.6 L236.5 625.5 L237.7 615.2 L239.0 622.9 L240.7 614.4 L243.3 607.5 L245.0 604.1 L246.7 601.6 L248.4 609.3 L250.1 607.5 L252.7 615.2 L254.7 599.9 L257.0 605.8 L258.7 608.4 L260.4 604.1 L262.6 610.1 L264.7 590.5 L266.4 589.6 L268.1 600.7 L269.4 618.7 L270.8 625.5 L272.3 607.5 L274.6 601.6 L276.6 595.6 L278.3 590.5 L280.0 600.7 L281.7 605.8 L283.5 613.5 L286.0 611.8 L287.7 607.5 L289.4 597.3 L291.1 593.9 L292.9 585.3 L295.1 583.6 L297.1 575.1 L298.8 569.1 L300.5 583.6 L302.3 589.6 L304.0 593.0 L306.5 594.7 L309.1 592.2 L311.7 589.6 L314.2 590.5 L316.8 585.3 L319.0 580.2 L321.1 576.8 L322.8 581.9 L324.1 581.1 L325.3 597.3 L327.0 606.7 L328.2 596.4 L329.9 607.5 L332.2 616.1 L334.4 624.6 L336.8 622.9 L338.1 600.7 L339.5 588.7 L340.7 597.3 L342.4 587.0 L344.1 576.8 L345.8 581.9 L347.5 576.8 L349.3 573.4 L351.8 583.6 L353.5 572.5 L354.9 576.8 L356.1 567.4 L357.8 564.8 L359.5 569.9 L361.7 584.5 L364.3 582.8 L366.0 574.2 L368.2 573.4 L369.4 585.3 L371.1 601.6 L372.8 588.7 L375.4 605.0 L377.9 595.6 L380.5 590.5 L383.9 601.6 L386.5 592.2 L388.2 585.3 L390.4 578.5 L392.5 585.3 L394.2 594.7 L396.2 588.7 L399.0 598.1 L401.0 593.9 L403.6 595.6 L405.8 584.5 L407.9 589.6 L409.9 603.3 L412.1 587.0 L414.7 577.6 L416.7 586.2 L419.0 580.2 L420.7 597.3 L424.1 603.3 L425.3 584.5 L427.5 588.7 L429.2 589.6 L430.9 580.2 L433.5 577.6 L435.2 570.8 L437.3 562.3 L439.0 567.4 L441.2 583.6 L442.9 575.9 L445.5 575.1 L447.5 559.7 L448.9 551.1 L449.9 541.7 L450.9 554.6 L452.3 556.3 L453.1 553.7 L454.9 568.2 L456.1 584.5 L457.8 575.1 L459.5 582.8 L461.7 569.9 L463.4 579.3 L465.6 571.7 L467.7 572.5 L470.2 568.2 L471.9 572.5 L473.7 578.5 L474.9 597.3 L477.1 592.2 L478.3 602.4 L480.5 590.5 L483.1 583.6 L485.6 585.3 L488.2 578.5 L490.2 580.2 L491.9 593.9 L493.3 601.6 L495.0 589.6 L497.6 590.5 L499.8 593.9 L501.5 587.0 L503.6 584.5 L506.1 594.7 L508.4 590.5 L510.4 587.0 L513.0 589.6 L514.7 591.3 L517.2 593.9 L518.9 584.5 L521.0 593.9 L523.2 588.7 L524.9 592.2 L527.2 588.7 L528.3 599.0 L530.9 602.4 L533.0 609.3 L535.2 616.1 L536.9 607.5 L538.6 606.7 L540.8 611.0 L542.5 594.7 L544.6 599.0 L547.1 595.6 L549.4 587.0 L551.4 587.0 L553.1 592.2 L555.7 584.5 L557.9 582.8 L560.0 572.5 L562.0 566.5 L563.7 583.6 L565.9 575.9 L568.2 571.7 L570.2 585.3 L571.9 588.7 L573.6 586.2 L575.0 589.6 L576.7 573.4 L577.9 570.8 L579.6 578.5 L581.8 567.4 L583.9 578.5 L585.9 571.7 L588.2 564.0 L590.4 581.1 L592.1 566.5 L593.8 555.4 L595.5 565.7 L597.2 563.1 L598.4 572.5 L600.6 574.2 L602.7 573.4 L605.3 575.1 L607.5 580.2 L609.5 580.2 L610.9 584.5 L612.6 593.0 L614.3 587.0 L616.0 598.1 L618.1 607.5 L619.8 600.7 L621.2 603.3 L622.3 588.7 L624.6 580.2 L626.6 586.2 L628.7 582.8 L630.4 588.7 L632.1 577.6 L634.3 571.7 L636.5 574.2 L638.9 574.2 L641.1 568.2 L643.7 555.4 L645.8 567.4 L648.0 560.5 L650.2 565.7 L651.4 580.2 L653.1 575.1 L654.8 581.1 L657.0 573.4 L659.1 564.0 L661.1 573.4 L662.9 599.0 L665.1 577.6 L667.6 571.7 L669.7 585.3 L671.9 595.6 L674.1 593.9 L676.2 578.5 L677.9 569.1 L679.6 585.3 L681.7 580.2 L683.9 579.3 L686.1 563.1 L687.3 542.6 L689.0 530.6 L691.1 516.1 L691.9 551.1 L693.6 559.7 L695.8 555.4 L697.5 556.3 L699.3 570.8 L701.0 581.9 L703.5 569.1 L706.1 573.4 L707.8 575.1 L709.5 585.3 L712.6 592.2 L715.1 585.3 L717.7 575.9 L719.4 576.8 L721.1 582.8 L723.7 583.6 L725.7 593.9 L727.9 594.7 L729.7 587.0 L732.2 586.2 L734.8 579.3 L736.5 583.6 L738.2 575.1 L740.4 576.8 L742.1 570.8 L743.8 581.1 L745.0 573.4 L747.3 575.9 L749.7 575.1 L751.9 580.2 L753.6 573.4 L755.8 568.2 L757.0 580.2 L758.7 586.2 L760.9 589.6 L763.3 597.3 L765.5 611.0 L767.3 602.4 L769.0 603.3 L770.7 596.4 L772.4 597.3 L773.6 605.8 L775.8 612.7 L778.0 618.7 L779.7 608.4 L781.8 610.1 L783.8 617.8 L786.1 616.1 L788.3 614.4 L790.0 616.9 L792.0 624.6 L793.7 620.4 L795.1 628.1 L796.8 614.4 L798.5 616.1 L800.6 611.0 L802.3 622.1 L805.4 625.5 L807.1 612.7 L809.1 608.4 L811.2 605.0 L812.9 600.7 L814.6 611.0 L816.8 626.3 L818.5 605.0 L820.2 596.4 L822.8 591.3 L824.9 588.7 L827.6 590.5 L829.3 597.3 L831.7 605.0 L833.9 602.4 L835.6 600.7 L837.3 605.8 L839.0 619.5 L841.9 627.2 L843.7 609.3 L845.9 605.8 L847.6 598.1 L850.1 603.3 L852.7 594.7 L855.3 598.1 L857.3 596.4 L859.5 599.9 L862.1 603.3 L863.8 601.6 L865.9 604.1 L866.9 586.2 L868.9 583.6 L869.8 580.2 L871.5 598.1 L873.2 587.0 L874.9 579.3 L876.6 585.3 L878.3 581.9 L880.1 587.0 L882.6 593.9 L884.3 590.5 L886.0 578.5 L887.4 582.8 L889.1 573.4 L890.8 585.3 L892.9 588.7 L894.9 599.0 L897.1 593.0 L899.4 593.9 L901.4 606.7 L904.0 620.4 L906.2 600.7 L907.9 594.7 L910.8 605.0 L913.0 593.9 L915.1 593.9 L917.1 588.7 L919.4 595.6 L921.6 583.6 L924.5 579.3 L926.2 588.7 L928.4 583.6 L930.5 599.9 L933.0 612.7 L935.3 599.9 L937.3 598.1 L939.9 587.9 L942.4 589.6 L945.0 584.5 L947.6 584.5 L951.0 575.1 L952.7 574.2 L954.7 570.8 L957.0 569.1 L958.2 585.3 L960.4 578.5 L962.9 569.6 L965.0 571.7 L966.7 570.5 L968.4 576.8 L970.1 581.9 L972.3 582.8 L974.6 577.6 L976.6 584.5 L980.0 590.5 L982.6 597.3 L984.8 588.7 L986.9 573.4 L988.2 572.5 L989.4 585.3 L991.7 584.5 L993.7 571.7 L995.4 585.3 L998.0 593.9 L1000.5 591.3 L1003.1 594.7 L1005.3 592.2 L1008.2 577.6 L1010.1 565.2 L1011.7 588.7 L1013.9 601.6 L1015.9 585.3 L1017.6 580.2 L1019.7 585.3 L1021.9 576.8 L1023.1 566.5 L1024.5 574.2 L1026.2 572.5 L1028.2 581.9 L1029.9 582.8 L1031.7 577.6 L1033.9 588.7 L1036.1 586.2 L1037.8 572.5 L1039.0 589.6 L1041.6 595.6 L1043.6 572.5 L1045.3 588.7 L1047.5 589.6 L1050.1 588.7 L1051.8 597.3 L1053.9 587.0 L1056.1 580.2 L1057.8 570.8 L1059.5 569.9 L1061.4 580.2 L1062.6 546.9 L1063.8 544.3 L1065.1 546.0 L1066.5 537.5 L1067.7 541.7 L1068.9 528.9 L1070.3 549.4 L1071.1 567.4 L1072.8 569.1 L1074.0 581.1 L1075.7 575.1 L1077.9 579.3 L1079.7 575.9 L1081.9 573.4 L1083.1 585.3 L1085.3 589.6 L1087.3 592.2 L1089.1 598.1 L1091.6 597.3 L1094.2 594.7 L1096.2 590.5 L1097.9 587.0 L1099.7 596.4 L1101.4 601.6 L1102.7 595.6 L1104.1 604.1 L1105.8 596.4 L1107.9 599.0 L1109.9 595.6 L1112.1 597.3 L1114.3 598.1 L1116.1 607.5 L1117.8 600.7 L1119.8 604.1 L1121.5 609.3 L1124.1 606.7 L1126.7 604.1 L1128.7 606.7 L1130.1 591.3 L1131.8 599.9 L1133.8 604.1 L1135.5 596.4 L1136.9 604.1 L1139.0 611.8 L1141.2 605.8 L1142.9 600.7 L1145.5 592.2 L1147.5 599.0 L1149.7 598.1 L1151.4 594.7 L1153.7 591.3 L1155.4 600.7 L1157.4 602.4 L1159.1 596.4 L1160.8 616.9 L1162.9 618.7 L1164.6 598.1 L1166.8 590.5 L1168.0 599.0 L1170.2 599.0 L1171.9 611.0 L1173.7 620.4 L1175.9 625.5 L1177.6 614.4 L1179.6 622.1 L1182.2 616.1 L1184.4 622.1 L1186.5 628.9 L1188.2 626.3 L1189.9 632.3 L1191.9 635.7 L1193.3 614.4 L1195.0 598.1 L1196.4 603.3 L1198.4 596.4 L1201.0 595.6 L1203.2 599.0 L1205.3 603.3 L1207.3 600.7 L1209.5 602.4 L1211.8 599.0 L1213.8 614.4 L1215.9 602.4 L1218.1 604.1 L1219.8 598.1 L1221.5 605.8 L1223.7 609.3 L1225.8 611.8 L1227.2 622.9 L1228.9 611.0 L1230.6 614.4 L1232.6 625.5 L1234.7 640.9 L1236.9 621.2 L1238.1 612.7 L1239.8 602.4 L1241.2 602.4 L1242.9 591.3 L1244.6 599.9 L1246.3 592.2 L1248.0 593.9 L1250.6 591.3 L1253.5 591.3 L1255.2 609.3 L1257.4 598.1 L1259.1 593.9 L1261.3 594.7 L1263.0 593.0 L1265.1 593.9 L1267.1 587.0 L1269.4 581.1 L1271.1 564.8 L1272.8 541.7 L1274.0 568.2 L1275.7 575.1 L1277.4 578.5 L1279.1 576.8 L1281.3 580.2 L1283.6 585.3 L1285.3 581.9 L1287.3 588.7 L1289.9 593.0 L1292.4 588.7 L1295.0 591.3 L1297.6 595.6 L1299.3 602.4 L1301.3 603.3 L1303.5 609.3 L1306.1 614.4 L1307.8 617.8 L1309.5 603.3 L1311.2 613.5 L1312.9 602.4 L1315.5 602.4 L1318.1 591.3 L1319.8 599.0 L1322.3 600.7 L1324.1 607.5 L1325.8 609.3 L1327.0 618.7 L1329.2 617.8 L1330.9 608.4 L1332.6 621.2 L1334.3 631.5 L1336.5 611.8 L1338.9 607.5 L1340.3 615.2 L1342.9 609.3 L1344.6 602.4 L1346.3 593.0 L1348.0 593.9 L1349.7 605.8 L1351.9 604.1 L1354.3 605.0 L1356.5 612.7 L1358.2 613.5 L1359.9 624.6 L1362.2 635.7 L1363.9 609.3 L1365.1 605.8 L1367.3 614.4 L1369.7 610.1 L1371.9 599.0 L1374.1 589.6 L1375.8 599.0 L1377.6 592.2 L1378.2 605.0 L1379.9 588.7 L1381.7 586.2 L1383.0 594.7 L1384.4 580.2 L1386.1 575.1 L1387.3 592.2 L1389.0 588.7 L1391.2 581.9 L1393.3 587.0 L1395.8 578.5 L1397.5 585.3 L1399.8 579.3 L1401.5 578.5 L1402.3 622.9 L1403.2 652.0 L1404.4 634.9 L1406.1 622.9 L1408.3 622.1 L1409.5 616.1 L1412.1 617.8 L1414.3 624.6 L1416.8 630.6 L1419.4 632.3 L1422.0 631.5 L1424.0 640.0 L1426.7 643.4 L1428.5 631.5 L1430.2 622.1 L1431.9 622.9 L1433.9 617.8 L1436.5 614.4 L1439.1 605.8 L1441.6 597.3 L1443.8 593.0 L1446.2 593.9 L1447.6 587.0 L1449.7 587.9 L1451.9 597.3 L1453.6 595.6 L1454.8 605.8 L1456.5 601.6 L1459.2 593.0 L1461.3 600.7 L1462.1 609.3 L1464.3 599.9 L1466.1 607.5 L1468.5 617.8 L1470.2 604.1 L1471.9 592.2 L1474.1 589.6 L1476.3 588.7 L1478.4 585.3 L1480.1 592.2 L1481.4 580.2 L1483.8 575.9 L1486.1 581.9 L1488.3 577.6 L1490.3 573.4 L1492.4 576.8 L1493.7 569.9 L1495.5 559.7 L1497.2 563.1 L1498.9 548.6 L1500.6 566.5 L1502.0 561.4 L1503.7 576.8 L1505.7 587.9 L1507.8 583.6 L1509.5 587.0 L1511.7 578.5 L1514.3 579.3 L1516.8 580.2 L1518.5 584.5 L1520.8 589.6 L1522.8 585.3 L1524.9 588.7 L1527.1 587.9 L1528.8 580.2 L1531.3 578.5 L1533.4 569.9 L1534.8 566.5 L1536.5 570.8 L1537.8 584.5 L1539.6 581.1 L1541.3 588.7 L1543.0 583.6 L1545.0 593.9 L1547.1 592.2 L1548.8 595.6 L1550.1 599.9 L1551.9 587.0 L1553.6 591.3 L1556.1 595.6 L1558.4 604.1 L1560.4 600.7 L1563.0 609.3 L1565.2 613.5 L1567.2 607.5 L1569.3 595.6 L1571.0 592.2 L1573.2 599.9 L1575.4 605.8 L1577.8 617.8 L1580.1 605.8 L1581.8 599.9 L1584.3 602.4 L1586.4 593.0 L1588.1 583.6 L1589.8 585.3 L1591.5 595.6 L1593.7 578.5 L1596.0 579.3 L1597.7 572.5 L1598.9 568.2 L1600.1 585.3 L1602.3 592.2 L1604.5 590.5 L1606.0 561.4 L1607.4 581.9 L1609.1 573.4 L1611.3 574.2 L1613.4 569.9 L1615.1 564.8 L1616.8 571.7 L1618.5 587.0 L1621.1 599.9 L1622.8 590.5 L1625.0 597.3 L1627.1 593.0 L1628.8 591.3 L1630.8 599.9 L1633.0 606.7 L1635.3 599.9 L1637.0 603.3 L1639.0 593.9 L1641.6 587.0 L1643.8 584.5 L1645.9 591.3 L1647.6 605.8 L1649.6 602.4 L1651.8 593.0 L1653.5 609.3 L1656.1 622.1 L1658.7 605.0 L1660.9 613.5 L1662.9 607.5 L1665.0 616.1 L1667.2 614.4 L1669.4 620.4 L1671.5 608.4 L1674.1 598.1 L1675.8 607.5 L1678.0 597.3 L1680.0 593.0 L1682.1 581.9 L1683.8 597.3 L1685.5 600.7 L1687.2 595.6 L1689.4 607.5 L1691.7 618.7 L1693.7 609.3 L1696.3 611.8 L1698.0 599.0 L1700.2 598.1 L1702.6 588.7 L1704.8 593.0 L1706.5 597.3 L1708.8 589.6 L1710.5 592.2 L1712.5 601.6 L1715.1 598.1 L1717.6 590.5 L1719.7 593.9 L1721.9 582.8 L1724.5 572.5 L1726.2 582.8 L1728.2 574.2 L1730.5 577.6 L1732.2 569.9 L1734.4 571.7 L1736.8 564.8 L1738.5 575.1 L1740.7 581.9 L1742.4 573.4 L1744.6 580.2 L1747.0 583.6 L1749.3 578.5 L1751.8 569.9 L1753.9 582.8 L1756.1 569.9 L1757.8 559.7 L1759.5 564.0 L1760.3 568.2 L1762.9 580.2 L1765.1 575.1 L1766.3 568.2 L1768.5 566.5 L1771.4 562.3 L1773.1 554.6 L1774.9 545.2 L1777.1 546.0 L1779.1 543.5 L1780.8 546.9 L1782.2 537.5 L1784.3 534.4 L1785.1 555.4 L1786.8 556.3 L1788.5 568.2 L1790.2 569.1 L1792.8 581.9 L1794.9 573.4 L1796.2 569.9 L1797.6 584.5 L1799.6 573.4 L1801.7 572.5 L1803.9 576.8 L1805.6 570.8 L1806.8 558.0 L1809.0 556.3 L1810.2 550.3 L1811.9 546.9 L1813.0 568.2 L1815.0 559.7 L1817.6 554.6 L1819.3 572.5 L1821.0 572.5 L1822.2 558.8 L1823.9 562.3 L1825.6 575.1 L1827.8 558.0 L1829.0 553.7 L1830.7 560.5 L1832.1 568.2 L1834.2 564.8 L1836.4 572.5 L1838.1 564.8 L1840.7 570.8 L1843.2 571.7 L1844.9 568.2 L1846.1 574.2 L1847.2 593.0 L1848.3 584.5 L1850.1 593.0 L1852.3 587.0 L1854.3 592.2 L1856.4 599.0 L1858.1 583.6 L1860.3 573.4 L1862.0 581.1 L1863.7 587.0 L1865.4 590.5 L1866.6 581.1 L1868.9 578.5 L1871.1 558.8 L1873.1 567.4 L1875.2 565.7 L1877.4 570.8 L1879.1 574.2 L1881.3 579.3 L1883.4 568.2 L1885.1 554.6 L1886.8 547.7 L1888.2 536.6 L1889.4 544.3 L1891.1 533.7 L1892.8 554.6 L1895.0 569.1 L1897.4 564.0 L1899.6 570.8 L1901.3 561.4 L1903.0 550.3 L1904.7 547.7 L1906.5 546.0 L1909.0 530.3 L1910.4 546.9 L1912.1 546.0 L1913.3 552.9 L1915.5 556.3 L1915.5 548.8 L10 548.8Z" fill="#089981" fill-opacity="0.22" clip-path="url(#ob)"/>
<path d="M10.0 605.8 L12.1 614.4 L13.8 626.3 L15.1 634.0 L16.5 622.9 L17.7 617.8 L19.4 618.7 L20.6 622.9 L22.3 623.8 L24.0 621.2 L25.7 603.3 L27.1 600.7 L28.5 607.5 L30.2 598.1 L31.9 597.3 L33.1 610.1 L34.8 612.7 L37.3 607.5 L39.9 599.9 L41.6 598.1 L43.3 600.7 L45.0 597.3 L47.6 596.4 L49.7 595.6 L51.9 593.9 L53.6 598.1 L54.8 604.1 L56.1 612.7 L57.9 614.4 L59.6 623.8 L60.9 607.5 L61.6 599.0 L63.3 607.5 L65.5 610.1 L68.1 613.5 L70.2 615.2 L71.9 604.1 L74.1 602.4 L75.8 597.3 L77.5 599.0 L79.2 598.1 L80.9 613.5 L82.6 609.3 L83.8 599.9 L85.2 604.1 L87.3 597.3 L89.0 594.7 L90.3 584.5 L92.0 590.5 L93.7 598.1 L95.5 572.5 L96.5 573.4 L97.5 587.0 L98.9 581.1 L100.6 581.9 L103.1 571.7 L104.9 565.2 L106.6 566.5 L107.8 576.8 L109.1 569.9 L110.5 573.4 L112.2 569.9 L113.4 580.2 L115.1 587.0 L117.7 590.5 L120.2 594.7 L121.9 592.2 L123.1 595.6 L124.2 585.3 L126.2 580.2 L127.6 572.5 L129.6 577.6 L132.7 564.0 L134.4 570.8 L136.5 569.9 L137.8 575.9 L139.0 567.4 L140.2 585.3 L141.9 587.0 L144.2 576.8 L146.7 575.9 L148.8 585.3 L150.1 580.2 L151.9 583.6 L153.6 595.6 L155.3 604.1 L157.3 606.7 L159.0 602.4 L161.3 592.2 L162.5 590.5 L164.7 601.6 L166.4 593.9 L167.6 584.5 L168.9 592.2 L170.3 583.6 L172.4 576.8 L174.9 563.1 L176.6 568.2 L178.3 578.5 L180.1 577.6 L181.3 588.7 L183.0 579.3 L184.3 578.5 L185.7 592.2 L187.7 581.9 L189.5 592.2 L191.5 582.8 L193.7 588.7 L195.4 592.2 L197.1 593.9 L198.9 585.3 L201.4 583.6 L203.1 600.7 L205.2 605.8 L206.5 607.5 L207.9 619.5 L209.6 604.1 L211.7 599.9 L213.7 593.9 L215.9 607.5 L217.7 600.7 L219.4 607.5 L221.1 618.7 L222.8 605.0 L224.5 592.2 L226.7 591.3 L227.9 600.7 L229.6 607.5 L231.3 614.4 L233.0 618.7 L235.3 624.6 L236.5 625.5 L237.7 615.2 L239.0 622.9 L240.7 614.4 L243.3 607.5 L245.0 604.1 L246.7 601.6 L248.4 609.3 L250.1 607.5 L252.7 615.2 L254.7 599.9 L257.0 605.8 L258.7 608.4 L260.4 604.1 L262.6 610.1 L264.7 590.5 L266.4 589.6 L268.1 600.7 L269.4 618.7 L270.8 625.5 L272.3 607.5 L274.6 601.6 L276.6 595.6 L278.3 590.5 L280.0 600.7 L281.7 605.8 L283.5 613.5 L286.0 611.8 L287.7 607.5 L289.4 597.3 L291.1 593.9 L292.9 585.3 L295.1 583.6 L297.1 575.1 L298.8 569.1 L300.5 583.6 L302.3 589.6 L304.0 593.0 L306.5 594.7 L309.1 592.2 L311.7 589.6 L314.2 590.5 L316.8 585.3 L319.0 580.2 L321.1 576.8 L322.8 581.9 L324.1 581.1 L325.3 597.3 L327.0 606.7 L328.2 596.4 L329.9 607.5 L332.2 616.1 L334.4 624.6 L336.8 622.9 L338.1 600.7 L339.5 588.7 L340.7 597.3 L342.4 587.0 L344.1 576.8 L345.8 581.9 L347.5 576.8 L349.3 573.4 L351.8 583.6 L353.5 572.5 L354.9 576.8 L356.1 567.4 L357.8 564.8 L359.5 569.9 L361.7 584.5 L364.3 582.8 L366.0 574.2 L368.2 573.4 L369.4 585.3 L371.1 601.6 L372.8 588.7 L375.4 605.0 L377.9 595.6 L380.5 590.5 L383.9 601.6 L386.5 592.2 L388.2 585.3 L390.4 578.5 L392.5 585.3 L394.2 594.7 L396.2 588.7 L399.0 598.1 L401.0 593.9 L403.6 595.6 L405.8 584.5 L407.9 589.6 L409.9 603.3 L412.1 587.0 L414.7 577.6 L416.7 586.2 L419.0 580.2 L420.7 597.3 L424.1 603.3 L425.3 584.5 L427.5 588.7 L429.2 589.6 L430.9 580.2 L433.5 577.6 L435.2 570.8 L437.3 562.3 L439.0 567.4 L441.2 583.6 L442.9 575.9 L445.5 575.1 L447.5 559.7 L448.9 551.1 L449.9 541.7 L450.9 554.6 L452.3 556.3 L453.1 553.7 L454.9 568.2 L456.1 584.5 L457.8 575.1 L459.5 582.8 L461.7 569.9 L463.4 579.3 L465.6 571.7 L467.7 572.5 L470.2 568.2 L471.9 572.5 L473.7 578.5 L474.9 597.3 L477.1 592.2 L478.3 602.4 L480.5 590.5 L483.1 583.6 L485.6 585.3 L488.2 578.5 L490.2 580.2 L491.9 593.9 L493.3 601.6 L495.0 589.6 L497.6 590.5 L499.8 593.9 L501.5 587.0 L503.6 584.5 L506.1 594.7 L508.4 590.5 L510.4 587.0 L513.0 589.6 L514.7 591.3 L517.2 593.9 L518.9 584.5 L521.0 593.9 L523.2 588.7 L524.9 592.2 L527.2 588.7 L528.3 599.0 L530.9 602.4 L533.0 609.3 L535.2 616.1 L536.9 607.5 L538.6 606.7 L540.8 611.0 L542.5 594.7 L544.6 599.0 L547.1 595.6 L549.4 587.0 L551.4 587.0 L553.1 592.2 L555.7 584.5 L557.9 582.8 L560.0 572.5 L562.0 566.5 L563.7 583.6 L565.9 575.9 L568.2 571.7 L570.2 585.3 L571.9 588.7 L573.6 586.2 L575.0 589.6 L576.7 573.4 L577.9 570.8 L579.6 578.5 L581.8 567.4 L583.9 578.5 L585.9 571.7 L588.2 564.0 L590.4 581.1 L592.1 566.5 L593.8 555.4 L595.5 565.7 L597.2 563.1 L598.4 572.5 L600.6 574.2 L602.7 573.4 L605.3 575.1 L607.5 580.2 L609.5 580.2 L610.9 584.5 L612.6 593.0 L614.3 587.0 L616.0 598.1 L618.1 607.5 L619.8 600.7 L621.2 603.3 L622.3 588.7 L624.6 580.2 L626.6 586.2 L628.7 582.8 L630.4 588.7 L632.1 577.6 L634.3 571.7 L636.5 574.2 L638.9 574.2 L641.1 568.2 L643.7 555.4 L645.8 567.4 L648.0 560.5 L650.2 565.7 L651.4 580.2 L653.1 575.1 L654.8 581.1 L657.0 573.4 L659.1 564.0 L661.1 573.4 L662.9 599.0 L665.1 577.6 L667.6 571.7 L669.7 585.3 L671.9 595.6 L674.1 593.9 L676.2 578.5 L677.9 569.1 L679.6 585.3 L681.7 580.2 L683.9 579.3 L686.1 563.1 L687.3 542.6 L689.0 530.6 L691.1 516.1 L691.9 551.1 L693.6 559.7 L695.8 555.4 L697.5 556.3 L699.3 570.8 L701.0 581.9 L703.5 569.1 L706.1 573.4 L707.8 575.1 L709.5 585.3 L712.6 592.2 L715.1 585.3 L717.7 575.9 L719.4 576.8 L721.1 582.8 L723.7 583.6 L725.7 593.9 L727.9 594.7 L729.7 587.0 L732.2 586.2 L734.8 579.3 L736.5 583.6 L738.2 575.1 L740.4 576.8 L742.1 570.8 L743.8 581.1 L745.0 573.4 L747.3 575.9 L749.7 575.1 L751.9 580.2 L753.6 573.4 L755.8 568.2 L757.0 580.2 L758.7 586.2 L760.9 589.6 L763.3 597.3 L765.5 611.0 L767.3 602.4 L769.0 603.3 L770.7 596.4 L772.4 597.3 L773.6 605.8 L775.8 612.7 L778.0 618.7 L779.7 608.4 L781.8 610.1 L783.8 617.8 L786.1 616.1 L788.3 614.4 L790.0 616.9 L792.0 624.6 L793.7 620.4 L795.1 628.1 L796.8 614.4 L798.5 616.1 L800.6 611.0 L802.3 622.1 L805.4 625.5 L807.1 612.7 L809.1 608.4 L811.2 605.0 L812.9 600.7 L814.6 611.0 L816.8 626.3 L818.5 605.0 L820.2 596.4 L822.8 591.3 L824.9 588.7 L827.6 590.5 L829.3 597.3 L831.7 605.0 L833.9 602.4 L835.6 600.7 L837.3 605.8 L839.0 619.5 L841.9 627.2 L843.7 609.3 L845.9 605.8 L847.6 598.1 L850.1 603.3 L852.7 594.7 L855.3 598.1 L857.3 596.4 L859.5 599.9 L862.1 603.3 L863.8 601.6 L865.9 604.1 L866.9 586.2 L868.9 583.6 L869.8 580.2 L871.5 598.1 L873.2 587.0 L874.9 579.3 L876.6 585.3 L878.3 581.9 L880.1 587.0 L882.6 593.9 L884.3 590.5 L886.0 578.5 L887.4 582.8 L889.1 573.4 L890.8 585.3 L892.9 588.7 L894.9 599.0 L897.1 593.0 L899.4 593.9 L901.4 606.7 L904.0 620.4 L906.2 600.7 L907.9 594.7 L910.8 605.0 L913.0 593.9 L915.1 593.9 L917.1 588.7 L919.4 595.6 L921.6 583.6 L924.5 579.3 L926.2 588.7 L928.4 583.6 L930.5 599.9 L933.0 612.7 L935.3 599.9 L937.3 598.1 L939.9 587.9 L942.4 589.6 L945.0 584.5 L947.6 584.5 L951.0 575.1 L952.7 574.2 L954.7 570.8 L957.0 569.1 L958.2 585.3 L960.4 578.5 L962.9 569.6 L965.0 571.7 L966.7 570.5 L968.4 576.8 L970.1 581.9 L972.3 582.8 L974.6 577.6 L976.6 584.5 L980.0 590.5 L982.6 597.3 L984.8 588.7 L986.9 573.4 L988.2 572.5 L989.4 585.3 L991.7 584.5 L993.7 571.7 L995.4 585.3 L998.0 593.9 L1000.5 591.3 L1003.1 594.7 L1005.3 592.2 L1008.2 577.6 L1010.1 565.2 L1011.7 588.7 L1013.9 601.6 L1015.9 585.3 L1017.6 580.2 L1019.7 585.3 L1021.9 576.8 L1023.1 566.5 L1024.5 574.2 L1026.2 572.5 L1028.2 581.9 L1029.9 582.8 L1031.7 577.6 L1033.9 588.7 L1036.1 586.2 L1037.8 572.5 L1039.0 589.6 L1041.6 595.6 L1043.6 572.5 L1045.3 588.7 L1047.5 589.6 L1050.1 588.7 L1051.8 597.3 L1053.9 587.0 L1056.1 580.2 L1057.8 570.8 L1059.5 569.9 L1061.4 580.2 L1062.6 546.9 L1063.8 544.3 L1065.1 546.0 L1066.5 537.5 L1067.7 541.7 L1068.9 528.9 L1070.3 549.4 L1071.1 567.4 L1072.8 569.1 L1074.0 581.1 L1075.7 575.1 L1077.9 579.3 L1079.7 575.9 L1081.9 573.4 L1083.1 585.3 L1085.3 589.6 L1087.3 592.2 L1089.1 598.1 L1091.6 597.3 L1094.2 594.7 L1096.2 590.5 L1097.9 587.0 L1099.7 596.4 L1101.4 601.6 L1102.7 595.6 L1104.1 604.1 L1105.8 596.4 L1107.9 599.0 L1109.9 595.6 L1112.1 597.3 L1114.3 598.1 L1116.1 607.5 L1117.8 600.7 L1119.8 604.1 L1121.5 609.3 L1124.1 606.7 L1126.7 604.1 L1128.7 606.7 L1130.1 591.3 L1131.8 599.9 L1133.8 604.1 L1135.5 596.4 L1136.9 604.1 L1139.0 611.8 L1141.2 605.8 L1142.9 600.7 L1145.5 592.2 L1147.5 599.0 L1149.7 598.1 L1151.4 594.7 L1153.7 591.3 L1155.4 600.7 L1157.4 602.4 L1159.1 596.4 L1160.8 616.9 L1162.9 618.7 L1164.6 598.1 L1166.8 590.5 L1168.0 599.0 L1170.2 599.0 L1171.9 611.0 L1173.7 620.4 L1175.9 625.5 L1177.6 614.4 L1179.6 622.1 L1182.2 616.1 L1184.4 622.1 L1186.5 628.9 L1188.2 626.3 L1189.9 632.3 L1191.9 635.7 L1193.3 614.4 L1195.0 598.1 L1196.4 603.3 L1198.4 596.4 L1201.0 595.6 L1203.2 599.0 L1205.3 603.3 L1207.3 600.7 L1209.5 602.4 L1211.8 599.0 L1213.8 614.4 L1215.9 602.4 L1218.1 604.1 L1219.8 598.1 L1221.5 605.8 L1223.7 609.3 L1225.8 611.8 L1227.2 622.9 L1228.9 611.0 L1230.6 614.4 L1232.6 625.5 L1234.7 640.9 L1236.9 621.2 L1238.1 612.7 L1239.8 602.4 L1241.2 602.4 L1242.9 591.3 L1244.6 599.9 L1246.3 592.2 L1248.0 593.9 L1250.6 591.3 L1253.5 591.3 L1255.2 609.3 L1257.4 598.1 L1259.1 593.9 L1261.3 594.7 L1263.0 593.0 L1265.1 593.9 L1267.1 587.0 L1269.4 581.1 L1271.1 564.8 L1272.8 541.7 L1274.0 568.2 L1275.7 575.1 L1277.4 578.5 L1279.1 576.8 L1281.3 580.2 L1283.6 585.3 L1285.3 581.9 L1287.3 588.7 L1289.9 593.0 L1292.4 588.7 L1295.0 591.3 L1297.6 595.6 L1299.3 602.4 L1301.3 603.3 L1303.5 609.3 L1306.1 614.4 L1307.8 617.8 L1309.5 603.3 L1311.2 613.5 L1312.9 602.4 L1315.5 602.4 L1318.1 591.3 L1319.8 599.0 L1322.3 600.7 L1324.1 607.5 L1325.8 609.3 L1327.0 618.7 L1329.2 617.8 L1330.9 608.4 L1332.6 621.2 L1334.3 631.5 L1336.5 611.8 L1338.9 607.5 L1340.3 615.2 L1342.9 609.3 L1344.6 602.4 L1346.3 593.0 L1348.0 593.9 L1349.7 605.8 L1351.9 604.1 L1354.3 605.0 L1356.5 612.7 L1358.2 613.5 L1359.9 624.6 L1362.2 635.7 L1363.9 609.3 L1365.1 605.8 L1367.3 614.4 L1369.7 610.1 L1371.9 599.0 L1374.1 589.6 L1375.8 599.0 L1377.6 592.2 L1378.2 605.0 L1379.9 588.7 L1381.7 586.2 L1383.0 594.7 L1384.4 580.2 L1386.1 575.1 L1387.3 592.2 L1389.0 588.7 L1391.2 581.9 L1393.3 587.0 L1395.8 578.5 L1397.5 585.3 L1399.8 579.3 L1401.5 578.5 L1402.3 622.9 L1403.2 652.0 L1404.4 634.9 L1406.1 622.9 L1408.3 622.1 L1409.5 616.1 L1412.1 617.8 L1414.3 624.6 L1416.8 630.6 L1419.4 632.3 L1422.0 631.5 L1424.0 640.0 L1426.7 643.4 L1428.5 631.5 L1430.2 622.1 L1431.9 622.9 L1433.9 617.8 L1436.5 614.4 L1439.1 605.8 L1441.6 597.3 L1443.8 593.0 L1446.2 593.9 L1447.6 587.0 L1449.7 587.9 L1451.9 597.3 L1453.6 595.6 L1454.8 605.8 L1456.5 601.6 L1459.2 593.0 L1461.3 600.7 L1462.1 609.3 L1464.3 599.9 L1466.1 607.5 L1468.5 617.8 L1470.2 604.1 L1471.9 592.2 L1474.1 589.6 L1476.3 588.7 L1478.4 585.3 L1480.1 592.2 L1481.4 580.2 L1483.8 575.9 L1486.1 581.9 L1488.3 577.6 L1490.3 573.4 L1492.4 576.8 L1493.7 569.9 L1495.5 559.7 L1497.2 563.1 L1498.9 548.6 L1500.6 566.5 L1502.0 561.4 L1503.7 576.8 L1505.7 587.9 L1507.8 583.6 L1509.5 587.0 L1511.7 578.5 L1514.3 579.3 L1516.8 580.2 L1518.5 584.5 L1520.8 589.6 L1522.8 585.3 L1524.9 588.7 L1527.1 587.9 L1528.8 580.2 L1531.3 578.5 L1533.4 569.9 L1534.8 566.5 L1536.5 570.8 L1537.8 584.5 L1539.6 581.1 L1541.3 588.7 L1543.0 583.6 L1545.0 593.9 L1547.1 592.2 L1548.8 595.6 L1550.1 599.9 L1551.9 587.0 L1553.6 591.3 L1556.1 595.6 L1558.4 604.1 L1560.4 600.7 L1563.0 609.3 L1565.2 613.5 L1567.2 607.5 L1569.3 595.6 L1571.0 592.2 L1573.2 599.9 L1575.4 605.8 L1577.8 617.8 L1580.1 605.8 L1581.8 599.9 L1584.3 602.4 L1586.4 593.0 L1588.1 583.6 L1589.8 585.3 L1591.5 595.6 L1593.7 578.5 L1596.0 579.3 L1597.7 572.5 L1598.9 568.2 L1600.1 585.3 L1602.3 592.2 L1604.5 590.5 L1606.0 561.4 L1607.4 581.9 L1609.1 573.4 L1611.3 574.2 L1613.4 569.9 L1615.1 564.8 L1616.8 571.7 L1618.5 587.0 L1621.1 599.9 L1622.8 590.5 L1625.0 597.3 L1627.1 593.0 L1628.8 591.3 L1630.8 599.9 L1633.0 606.7 L1635.3 599.9 L1637.0 603.3 L1639.0 593.9 L1641.6 587.0 L1643.8 584.5 L1645.9 591.3 L1647.6 605.8 L1649.6 602.4 L1651.8 593.0 L1653.5 609.3 L1656.1 622.1 L1658.7 605.0 L1660.9 613.5 L1662.9 607.5 L1665.0 616.1 L1667.2 614.4 L1669.4 620.4 L1671.5 608.4 L1674.1 598.1 L1675.8 607.5 L1678.0 597.3 L1680.0 593.0 L1682.1 581.9 L1683.8 597.3 L1685.5 600.7 L1687.2 595.6 L1689.4 607.5 L1691.7 618.7 L1693.7 609.3 L1696.3 611.8 L1698.0 599.0 L1700.2 598.1 L1702.6 588.7 L1704.8 593.0 L1706.5 597.3 L1708.8 589.6 L1710.5 592.2 L1712.5 601.6 L1715.1 598.1 L1717.6 590.5 L1719.7 593.9 L1721.9 582.8 L1724.5 572.5 L1726.2 582.8 L1728.2 574.2 L1730.5 577.6 L1732.2 569.9 L1734.4 571.7 L1736.8 564.8 L1738.5 575.1 L1740.7 581.9 L1742.4 573.4 L1744.6 580.2 L1747.0 583.6 L1749.3 578.5 L1751.8 569.9 L1753.9 582.8 L1756.1 569.9 L1757.8 559.7 L1759.5 564.0 L1760.3 568.2 L1762.9 580.2 L1765.1 575.1 L1766.3 568.2 L1768.5 566.5 L1771.4 562.3 L1773.1 554.6 L1774.9 545.2 L1777.1 546.0 L1779.1 543.5 L1780.8 546.9 L1782.2 537.5 L1784.3 534.4 L1785.1 555.4 L1786.8 556.3 L1788.5 568.2 L1790.2 569.1 L1792.8 581.9 L1794.9 573.4 L1796.2 569.9 L1797.6 584.5 L1799.6 573.4 L1801.7 572.5 L1803.9 576.8 L1805.6 570.8 L1806.8 558.0 L1809.0 556.3 L1810.2 550.3 L1811.9 546.9 L1813.0 568.2 L1815.0 559.7 L1817.6 554.6 L1819.3 572.5 L1821.0 572.5 L1822.2 558.8 L1823.9 562.3 L1825.6 575.1 L1827.8 558.0 L1829.0 553.7 L1830.7 560.5 L1832.1 568.2 L1834.2 564.8 L1836.4 572.5 L1838.1 564.8 L1840.7 570.8 L1843.2 571.7 L1844.9 568.2 L1846.1 574.2 L1847.2 593.0 L1848.3 584.5 L1850.1 593.0 L1852.3 587.0 L1854.3 592.2 L1856.4 599.0 L1858.1 583.6 L1860.3 573.4 L1862.0 581.1 L1863.7 587.0 L1865.4 590.5 L1866.6 581.1 L1868.9 578.5 L1871.1 558.8 L1873.1 567.4 L1875.2 565.7 L1877.4 570.8 L1879.1 574.2 L1881.3 579.3 L1883.4 568.2 L1885.1 554.6 L1886.8 547.7 L1888.2 536.6 L1889.4 544.3 L1891.1 533.7 L1892.8 554.6 L1895.0 569.1 L1897.4 564.0 L1899.6 570.8 L1901.3 561.4 L1903.0 550.3 L1904.7 547.7 L1906.5 546.0 L1909.0 530.3 L1910.4 546.9 L1912.1 546.0 L1913.3 552.9 L1915.5 556.3" stroke="#7e57c2" stroke-width="1.1" fill="none" stroke-linejoin="round"/>
<path d="M10.0 597.3 L12.0 598.7 L14.0 601.4 L16.0 604.2 L18.0 606.6 L20.0 608.6 L22.0 610.3 L24.0 612.0 L26.0 613.1 L28.0 613.8 L30.0 614.3 L32.0 613.9 L34.0 612.6 L36.0 611.3 L38.0 609.8 L40.0 608.0 L42.0 606.2 L44.0 604.6 L46.0 603.6 L48.0 602.9 L50.0 602.2 L52.0 601.7 L54.0 601.4 L56.0 601.3 L58.0 601.5 L60.0 602.1 L62.0 602.7 L64.0 603.4 L66.0 604.5 L68.0 605.8 L70.0 607.0 L72.0 607.9 L74.0 608.4 L76.0 608.4 L78.0 607.7 L80.0 607.1 L82.0 606.3 L84.0 605.6 L86.0 604.8 L88.0 603.8 L90.0 602.4 L92.0 600.7 L94.0 599.3 L96.0 598.0 L98.0 596.8 L100.0 595.0 L102.0 592.4 L104.0 589.4 L106.0 586.4 L108.0 583.6 L110.0 580.9 L112.0 578.7 L114.0 577.2 L116.0 576.9 L118.0 577.8 L120.0 579.1 L122.0 580.3 L124.0 581.4 L126.0 582.6 L128.0 583.3 L130.0 583.5 L132.0 583.4 L134.0 582.8 L136.0 581.8 L138.0 580.5 L140.0 579.0 L142.0 577.4 L144.0 576.4 L146.0 575.9 L148.0 575.7 L150.0 576.0 L152.0 576.6 L154.0 578.3 L156.0 581.0 L158.0 583.6 L160.0 586.0 L162.0 588.3 L164.0 590.3 L166.0 591.8 L168.0 593.1 L170.0 593.9 L172.0 594.0 L174.0 592.7 L176.0 590.2 L178.0 587.6 L180.0 585.0 L182.0 583.3 L184.0 581.9 L186.0 580.9 L188.0 580.3 L190.0 580.0 L192.0 580.2 L194.0 580.9 L196.0 582.3 L198.0 584.3 L200.0 586.0 L202.0 587.3 L204.0 588.8 L206.0 590.6 L208.0 592.6 L210.0 594.3 L212.0 595.6 L214.0 596.8 L216.0 598.3 L218.0 600.1 L220.0 602.1 L222.0 604.0 L224.0 604.4 L226.0 603.4 L228.0 602.4 L230.0 602.4 L232.0 603.8 L234.0 605.5 L236.0 606.9 L238.0 608.0 L240.0 608.8 L242.0 609.3 L244.0 609.9 L246.0 610.7 L248.0 611.5 L250.0 612.1 L252.0 612.4 L254.0 611.7 L256.0 610.1 L258.0 608.9 L260.0 608.1 L262.0 607.2 L264.0 606.1 L266.0 604.9 L268.0 604.3 L270.0 604.4 L272.0 604.5 L274.0 604.4 L276.0 604.1 L278.0 603.5 L280.0 602.8 L282.0 602.0 L284.0 602.2 L286.0 603.3 L288.0 604.8 L290.0 605.2 L292.0 603.6 L294.0 601.5 L296.0 599.6 L298.0 597.8 L300.0 596.1 L302.0 594.4 L304.0 592.9 L306.0 591.4 L308.0 590.0 L310.0 589.0 L312.0 588.2 L314.0 587.8 L316.0 588.0 L318.0 588.3 L320.0 588.3 L322.0 588.2 L324.0 588.0 L326.0 588.2 L328.0 588.7 L330.0 589.6 L332.0 591.5 L334.0 594.1 L336.0 596.8 L338.0 599.6 L340.0 602.0 L342.0 603.4 L344.0 603.5 L346.0 602.6 L348.0 600.8 L350.0 598.1 L352.0 595.0 L354.0 591.1 L356.0 586.5 L358.0 582.2 L360.0 578.7 L362.0 577.0 L364.0 576.8 L366.0 576.6 L368.0 576.9 L370.0 577.9 L372.0 579.3 L374.0 580.7 L376.0 582.5 L378.0 584.8 L380.0 587.0 L382.0 589.1 L384.0 590.8 L386.0 592.4 L388.0 594.1 L390.0 594.6 L392.0 593.8 L394.0 592.9 L396.0 592.1 L398.0 591.6 L400.0 591.5 L402.0 591.4 L404.0 591.4 L406.0 591.1 L408.0 590.6 L410.0 590.3 L412.0 590.9 L414.0 591.7 L416.0 591.4 L418.0 590.7 L420.0 589.9 L422.0 589.6 L424.0 589.7 L426.0 589.8 L428.0 589.9 L430.0 589.6 L432.0 588.6 L434.0 587.0 L436.0 585.5 L438.0 584.2 L440.0 583.0 L442.0 581.7 L444.0 580.1 L446.0 578.1 L448.0 575.8 L450.0 573.0 L452.0 570.0 L454.0 567.7 L456.0 567.2 L458.0 568.2 L460.0 569.2 L462.0 569.4 L464.0 569.1 L466.0 568.8 L468.0 569.1 L470.0 570.1 L472.0 571.8 L474.0 573.9 L476.0 576.2 L478.0 578.2 L480.0 579.7 L482.0 581.2 L484.0 582.6 L486.0 583.7 L488.0 584.7 L490.0 585.7 L492.0 586.8 L494.0 588.0 L496.0 588.9 L498.0 588.9 L500.0 588.6 L502.0 588.3 L504.0 588.1 L506.0 588.3 L508.0 588.8 L510.0 589.3 L512.0 589.6 L514.0 589.9 L516.0 590.1 L518.0 590.3 L520.0 590.4 L522.0 590.5 L524.0 590.6 L526.0 590.7 L528.0 591.2 L530.0 592.3 L532.0 593.7 L534.0 595.1 L536.0 596.8 L538.0 598.6 L540.0 600.2 L542.0 601.3 L544.0 602.0 L546.0 602.8 L548.0 603.2 L550.0 602.7 L552.0 601.7 L554.0 600.4 L556.0 598.2 L558.0 595.5 L560.0 592.9 L562.0 590.2 L564.0 587.7 L566.0 585.7 L568.0 584.0 L570.0 582.8 L572.0 582.1 L574.0 581.6 L576.0 581.1 L578.0 580.6 L580.0 580.1 L582.0 579.6 L584.0 579.2 L586.0 578.8 L588.0 578.4 L590.0 578.0 L592.0 577.1 L594.0 575.4 L596.0 573.4 L598.0 571.9 L600.0 571.1 L602.0 570.7 L604.0 570.3 L606.0 570.3 L608.0 570.8 L610.0 571.5 L612.0 572.1 L614.0 573.9 L616.0 576.7 L618.0 579.5 L620.0 582.2 L622.0 584.8 L624.0 587.4 L626.0 589.1 L628.0 589.8 L630.0 590.6 L632.0 590.7 L634.0 589.5 L636.0 587.7 L638.0 585.9 L640.0 583.4 L642.0 580.4 L644.0 577.4 L646.0 575.0 L648.0 573.2 L650.0 571.7 L652.0 570.5 L654.0 570.0 L656.0 570.2 L658.0 570.2 L660.0 570.0 L662.0 569.9 L664.0 570.8 L666.0 572.7 L668.0 574.5 L670.0 576.3 L672.0 578.2 L674.0 580.0 L676.0 581.5 L678.0 582.4 L680.0 583.2 L682.0 584.0 L684.0 583.7 L686.0 582.1 L688.0 579.7 L690.0 575.1 L692.0 569.1 L694.0 564.4 L696.0 561.4 L698.0 559.0 L700.0 557.6 L702.0 557.0 L704.0 556.4 L706.0 556.7 L708.0 559.1 L710.0 563.1 L712.0 567.5 L714.0 572.1 L716.0 575.6 L718.0 578.3 L720.0 580.1 L722.0 581.2 L724.0 582.4 L726.0 583.3 L728.0 584.2 L730.0 584.9 L732.0 585.1 L734.0 584.9 L736.0 584.6 L738.0 584.3 L740.0 584.1 L742.0 583.8 L744.0 583.2 L746.0 582.0 L748.0 580.8 L750.0 579.6 L752.0 578.6 L754.0 577.8 L756.0 576.9 L758.0 577.0 L760.0 578.1 L762.0 579.4 L764.0 581.5 L766.0 584.0 L768.0 586.5 L770.0 588.9 L772.0 591.1 L774.0 593.4 L776.0 595.8 L778.0 598.4 L780.0 601.2 L782.0 603.8 L784.0 605.9 L786.0 607.4 L788.0 608.9 L790.0 610.5 L792.0 612.2 L794.0 613.9 L796.0 615.5 L798.0 616.4 L800.0 616.8 L802.0 617.2 L804.0 617.7 L806.0 618.2 L808.0 618.3 L810.0 617.7 L812.0 616.7 L814.0 615.3 L816.0 613.8 L818.0 612.8 L820.0 612.1 L822.0 610.3 L824.0 607.8 L826.0 605.3 L828.0 602.9 L830.0 600.8 L832.0 599.5 L834.0 598.9 L836.0 598.3 L838.0 598.3 L840.0 599.8 L842.0 602.3 L844.0 604.2 L846.0 605.5 L848.0 606.5 L850.0 606.9 L852.0 607.1 L854.0 606.9 L856.0 606.4 L858.0 605.5 L860.0 603.8 L862.0 601.8 L864.0 600.3 L866.0 599.3 L868.0 598.3 L870.0 597.2 L872.0 596.0 L874.0 594.8 L876.0 593.5 L878.0 592.3 L880.0 591.0 L882.0 589.8 L884.0 588.5 L886.0 587.2 L888.0 585.9 L890.0 585.1 L892.0 584.9 L894.0 584.7 L896.0 585.2 L898.0 586.3 L900.0 587.6 L902.0 589.3 L904.0 591.6 L906.0 593.8 L908.0 595.9 L910.0 597.7 L912.0 599.4 L914.0 600.4 L916.0 600.5 L918.0 600.4 L920.0 599.9 L922.0 598.2 L924.0 595.8 L926.0 593.7 L928.0 592.2 L930.0 591.2 L932.0 590.9 L934.0 591.6 L936.0 592.5 L938.0 593.2 L940.0 593.2 L942.0 592.8 L944.0 592.6 L946.0 592.7 L948.0 592.8 L950.0 592.5 L952.0 590.6 L954.0 587.9 L956.0 585.1 L958.0 583.0 L960.0 581.5 L962.0 580.0 L964.0 578.5 L966.0 577.1 L968.0 575.8 L970.0 575.0 L972.0 575.0 L974.0 575.5 L976.0 576.2 L978.0 577.3 L980.0 578.7 L982.0 580.1 L984.0 581.6 L986.0 583.1 L988.0 584.2 L990.0 584.7 L992.0 585.0 L994.0 585.2 L996.0 585.6 L998.0 586.0 L1000.0 586.4 L1002.0 586.7 L1004.0 586.8 L1006.0 586.9 L1008.0 587.0 L1010.0 587.3 L1012.0 587.9 L1014.0 588.5 L1016.0 588.7 L1018.0 588.2 L1020.0 587.2 L1022.0 586.0 L1024.0 584.5 L1026.0 582.7 L1028.0 581.0 L1030.0 580.6 L1032.0 581.0 L1034.0 580.8 L1036.0 580.1 L1038.0 579.7 L1040.0 580.1 L1042.0 580.9 L1044.0 581.9 L1046.0 582.9 L1048.0 584.1 L1050.0 585.3 L1052.0 586.5 L1054.0 586.8 L1056.0 586.3 L1058.0 585.9 L1060.0 585.1 L1062.0 583.2 L1064.0 580.3 L1066.0 576.8 L1068.0 572.5 L1070.0 568.4 L1072.0 564.8 L1074.0 562.7 L1076.0 561.9 L1078.0 561.5 L1080.0 561.6 L1082.0 561.8 L1084.0 563.6 L1086.0 567.1 L1088.0 571.4 L1090.0 576.5 L1092.0 580.9 L1094.0 584.0 L1096.0 586.7 L1098.0 588.7 L1100.0 590.2 L1102.0 591.7 L1104.0 592.9 L1106.0 593.7 L1108.0 594.3 L1110.0 594.9 L1112.0 595.2 L1114.0 595.4 L1116.0 596.0 L1118.0 597.0 L1120.0 598.3 L1122.0 599.5 L1124.0 600.4 L1126.0 601.2 L1128.0 601.9 L1130.0 602.4 L1132.0 602.6 L1134.0 602.8 L1136.0 603.0 L1138.0 603.3 L1140.0 603.7 L1142.0 603.9 L1144.0 603.5 L1146.0 602.8 L1148.0 602.2 L1150.0 601.8 L1152.0 601.5 L1154.0 601.2 L1156.0 600.8 L1158.0 600.2 L1160.0 599.6 L1162.0 599.7 L1164.0 600.5 L1166.0 601.2 L1168.0 601.7 L1170.0 601.9 L1172.0 602.4 L1174.0 603.8 L1176.0 605.6 L1178.0 607.5 L1180.0 609.5 L1182.0 611.3 L1184.0 612.6 L1186.0 613.6 L1188.0 615.8 L1190.0 619.4 L1192.0 622.3 L1194.0 623.2 L1196.0 622.4 L1198.0 620.7 L1200.0 618.7 L1202.0 616.3 L1204.0 613.8 L1206.0 611.3 L1208.0 608.6 L1210.0 605.8 L1212.0 603.1 L1214.0 601.7 L1216.0 601.7 L1218.0 601.8 L1220.0 602.2 L1222.0 603.0 L1224.0 604.0 L1226.0 605.0 L1228.0 606.2 L1230.0 607.3 L1232.0 608.8 L1234.0 610.8 L1236.0 613.2 L1238.0 615.1 L1240.0 616.5 L1242.0 617.0 L1244.0 616.3 L1246.0 615.3 L1248.0 613.7 L1250.0 611.7 L1252.0 609.5 L1254.0 606.6 L1256.0 603.3 L1258.0 600.6 L1260.0 598.7 L1262.0 597.1 L1264.0 596.1 L1266.0 595.7 L1268.0 595.1 L1270.0 593.9 L1272.0 592.1 L1274.0 589.7 L1276.0 586.7 L1278.0 583.9 L1280.0 581.7 L1282.0 579.7 L1284.0 578.2 L1286.0 577.4 L1288.0 576.9 L1290.0 577.6 L1292.0 579.1 L1294.0 581.2 L1296.0 583.9 L1298.0 586.5 L1300.0 589.1 L1302.0 591.7 L1304.0 594.2 L1306.0 596.5 L1308.0 598.7 L1310.0 600.9 L1312.0 602.5 L1314.0 603.7 L1316.0 605.0 L1318.0 605.6 L1320.0 605.5 L1322.0 605.3 L1324.0 605.1 L1326.0 605.1 L1328.0 605.2 L1330.0 605.2 L1332.0 605.7 L1334.0 607.0 L1336.0 608.6 L1338.0 610.1 L1340.0 611.3 L1342.0 612.4 L1344.0 613.3 L1346.0 612.9 L1348.0 611.3 L1350.0 609.8 L1352.0 608.6 L1354.0 607.6 L1356.0 607.1 L1358.0 607.5 L1360.0 608.2 L1362.0 608.8 L1364.0 609.1 L1366.0 609.6 L1368.0 610.8 L1370.0 612.0 L1372.0 611.8 L1374.0 610.8 L1376.0 609.8 L1378.0 608.4 L1380.0 606.4 L1382.0 604.3 L1384.0 601.6 L1386.0 598.6 L1388.0 595.9 L1390.0 593.5 L1392.0 591.2 L1394.0 589.6 L1396.0 588.5 L1398.0 587.4 L1400.0 586.5 L1402.0 585.9 L1404.0 588.3 L1406.0 592.8 L1408.0 596.1 L1410.0 598.9 L1412.0 602.4 L1414.0 606.6 L1416.0 611.0 L1418.0 615.8 L1420.0 620.3 L1422.0 624.4 L1424.0 626.9 L1426.0 627.9 L1428.0 628.8 L1430.0 629.5 L1432.0 630.2 L1434.0 630.4 L1436.0 630.1 L1438.0 628.8 L1440.0 626.4 L1442.0 623.5 L1444.0 619.1 L1446.0 613.5 L1448.0 609.0 L1450.0 605.4 L1452.0 602.5 L1454.0 600.4 L1456.0 598.6 L1458.0 597.1 L1460.0 596.1 L1462.0 596.1 L1464.0 596.9 L1466.0 597.6 L1468.0 598.9 L1470.0 600.7 L1472.0 601.8 L1474.0 601.3 L1476.0 600.3 L1478.0 599.4 L1480.0 598.6 L1482.0 597.2 L1484.0 595.2 L1486.0 593.0 L1488.0 590.2 L1490.0 587.0 L1492.0 584.0 L1494.0 581.0 L1496.0 578.2 L1498.0 575.5 L1500.0 573.2 L1502.0 571.2 L1504.0 570.3 L1506.0 570.6 L1508.0 571.0 L1510.0 571.6 L1512.0 572.2 L1514.0 572.9 L1516.0 574.3 L1518.0 576.6 L1520.0 578.8 L1522.0 580.7 L1524.0 582.4 L1526.0 583.4 L1528.0 583.6 L1530.0 583.5 L1532.0 583.0 L1534.0 582.2 L1536.0 581.3 L1538.0 580.8 L1540.0 580.8 L1542.0 580.9 L1544.0 581.0 L1546.0 581.2 L1548.0 581.9 L1550.0 582.8 L1552.0 584.0 L1554.0 585.9 L1556.0 588.2 L1558.0 590.5 L1560.0 592.7 L1562.0 595.0 L1564.0 597.2 L1566.0 598.9 L1568.0 600.3 L1570.0 601.4 L1572.0 602.2 L1574.0 602.7 L1576.0 603.4 L1578.0 604.2 L1580.0 605.0 L1582.0 605.4 L1584.0 604.8 L1586.0 603.8 L1588.0 602.3 L1590.0 600.5 L1592.0 599.3 L1594.0 598.7 L1596.0 597.1 L1598.0 594.3 L1600.0 591.2 L1602.0 588.7 L1604.0 587.0 L1606.0 585.6 L1608.0 584.0 L1610.0 582.4 L1612.0 580.7 L1614.0 579.1 L1616.0 577.9 L1618.0 577.3 L1620.0 577.9 L1622.0 578.9 L1624.0 580.0 L1626.0 581.3 L1628.0 582.5 L1630.0 584.2 L1632.0 586.6 L1634.0 589.3 L1636.0 592.2 L1638.0 595.4 L1640.0 596.9 L1642.0 596.6 L1644.0 596.1 L1646.0 595.8 L1648.0 596.0 L1650.0 596.5 L1652.0 596.9 L1654.0 597.8 L1656.0 599.3 L1658.0 601.1 L1660.0 602.8 L1662.0 604.6 L1664.0 606.3 L1666.0 608.1 L1668.0 609.6 L1670.0 610.9 L1672.0 612.2 L1674.0 612.4 L1676.0 611.3 L1678.0 610.1 L1680.0 608.5 L1682.0 606.6 L1684.0 604.7 L1686.0 603.2 L1688.0 601.9 L1690.0 600.9 L1692.0 600.7 L1694.0 601.1 L1696.0 601.4 L1698.0 601.6 L1700.0 601.7 L1702.0 601.8 L1704.0 601.9 L1706.0 601.7 L1708.0 601.2 L1710.0 600.5 L1712.0 599.3 L1714.0 597.8 L1716.0 596.3 L1718.0 595.2 L1720.0 594.4 L1722.0 593.7 L1724.0 592.8 L1726.0 591.6 L1728.0 590.4 L1730.0 589.0 L1732.0 587.0 L1734.0 584.5 L1736.0 582.0 L1738.0 579.7 L1740.0 577.8 L1742.0 576.1 L1744.0 575.3 L1746.0 575.2 L1748.0 575.1 L1750.0 575.1 L1752.0 575.1 L1754.0 575.1 L1756.0 575.0 L1758.0 574.5 L1760.0 573.9 L1762.0 573.6 L1764.0 573.4 L1766.0 572.7 L1768.0 571.7 L1770.0 570.5 L1772.0 569.0 L1774.0 567.4 L1776.0 565.4 L1778.0 563.0 L1780.0 560.6 L1782.0 557.7 L1784.0 555.0 L1786.0 552.6 L1788.0 551.6 L1790.0 551.9 L1792.0 552.9 L1794.0 554.8 L1796.0 557.1 L1798.0 560.0 L1800.0 563.1 L1802.0 566.4 L1804.0 570.0 L1806.0 572.2 L1808.0 572.8 L1810.0 572.2 L1812.0 570.7 L1814.0 569.3 L1816.0 567.7 L1818.0 566.0 L1820.0 564.8 L1822.0 564.2 L1824.0 563.8 L1826.0 563.5 L1828.0 563.5 L1830.0 563.6 L1832.0 563.9 L1834.0 564.4 L1836.0 565.0 L1838.0 565.5 L1840.0 565.9 L1842.0 566.1 L1844.0 566.3 L1846.0 567.1 L1848.0 568.9 L1850.0 571.2 L1852.0 573.5 L1854.0 576.0 L1856.0 578.5 L1858.0 580.9 L1860.0 582.8 L1862.0 584.2 L1864.0 585.6 L1866.0 587.0 L1868.0 586.9 L1870.0 585.2 L1872.0 583.1 L1874.0 580.8 L1876.0 578.3 L1878.0 575.8 L1880.0 574.2 L1882.0 573.7 L1884.0 572.2 L1886.0 569.4 L1888.0 566.4 L1890.0 563.7 L1892.0 561.3 L1894.0 560.0 L1896.0 559.9 L1898.0 559.7 L1900.0 558.8 L1902.0 557.2 L1904.0 556.0 L1906.0 555.1 L1908.0 554.2 L1910.0 553.8 L1912.0 554.0 L1914.0 554.1" stroke="#f2cc3a" stroke-width="1.15" fill="none" stroke-linejoin="round"/>
</g>
<text x="10.5" y="18.8" fill="#1a1a1a" font-size="12" font-weight="normal" text-anchor="start" textLength="401.5" lengthAdjust="spacingAndGlyphs">crypto-news-today created with TradingView.com, Aug 09, 2025 09:06 UTC</text>
<text x="17.9" y="45.7" fill="#fff" font-size="12" font-weight="normal" text-anchor="start" textLength="143" lengthAdjust="spacingAndGlyphs" stroke="#fff" stroke-width="0.5">Pi Network/USD · 30 · OKX</text>
<text x="168.2" y="45.7" fill="#fff" font-size="12" font-weight="normal" text-anchor="start" textLength="8.3" lengthAdjust="spacingAndGlyphs" stroke="#fff" stroke-width="0.5">O</text>
<text x="176.4" y="45.7" fill="#f23645" font-size="12" font-weight="normal" text-anchor="start" textLength="35.5" lengthAdjust="spacingAndGlyphs" stroke="#f23645" stroke-width="0.2">0.4030</text>
<text x="219.1" y="45.7" fill="#fff" font-size="12" font-weight="normal" text-anchor="start" textLength="8.0" lengthAdjust="spacingAndGlyphs" stroke="#fff" stroke-width="0.5">H</text>
<text x="227.4" y="45.7" fill="#f23645" font-size="12" font-weight="normal" text-anchor="start" textLength="35.5" lengthAdjust="spacingAndGlyphs" stroke="#f23645" stroke-width="0.2">0.4030</text>
<text x="270.5" y="45.7" fill="#fff" font-size="12" font-weight="normal" text-anchor="start" textLength="6.2" lengthAdjust="spacingAndGlyphs" stroke="#fff" stroke-width="0.5">L</text>
<text x="276.7" y="45.7" fill="#f23645" font-size="12" font-weight="normal" text-anchor="start" textLength="35.5" lengthAdjust="spacingAndGlyphs" stroke="#f23645" stroke-width="0.2">0.4008</text>
<text x="318.7" y="45.7" fill="#fff" font-size="12" font-weight="normal" text-anchor="start" textLength="7.6" lengthAdjust="spacingAndGlyphs" stroke="#fff" stroke-width="0.5">C</text>
<text x="326.9" y="45.7" fill="#f23645" font-size="12" font-weight="normal" text-anchor="start" textLength="35.5" lengthAdjust="spacingAndGlyphs" stroke="#f23645" stroke-width="0.2">0.4008</text>
<text x="370.1" y="45.7" fill="#f23645" font-size="12" font-weight="normal" text-anchor="start" textLength="91" lengthAdjust="spacingAndGlyphs" stroke="#f23645" stroke-width="0.2">−0.0012 (−0.30%)</text>
<text x="17.9" y="517.6" fill="#fff" font-size="12" font-weight="normal" text-anchor="start" textLength="76" lengthAdjust="spacingAndGlyphs" stroke="#fff" stroke-width="0.5">RSI (14, close)</text>
<text x="102.4" y="517.6" fill="#7e57c2" font-size="12" font-weight="normal" text-anchor="start" textLength="28.5" lengthAdjust="spacingAndGlyphs" stroke="#7e57c2" stroke-width="0.2">65.98</text>
<text x="138.3" y="517.6" fill="#f2cc3a" font-size="12" font-weight="normal" text-anchor="start" textLength="29.5" lengthAdjust="spacingAndGlyphs" stroke="#f2cc3a" stroke-width="0.2">67.63</text>
<text x="17.7" y="687" fill="#fff" font-size="12" font-weight="normal" text-anchor="start" textLength="111.3" lengthAdjust="spacingAndGlyphs" stroke="#fff" stroke-width="0.5">MACD (12, 26, close)</text>
<text x="136.4" y="687" fill="#b2dfdb" font-size="12" font-weight="normal" text-anchor="start" textLength="35.4" lengthAdjust="spacingAndGlyphs" stroke="#b2dfdb" stroke-width="0.2">0.0010</text>
<text x="180.1" y="687" fill="#2962ff" font-size="12" font-weight="normal" text-anchor="start" textLength="33.7" lengthAdjust="spacingAndGlyphs" stroke="#2962ff" stroke-width="0.2">0.0081</text>
<text x="222.8" y="687" fill="#ff6d00" font-size="12" font-weight="normal" text-anchor="start" textLength="34" lengthAdjust="spacingAndGlyphs" stroke="#ff6d00" stroke-width="0.2">0.0071</text>
<text x="1984.9" y="94.89999999999999" fill="#fff" font-size="12" font-weight="normal" text-anchor="start" textLength="35.5" lengthAdjust="spacingAndGlyphs" stroke="#fff" stroke-width="0.5">0.5200</text>
<text x="1984.9" y="132.48000000000005" fill="#fff" font-size="12" font-weight="normal" text-anchor="start" textLength="35.5" lengthAdjust="spacingAndGlyphs" stroke="#fff" stroke-width="0.5">0.5000</text>
<text x="1984.9" y="170.06000000000006" fill="#fff" font-size="12" font-weight="normal" text-anchor="start" textLength="35.5" lengthAdjust="spacingAndGlyphs" stroke="#fff" stroke-width="0.5">0.4800</text>
<text x="1984.9" y="207.64" fill="#fff" font-size="12" font-weight="normal" text-anchor="start" textLength="35.5" lengthAdjust="spacingAndGlyphs" stroke="#fff" stroke-width="0.5">0.4600</text>
<text x="1984.9" y="245.22000000000003" fill="#fff" font-size="12" font-weight="normal" text-anchor="start" textLength="35.5" lengthAdjust="spacingAndGlyphs" stroke="#fff" stroke-width="0.5">0.4400</text>
<text x="1984.9" y="282.80000000000007" fill="#fff" font-size="12" font-weight="normal" text-anchor="start" textLength="35.5" lengthAdjust="spacingAndGlyphs" stroke="#fff" stroke-width="0.5">0.4200</text>
<text x="1984.9" y="357.96" fill="#fff" font-size="12" font-weight="normal" text-anchor="start" textLength="35.5" lengthAdjust="spacingAndGlyphs" stroke="#fff" stroke-width="0.5">0.3800</text>
<text x="1984.9" y="395.54" fill="#fff" font-size="12" font-weight="normal" text-anchor="start" textLength="35.5" lengthAdjust="spacingAndGlyphs" stroke="#fff" stroke-width="0.5">0.3600</text>
<text x="1984.9" y="433.11999999999995" fill="#fff" font-size="12" font-weight="normal" text-anchor="start" textLength="35.5" lengthAdjust="spacingAndGlyphs" stroke="#fff" stroke-width="0.5">0.3400</text>
<text x="1984.9" y="470.7" fill="#fff" font-size="12" font-weight="normal" text-anchor="start" textLength="35.5" lengthAdjust="spacingAndGlyphs" stroke="#fff" stroke-width="0.5">0.3200</text>
<text x="1984.9" y="534.3" fill="#fff" font-size="12" font-weight="normal" text-anchor="start" textLength="29.8" lengthAdjust="spacingAndGlyphs" stroke="#fff" stroke-width="0.5">80.00</text>
<text x="1984.9" y="571.8" fill="#fff" font-size="12" font-weight="normal" text-anchor="start" textLength="29.8" lengthAdjust="spacingAndGlyphs" stroke="#fff" stroke-width="0.5">60.00</text>
<text x="1984.9" y="609.3" fill="#fff" font-size="12" font-weight="normal" text-anchor="start" textLength="29.8" lengthAdjust="spacingAndGlyphs" stroke="#fff" stroke-width="0.5">40.00</text>
<text x="1984.9" y="646.8" fill="#fff" font-size="12" font-weight="normal" text-anchor="start" textLength="29.8" lengthAdjust="spacingAndGlyphs" stroke="#fff" stroke-width="0.5">20.00</text>
<text x="1984.9" y="808.9" fill="#fff" font-size="12" font-weight="normal" text-anchor="start" textLength="42" lengthAdjust="spacingAndGlyphs" stroke="#fff" stroke-width="0.5">−0.0100</text>
<rect x="1977" y="307" width="49" height="30.8" rx="1.5" fill="#f23645"/>
<text x="1984.9" y="319.6" fill="#fff" font-size="12" font-weight="normal" text-anchor="start" textLength="35.5" lengthAdjust="spacingAndGlyphs" stroke="#fff" stroke-width="0.5">0.4008</text>
<text x="1984.9" y="333.6" fill="#fbd3d7" font-size="12" font-weight="normal" text-anchor="start" textLength="29.6" lengthAdjust="spacingAndGlyphs" stroke="#fbd3d7" stroke-width="0.35">23:18</text>
<rect x="1977" y="532" width="43" height="17.3" rx="2" fill="#fdd835"/>
<text x="1984.9" y="545.2" fill="#131722" font-size="12" font-weight="normal" text-anchor="start" textLength="29.8" lengthAdjust="spacingAndGlyphs" stroke="#131722" stroke-width="0.2">67.63</text>
<rect x="1977" y="549.3" width="43" height="16.7" rx="2" fill="#7e57c2"/>
<text x="1984.9" y="562" fill="#fff" font-size="12" font-weight="normal" text-anchor="start" textLength="29.8" lengthAdjust="spacingAndGlyphs" stroke="#fff" stroke-width="0.5">65.98</text>
<rect x="1977" y="685.4" width="49" height="16.8" rx="2" fill="#2962ff"/>
<text x="1984.9" y="698.2" fill="#fff" font-size="12" font-weight="normal" text-anchor="start" textLength="35.5" lengthAdjust="spacingAndGlyphs" stroke="#fff" stroke-width="0.5">0.0081</text>
<rect x="1977" y="702.2" width="49" height="16.8" rx="2" fill="#ff6d00"/>
<text x="1984.9" y="715" fill="#fff" font-size="12" font-weight="normal" text-anchor="start" textLength="35.5" lengthAdjust="spacingAndGlyphs" stroke="#fff" stroke-width="0.5">0.0071</text>
<rect x="1977" y="736.2" width="49" height="16.3" rx="2" fill="#b2dfdb"/>
<text x="1984.9" y="748.8" fill="#131722" font-size="12" font-weight="normal" text-anchor="start" textLength="35.5" lengthAdjust="spacingAndGlyphs" stroke="#131722" stroke-width="0.2">0.0010</text>
<rect x="1980.5" y="31" width="53" height="26" rx="4" fill="#0f0f0f" stroke="#323232" stroke-width="1"/>
<text x="1988.9" y="48.7" fill="#d9d9d9" font-size="12" font-weight="normal" text-anchor="start" textLength="21.5" lengthAdjust="spacingAndGlyphs" stroke="#d9d9d9" stroke-width="0.2">USD</text>
<text x="21.2" y="855.3" fill="#fff" font-size="11.4" font-weight="normal" text-anchor="middle" stroke="#fff" stroke-width="0.5">12</text>
<text x="91.6" y="855.3" fill="#fff" font-size="11.4" font-weight="normal" text-anchor="middle" stroke="#fff" stroke-width="0.5">13</text>
<text x="162.3" y="855.3" fill="#fff" font-size="11.4" font-weight="normal" text-anchor="middle" stroke="#fff" stroke-width="0.5">14</text>
<text x="229.7" y="855.3" fill="#fff" font-size="11.4" font-weight="normal" text-anchor="middle" stroke="#fff" stroke-width="0.5">15</text>
<text x="297.3" y="855.3" fill="#fff" font-size="11.4" font-weight="normal" text-anchor="middle" stroke="#fff" stroke-width="0.5">16</text>
<text x="366.4" y="855.3" fill="#fff" font-size="11.4" font-weight="normal" text-anchor="middle" stroke="#fff" stroke-width="0.5">17</text>
<text x="434.0" y="855.3" fill="#fff" font-size="11.4" font-weight="normal" text-anchor="middle" stroke="#fff" stroke-width="0.5">18</text>
<text x="504.4" y="855.3" fill="#fff" font-size="11.4" font-weight="normal" text-anchor="middle" stroke="#fff" stroke-width="0.5">19</text>
<text x="558.8" y="855.3" fill="#fff" font-size="11.4" font-weight="normal" text-anchor="middle" stroke="#fff" stroke-width="0.5">20</text>
<text x="616.9" y="855.3" fill="#fff" font-size="11.4" font-weight="normal" text-anchor="middle" stroke="#fff" stroke-width="0.5">21</text>
<text x="686.3" y="855.3" fill="#fff" font-size="11.4" font-weight="normal" text-anchor="middle" stroke="#fff" stroke-width="0.5">22</text>
<text x="756.9" y="855.3" fill="#fff" font-size="11.4" font-weight="normal" text-anchor="middle" stroke="#fff" stroke-width="0.5">23</text>
<text x="826.3" y="855.3" fill="#fff" font-size="11.4" font-weight="normal" text-anchor="middle" stroke="#fff" stroke-width="0.5">24</text>
<text x="893.6" y="855.3" fill="#fff" font-size="11.4" font-weight="normal" text-anchor="middle" stroke="#fff" stroke-width="0.5">25</text>
<text x="957.9" y="855.3" fill="#fff" font-size="11.4" font-weight="normal" text-anchor="middle" stroke="#fff" stroke-width="0.5">26</text>
<text x="1012.5" y="855.3" fill="#fff" font-size="11.4" font-weight="normal" text-anchor="middle" stroke="#fff" stroke-width="0.5">27</text>
<text x="1133.2" y="855.3" fill="#fff" font-size="11.4" font-weight="normal" text-anchor="middle" stroke="#fff" stroke-width="0.5">29</text>
<text x="1202.2" y="855.3" fill="#fff" font-size="11.4" font-weight="normal" text-anchor="middle" stroke="#fff" stroke-width="0.5">30</text>
<text x="1270.9" y="855.3" fill="#fff" font-size="11.4" font-weight="normal" text-anchor="middle" stroke="#fff" stroke-width="0.5">31</text>
<text x="1338.6" y="855.3" fill="#fff" font-size="11.4" font-weight="normal" text-anchor="middle" stroke="#fff" stroke-width="0.5">Aug</text>
<text x="1409.2" y="855.3" fill="#fff" font-size="11.4" font-weight="normal" text-anchor="middle" stroke="#fff" stroke-width="0.5">2</text>
<text x="1479.9" y="855.3" fill="#fff" font-size="11.4" font-weight="normal" text-anchor="middle" stroke="#fff" stroke-width="0.5">3</text>
<text x="1550.3" y="855.3" fill="#fff" font-size="11.4" font-weight="normal" text-anchor="middle" stroke="#fff" stroke-width="0.5">4</text>
<text x="1617.7" y="855.3" fill="#fff" font-size="11.4" font-weight="normal" text-anchor="middle" stroke="#fff" stroke-width="0.5">5</text>
<text x="1682.2" y="855.3" fill="#fff" font-size="11.4" font-weight="normal" text-anchor="middle" stroke="#fff" stroke-width="0.5">6</text>
<text x="1749.9" y="855.3" fill="#fff" font-size="11.4" font-weight="normal" text-anchor="middle" stroke="#fff" stroke-width="0.5">7</text>
<text x="1820.0" y="855.3" fill="#fff" font-size="11.4" font-weight="normal" text-anchor="middle" stroke="#fff" stroke-width="0.5">8</text>
<text x="1887.6" y="855.3" fill="#fff" font-size="11.4" font-weight="normal" text-anchor="middle" stroke="#fff" stroke-width="0.5">9</text>
<text x="1958.7" y="855.3" fill="#fff" font-size="11.4" font-weight="normal" text-anchor="middle" stroke="#fff" stroke-width="0.5">10</text>
<g transform="translate(12,883.9) scale(0.833)" fill="#141414"><path d="M14 22H7V11H0V4h14v18zM28 22h-8l7.5-18h8L28 22z"/><circle cx="20" cy="8" r="4"/></g>
<text x="49.3" y="902" fill="#141414" font-size="20.5" font-weight="normal" stroke="#141414" stroke-width="0.6" textLength="120.7" lengthAdjust="spacingAndGlyphs">TradingView</text>
</svg>
</body></html>
